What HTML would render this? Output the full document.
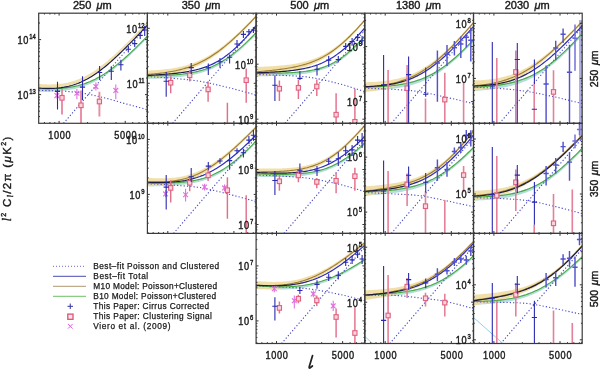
<!DOCTYPE html>
<html><head><meta charset="utf-8"><style>
html,body{margin:0;padding:0;background:#fff;}
svg{display:block;will-change:transform;}
text{font-family:"Liberation Sans", sans-serif;fill:#1a1a1a;}
.b{stroke:#1a1a1a;stroke-width:0.25px;}
.t{stroke:#1a1a1a;stroke-width:0.4px;}
</style></head><body>
<svg width="600" height="369" viewBox="0 0 600 369">
<rect width="600" height="369" fill="#fff"/>
<g id="content"><clipPath id="cp00"><rect x="38.70" y="13.20" width="108.70" height="110.10"/></clipPath><g clip-path="url(#cp00)"><path d="M38.70 87.66L40.20 87.74L41.70 87.80L43.20 87.86L44.70 87.90L46.20 87.94L47.70 87.97L49.20 87.99L50.70 87.99L52.20 87.99L53.70 87.97L55.20 87.94L56.70 87.89L58.20 87.83L59.70 87.75L61.20 87.65L62.70 87.54L64.20 87.41L65.70 87.26L67.20 87.08L68.70 86.89L70.20 86.67L71.70 86.43L73.20 86.16L74.70 85.87L76.20 85.55L77.70 85.20L79.20 84.83L80.70 84.42L82.20 83.99L83.70 83.52L85.20 83.02L86.70 82.49L88.20 81.92L89.70 81.32L91.20 80.69L92.70 80.02L94.20 79.32L95.70 78.59L97.20 77.81L98.70 77.01L100.20 76.17L101.70 75.29L103.20 74.38L104.70 73.44L106.20 72.46L107.70 71.46L109.20 70.42L110.70 69.35L112.20 68.25L113.70 67.12L115.20 65.96L116.70 64.78L118.20 63.57L119.70 62.33L121.20 61.07L122.70 59.79L124.20 58.48L125.70 57.15L127.20 55.80L128.70 54.44L130.20 53.05L131.70 51.65L133.20 50.23L134.70 48.79L136.20 47.34L137.70 45.88L139.20 44.40L140.70 42.91L142.20 41.40L143.70 39.89L145.20 38.37L146.70 36.83L147.40 36.11L147.40 38.11L146.70 38.83L145.20 40.37L143.70 41.90L142.20 43.42L140.70 44.93L139.20 46.43L137.70 47.92L136.20 49.39L134.70 50.86L133.20 52.30L131.70 53.74L130.20 55.15L128.70 56.56L127.20 57.94L125.70 59.30L124.20 60.65L122.70 61.97L121.20 63.27L119.70 64.55L118.20 65.81L116.70 67.04L115.20 68.25L113.70 69.43L112.20 70.58L110.70 71.70L109.20 72.79L107.70 73.86L106.20 74.89L104.70 75.89L103.20 76.86L101.70 77.79L100.20 78.69L98.70 79.56L97.20 80.39L95.70 81.19L94.20 81.96L92.70 82.69L91.20 83.39L89.70 84.05L88.20 84.68L86.70 85.28L85.20 85.84L83.70 86.37L82.20 86.87L80.70 87.34L79.20 87.78L77.70 88.19L76.20 88.57L74.70 88.92L73.20 89.25L71.70 89.55L70.20 89.83L68.70 90.08L67.20 90.31L65.70 90.52L64.20 90.71L62.70 90.88L61.20 91.03L59.70 91.17L58.20 91.28L56.70 91.39L55.20 91.47L53.70 91.55L52.20 91.61L50.70 91.65L49.20 91.69L47.70 91.71L46.20 91.73L44.70 91.73L43.20 91.73L41.70 91.71L40.20 91.69L38.70 91.66Z" fill="#b4dcd8"/><path d="M38.70 83.96L40.20 84.07L41.70 84.16L43.20 84.24L44.70 84.31L46.20 84.36L47.70 84.39L49.20 84.40L50.70 84.39L52.20 84.36L53.70 84.31L55.20 84.24L56.70 84.14L58.20 84.02L59.70 83.87L61.20 83.69L62.70 83.48L64.20 83.24L65.70 82.98L67.20 82.67L68.70 82.34L70.20 81.97L71.70 81.56L73.20 81.12L74.70 80.64L76.20 80.12L77.70 79.57L79.20 78.98L80.70 78.34L82.20 77.67L83.70 76.96L85.20 76.21L86.70 75.42L88.20 74.59L89.70 73.72L91.20 72.82L92.70 71.88L94.20 70.90L95.70 69.89L97.20 68.84L98.70 67.77L100.20 66.65L101.70 65.51L103.20 64.34L104.70 63.14L106.20 61.91L107.70 60.65L109.20 59.37L110.70 58.07L112.20 56.74L113.70 55.40L115.20 54.03L116.70 52.64L118.20 51.23L119.70 49.81L121.20 48.37L122.70 46.92L124.20 45.45L125.70 43.97L127.20 42.48L128.70 40.97L130.20 39.45L131.70 37.93L133.20 36.39L134.70 34.85L136.20 33.30L137.70 31.73L139.20 30.17L140.70 28.59L142.20 27.01L143.70 25.42L145.20 23.83L146.70 22.24L147.40 21.49L147.40 24.09L146.70 24.84L145.20 26.43L143.70 28.03L142.20 29.62L140.70 31.20L139.20 32.78L137.70 34.35L136.20 35.92L134.70 37.47L133.20 39.02L131.70 40.56L130.20 42.10L128.70 43.62L127.20 45.13L125.70 46.63L124.20 48.12L122.70 49.59L121.20 51.05L119.70 52.50L118.20 53.93L116.70 55.35L115.20 56.74L113.70 58.12L112.20 59.48L110.70 60.81L109.20 62.12L107.70 63.41L106.20 64.68L104.70 65.92L103.20 67.13L101.70 68.31L100.20 69.46L98.70 70.59L97.20 71.68L95.70 72.73L94.20 73.76L92.70 74.75L91.20 75.70L89.70 76.61L88.20 77.49L86.70 78.33L85.20 79.14L83.70 79.90L82.20 80.62L80.70 81.31L79.20 81.96L77.70 82.56L76.20 83.13L74.70 83.66L73.20 84.16L71.70 84.61L70.20 85.03L68.70 85.42L67.20 85.77L65.70 86.08L64.20 86.37L62.70 86.62L61.20 86.84L59.70 87.04L58.20 87.20L56.70 87.34L55.20 87.45L53.70 87.54L52.20 87.61L50.70 87.65L49.20 87.68L47.70 87.68L46.20 87.67L44.70 87.64L43.20 87.59L41.70 87.53L40.20 87.45L38.70 87.36Z" fill="#efdb9e" fill-opacity="0.88"/><path d="M38.70 90.40L39.99 90.44L41.63 90.48L43.57 90.53L45.75 90.58L48.11 90.64L50.60 90.71L53.16 90.78L55.73 90.86L58.25 90.96L60.68 91.06L62.95 91.17L65.00 91.30L66.89 91.44L68.70 91.58L70.44 91.73L72.13 91.89L73.78 92.05L75.39 92.23L76.99 92.42L78.57 92.63L80.15 92.84L81.74 93.08L83.35 93.33L85.00 93.60L86.67 93.89L88.33 94.20L90.00 94.52L91.67 94.87L93.33 95.22L95.00 95.59L96.67 95.98L98.33 96.37L100.00 96.77L101.67 97.17L103.33 97.58L105.00 98.00L106.66 98.42L108.31 98.86L109.94 99.30L111.58 99.76L113.21 100.22L114.85 100.69L116.50 101.17L118.16 101.65L119.83 102.14L121.53 102.62L123.25 103.11L125.00 103.60L126.85 104.11L128.85 104.66L130.96 105.23L133.12 105.82L135.30 106.42L137.45 107.00L139.53 107.57L141.50 108.10L143.32 108.59L144.94 109.03L146.31 109.40L147.40 109.70" stroke="#4848c8" stroke-width="1.1" stroke-dasharray="1.2 2.1" fill="none"/><path d="M63.50 123.30L147.40 25.72" stroke="#4848c8" stroke-width="1.1" stroke-dasharray="1.2 2.1" fill="none"/><path d="M38.70 88.66L40.20 88.71L41.70 88.76L43.20 88.79L44.70 88.82L46.20 88.83L47.70 88.84L49.20 88.84L50.70 88.82L52.20 88.80L53.70 88.76L55.20 88.70L56.70 88.64L58.20 88.56L59.70 88.46L61.20 88.34L62.70 88.21L64.20 88.06L65.70 87.89L67.20 87.70L68.70 87.49L70.20 87.25L71.70 86.99L73.20 86.71L74.70 86.40L76.20 86.06L77.70 85.70L79.20 85.30L80.70 84.88L82.20 84.43L83.70 83.95L85.20 83.43L86.70 82.88L88.20 82.30L89.70 81.69L91.20 81.04L92.70 80.36L94.20 79.64L95.70 78.89L97.20 78.10L98.70 77.28L100.20 76.43L101.70 75.54L103.20 74.62L104.70 73.66L106.20 72.68L107.70 71.66L109.20 70.61L110.70 69.52L112.20 68.41L113.70 67.27L115.20 66.10L116.70 64.91L118.20 63.69L119.70 62.44L121.20 61.17L122.70 59.88L124.20 58.56L125.70 57.23L127.20 55.87L128.70 54.50L130.20 53.10L131.70 51.69L133.20 50.27L134.70 48.82L136.20 47.37L137.70 45.90L139.20 44.41L140.70 42.92L142.20 41.41L143.70 39.89L145.20 38.37L146.70 36.83L147.40 36.11" stroke="#48a848" stroke-width="1.1" fill="none"/><path d="M38.70 88.06L40.20 88.16L41.70 88.25L43.20 88.32L44.70 88.37L46.20 88.41L47.70 88.43L49.20 88.44L50.70 88.42L52.20 88.39L53.70 88.33L55.20 88.25L56.70 88.14L58.20 88.01L59.70 87.85L61.20 87.67L62.70 87.45L64.20 87.21L65.70 86.93L67.20 86.62L68.70 86.28L70.20 85.90L71.70 85.49L73.20 85.04L74.70 84.55L76.20 84.03L77.70 83.47L79.20 82.87L80.70 82.23L82.20 81.55L83.70 80.83L85.20 80.07L86.70 79.28L88.20 78.44L89.70 77.57L91.20 76.66L92.70 75.71L94.20 74.73L95.70 73.71L97.20 72.66L98.70 71.58L100.20 70.46L101.70 69.31L103.20 68.13L104.70 66.93L106.20 65.69L107.70 64.43L109.20 63.15L110.70 61.84L112.20 60.51L113.70 59.16L115.20 57.78L116.70 56.39L118.20 54.98L119.70 53.56L121.20 52.11L122.70 50.66L124.20 49.18L125.70 47.70L127.20 46.20L128.70 44.69L130.20 43.18L131.70 41.65L133.20 40.11L134.70 38.56L136.20 37.01L137.70 35.44L139.20 33.87L140.70 32.30L142.20 30.71L143.70 29.13L145.20 27.53L146.70 25.94L147.40 25.19" stroke="#1c1c40" stroke-width="1.2" fill="none"/><path d="M56.90 91.80V98.50M54.50 93.20l4.8 4.8M59.30 93.20l-4.8 4.8" stroke="#e070e0" stroke-width="1.1" fill="none"/><path d="M76.90 88.90V99.30M74.50 90.90l4.8 4.8M79.30 90.90l-4.8 4.8" stroke="#e070e0" stroke-width="1.1" fill="none"/><path d="M95.90 82.50V90.50M93.50 84.20l4.8 4.8M98.30 84.20l-4.8 4.8" stroke="#e070e0" stroke-width="1.1" fill="none"/><path d="M115.80 84.40V99.30M113.40 88.00l4.8 4.8M118.20 88.00l-4.8 4.8" stroke="#e070e0" stroke-width="1.1" fill="none"/><path d="M62.00 88.90V114.50" stroke="#e88ca2" stroke-width="1.9" fill="none"/><rect x="59.90" y="95.50" width="4.2" height="4.6" stroke="#e0607e" stroke-width="1.1" fill="#fad4dc"/><path d="M81.00 90.40V124.00" stroke="#e88ca2" stroke-width="1.9" fill="none"/><rect x="78.90" y="103.00" width="4.2" height="4.6" stroke="#e0607e" stroke-width="1.1" fill="#fad4dc"/><path d="M99.40 91.80V116.40" stroke="#e88ca2" stroke-width="1.9" fill="none"/><rect x="97.30" y="99.20" width="4.2" height="4.6" stroke="#e0607e" stroke-width="1.1" fill="#fad4dc"/><path d="M57.50 81.70V109.40M54.90 91.40h5.2" stroke="#2a2ab0" stroke-width="1.1" fill="none"/><path d="M82.50 76.20V100.00M79.90 87.10h5.2" stroke="#2a2ab0" stroke-width="1.1" fill="none"/><path d="M99.60 66.00V80.00M97.00 72.50h5.2" stroke="#2a2ab0" stroke-width="1.1" fill="none"/><path d="M111.30 66.30V80.00M108.70 71.20h5.2" stroke="#2a2ab0" stroke-width="1.1" fill="none"/><path d="M120.90 59.80V70.40M118.30 64.70h5.2" stroke="#2a2ab0" stroke-width="1.1" fill="none"/><path d="M128.30 46.00V52.50M125.70 49.30h5.2" stroke="#2a2ab0" stroke-width="1.1" fill="none"/><path d="M134.70 40.00V47.00M132.10 43.60h5.2" stroke="#2a2ab0" stroke-width="1.1" fill="none"/><path d="M140.20 32.00V39.00M137.60 35.40h5.2" stroke="#2a2ab0" stroke-width="1.1" fill="none"/><path d="M144.70 26.00V36.00M142.10 30.00h5.2" stroke="#2a2ab0" stroke-width="1.1" fill="none"/></g><clipPath id="cp01"><rect x="147.40" y="13.20" width="108.70" height="110.10"/></clipPath><g clip-path="url(#cp01)"><path d="M147.40 74.91L148.90 74.92L150.40 74.92L151.90 74.92L153.40 74.91L154.90 74.90L156.40 74.89L157.90 74.87L159.40 74.85L160.90 74.82L162.40 74.79L163.90 74.75L165.40 74.70L166.90 74.65L168.40 74.59L169.90 74.52L171.40 74.45L172.90 74.37L174.40 74.27L175.90 74.17L177.40 74.05L178.90 73.93L180.40 73.79L181.90 73.64L183.40 73.48L184.90 73.30L186.40 73.10L187.90 72.89L189.40 72.66L190.90 72.41L192.40 72.15L193.90 71.86L195.40 71.55L196.90 71.22L198.40 70.86L199.90 70.48L201.40 70.07L202.90 69.64L204.40 69.18L205.90 68.68L207.40 68.16L208.90 67.61L210.40 67.02L211.90 66.40L213.40 65.75L214.90 65.06L216.40 64.34L217.90 63.58L219.40 62.78L220.90 61.95L222.40 61.08L223.90 60.18L225.40 59.23L226.90 58.25L228.40 57.24L229.90 56.18L231.40 55.09L232.90 53.97L234.40 52.81L235.90 51.62L237.40 50.39L238.90 49.13L240.40 47.84L241.90 46.52L243.40 45.17L244.90 43.79L246.40 42.38L247.90 40.95L249.40 39.49L250.90 38.01L252.40 36.50L253.90 34.97L255.40 33.42L256.10 32.69L256.10 34.69L255.40 35.42L253.90 36.98L252.40 38.51L250.90 40.02L249.40 41.51L247.90 42.98L246.40 44.42L244.90 45.84L243.40 47.23L241.90 48.60L240.40 49.93L238.90 51.24L237.40 52.51L235.90 53.75L234.40 54.96L232.90 56.14L231.40 57.28L229.90 58.39L228.40 59.46L226.90 60.50L225.40 61.50L223.90 62.46L222.40 63.39L220.90 64.28L219.40 65.13L217.90 65.95L216.40 66.74L214.90 67.48L213.40 68.20L211.90 68.88L210.40 69.52L208.90 70.13L207.40 70.71L205.90 71.26L204.40 71.78L202.90 72.28L201.40 72.74L199.90 73.18L198.40 73.59L196.90 73.97L195.40 74.34L193.90 74.68L192.40 75.00L190.90 75.30L189.40 75.58L187.90 75.84L186.40 76.08L184.90 76.31L183.40 76.53L181.90 76.73L180.40 76.91L178.90 77.09L177.40 77.25L175.90 77.40L174.40 77.54L172.90 77.67L171.40 77.79L169.90 77.90L168.40 78.01L166.90 78.11L165.40 78.20L163.90 78.28L162.40 78.36L160.90 78.44L159.40 78.51L157.90 78.57L156.40 78.63L154.90 78.69L153.40 78.74L151.90 78.79L150.40 78.83L148.90 78.87L147.40 78.91Z" fill="#b4dcd8"/><path d="M147.40 70.55L148.90 70.49L150.40 70.42L151.90 70.35L153.40 70.26L154.90 70.17L156.40 70.07L157.90 69.96L159.40 69.84L160.90 69.71L162.40 69.57L163.90 69.42L165.40 69.25L166.90 69.07L168.40 68.88L169.90 68.68L171.40 68.45L172.90 68.22L174.40 67.96L175.90 67.69L177.40 67.40L178.90 67.09L180.40 66.76L181.90 66.41L183.40 66.03L184.90 65.64L186.40 65.22L187.90 64.77L189.40 64.30L190.90 63.80L192.40 63.28L193.90 62.73L195.40 62.15L196.90 61.54L198.40 60.90L199.90 60.23L201.40 59.53L202.90 58.80L204.40 58.04L205.90 57.24L207.40 56.41L208.90 55.56L210.40 54.66L211.90 53.74L213.40 52.79L214.90 51.80L216.40 50.78L217.90 49.74L219.40 48.66L220.90 47.55L222.40 46.41L223.90 45.24L225.40 44.05L226.90 42.83L228.40 41.58L229.90 40.31L231.40 39.01L232.90 37.69L234.40 36.34L235.90 34.97L237.40 33.58L238.90 32.17L240.40 30.74L241.90 29.29L243.40 27.82L244.90 26.34L246.40 24.84L247.90 23.32L249.40 21.79L250.90 20.24L252.40 18.68L253.90 17.11L255.40 15.52L256.10 14.77L256.10 17.77L255.40 18.52L253.90 20.12L252.40 21.70L250.90 23.28L249.40 24.84L247.90 26.40L246.40 27.94L244.90 29.47L243.40 30.98L241.90 32.48L240.40 33.96L238.90 35.42L237.40 36.87L235.90 38.30L234.40 39.70L232.90 41.09L231.40 42.46L229.90 43.80L228.40 45.12L226.90 46.41L225.40 47.69L223.90 48.93L222.40 50.15L220.90 51.34L219.40 52.50L217.90 53.64L216.40 54.74L214.90 55.82L213.40 56.86L211.90 57.88L210.40 58.86L208.90 59.82L207.40 60.74L205.90 61.64L204.40 62.50L202.90 63.33L201.40 64.13L199.90 64.90L198.40 65.64L196.90 66.35L195.40 67.04L193.90 67.69L192.40 68.32L190.90 68.92L189.40 69.50L187.90 70.05L186.40 70.57L184.90 71.08L183.40 71.56L181.90 72.01L180.40 72.45L178.90 72.87L177.40 73.26L175.90 73.64L174.40 74.00L172.90 74.35L171.40 74.67L169.90 74.99L168.40 75.29L166.90 75.57L165.40 75.84L163.90 76.11L162.40 76.35L160.90 76.59L159.40 76.82L157.90 77.04L156.40 77.25L154.90 77.45L153.40 77.65L151.90 77.83L150.40 78.01L148.90 78.18L147.40 78.35Z" fill="#efdb9e" fill-opacity="0.88"/><path d="M147.40 76.60L148.74 76.69L150.42 76.79L152.40 76.92L154.61 77.05L157.02 77.20L159.58 77.36L162.22 77.53L164.90 77.71L167.57 77.90L170.17 78.10L172.67 78.30L175.00 78.50L177.21 78.70L179.39 78.90L181.54 79.09L183.67 79.29L185.79 79.49L187.91 79.71L190.04 79.95L192.17 80.20L194.33 80.48L196.51 80.78L198.73 81.12L201.00 81.50L203.32 81.92L205.69 82.38L208.11 82.87L210.55 83.39L213.02 83.93L215.49 84.50L217.97 85.08L220.44 85.67L222.88 86.26L225.30 86.85L227.68 87.43L230.00 88.00L232.36 88.59L234.82 89.22L237.34 89.88L239.88 90.56L242.40 91.24L244.86 91.91L247.22 92.55L249.44 93.17L251.48 93.73L253.29 94.23L254.85 94.66L256.10 95.00" stroke="#4848c8" stroke-width="1.1" stroke-dasharray="1.2 2.1" fill="none"/><path d="M172.60 123.30L256.10 26.19" stroke="#4848c8" stroke-width="1.1" stroke-dasharray="1.2 2.1" fill="none"/><path d="M147.40 75.91L148.90 75.90L150.40 75.88L151.90 75.85L153.40 75.82L154.90 75.79L156.40 75.76L157.90 75.72L159.40 75.68L160.90 75.63L162.40 75.58L163.90 75.52L165.40 75.45L166.90 75.38L168.40 75.30L169.90 75.21L171.40 75.12L172.90 75.02L174.40 74.91L175.90 74.78L177.40 74.65L178.90 74.51L180.40 74.35L181.90 74.18L183.40 74.00L184.90 73.80L186.40 73.59L187.90 73.36L189.40 73.12L190.90 72.85L192.40 72.57L193.90 72.27L195.40 71.94L196.90 71.59L198.40 71.22L199.90 70.83L201.40 70.41L202.90 69.96L204.40 69.48L205.90 68.97L207.40 68.44L208.90 67.87L210.40 67.27L211.90 66.64L213.40 65.97L214.90 65.27L216.40 64.54L217.90 63.77L219.40 62.96L220.90 62.12L222.40 61.24L223.90 60.32L225.40 59.36L226.90 58.37L228.40 57.35L229.90 56.29L231.40 55.19L232.90 54.05L234.40 52.89L235.90 51.68L237.40 50.45L238.90 49.18L240.40 47.89L241.90 46.56L243.40 45.20L244.90 43.82L246.40 42.40L247.90 40.96L249.40 39.50L250.90 38.01L252.40 36.50L253.90 34.97L255.40 33.42L256.10 32.69" stroke="#48a848" stroke-width="1.1" fill="none"/><path d="M147.40 74.45L148.90 74.34L150.40 74.22L151.90 74.09L153.40 73.95L154.90 73.81L156.40 73.66L157.90 73.50L159.40 73.33L160.90 73.15L162.40 72.96L163.90 72.76L165.40 72.55L166.90 72.32L168.40 72.08L169.90 71.83L171.40 71.56L172.90 71.28L174.40 70.98L175.90 70.67L177.40 70.33L178.90 69.98L180.40 69.60L181.90 69.21L183.40 68.79L184.90 68.36L186.40 67.90L187.90 67.41L189.40 66.90L190.90 66.36L192.40 65.80L193.90 65.21L195.40 64.59L196.90 63.95L198.40 63.27L199.90 62.57L201.40 61.83L202.90 61.06L204.40 60.27L205.90 59.44L207.40 58.58L208.90 57.69L210.40 56.76L211.90 55.81L213.40 54.83L214.90 53.81L216.40 52.76L217.90 51.69L219.40 50.58L220.90 49.44L222.40 48.28L223.90 47.09L225.40 45.87L226.90 44.62L228.40 43.35L229.90 42.05L231.40 40.73L232.90 39.39L234.40 38.02L235.90 36.63L237.40 35.23L238.90 33.80L240.40 32.35L241.90 30.88L243.40 29.40L244.90 27.90L246.40 26.39L247.90 24.86L249.40 23.32L250.90 21.76L252.40 20.19L253.90 18.61L255.40 17.02L256.10 16.27" stroke="#9c7c30" stroke-width="1.1" fill="none"/><linearGradient id="tg01" gradientUnits="userSpaceOnUse" x1="180.0" y1="0" x2="207.2" y2="0"><stop offset="0" stop-color="#1c1c40"/><stop offset="1" stop-color="#2c2cc0"/></linearGradient><path d="M147.40 75.45L148.90 75.36L150.40 75.28L151.90 75.19L153.40 75.10L154.90 75.01L156.40 74.92L157.90 74.82L159.40 74.72L160.90 74.61L162.40 74.50L163.90 74.39L165.40 74.27L166.90 74.15L168.40 74.02L169.90 73.89L171.40 73.75L172.90 73.60L174.40 73.44L175.90 73.28L177.40 73.11L178.90 72.92L180.40 72.73L181.90 72.53L183.40 72.31L184.90 72.08L186.40 71.84L187.90 71.58L189.40 71.30L190.90 71.01L192.40 70.70L193.90 70.37L195.40 70.02L196.90 69.64L198.40 69.24L199.90 68.82L201.40 68.37L202.90 67.89L204.40 67.38L205.90 66.84L207.40 66.27L208.90 65.66L210.40 65.01L211.90 64.33L213.40 63.61L214.90 62.85L216.40 62.05L217.90 61.21L219.40 60.33L220.90 59.40L222.40 58.42L223.90 57.41L225.40 56.34L226.90 55.23L228.40 54.08L229.90 52.88L231.40 51.64L232.90 50.35L234.40 49.02L235.90 47.65L237.40 46.23L238.90 44.78L240.40 43.28L241.90 41.75L243.40 40.18L244.90 38.57L246.40 36.93L247.90 35.26L249.40 33.56L250.90 31.83L252.40 30.07L253.90 28.28L255.40 26.47L256.10 25.62" stroke="url(#tg01)" stroke-width="1.2" fill="none"/><path d="M170.70 76.20V93.30" stroke="#e2708c" stroke-width="1.45" fill="none"/><rect x="168.60" y="80.40" width="4.2" height="4.6" stroke="#e0607e" stroke-width="1.1" fill="#fad4dc"/><path d="M189.70 70.40V81.40" stroke="#e2708c" stroke-width="1.45" fill="none"/><rect x="187.60" y="73.00" width="4.2" height="4.6" stroke="#e0607e" stroke-width="1.1" fill="#fad4dc"/><path d="M208.10 81.30V101.80" stroke="#e2708c" stroke-width="1.45" fill="none"/><rect x="206.00" y="87.10" width="4.2" height="4.6" stroke="#e0607e" stroke-width="1.1" fill="#fad4dc"/><path d="M227.40 102.70V124.00" stroke="#e2708c" stroke-width="1.45" fill="none"/><rect x="225.30" y="127.70" width="4.2" height="4.6" stroke="#e0607e" stroke-width="1.1" fill="#fad4dc"/><path d="M246.20 68.50V102.70" stroke="#e2708c" stroke-width="1.45" fill="none"/><rect x="244.10" y="77.90" width="4.2" height="4.6" stroke="#e0607e" stroke-width="1.1" fill="#fad4dc"/><path d="M166.20 72.00V96.70M163.60 81.30h5.2" stroke="#2a2ab0" stroke-width="1.1" fill="none"/><path d="M191.20 63.10V74.10M188.60 67.60h5.2" stroke="#2a2ab0" stroke-width="1.1" fill="none"/><path d="M208.30 63.40V74.90M205.70 67.80h5.2" stroke="#2a2ab0" stroke-width="1.1" fill="none"/><path d="M220.00 58.10V67.80M217.40 61.70h5.2" stroke="#2a2ab0" stroke-width="1.1" fill="none"/><path d="M229.60 54.60V63.40M227.00 57.30h5.2" stroke="#2a2ab0" stroke-width="1.1" fill="none"/><path d="M237.00 40.00V48.00M234.40 44.00h5.2" stroke="#2a2ab0" stroke-width="1.1" fill="none"/><path d="M243.40 31.00V38.00M240.80 34.40h5.2" stroke="#2a2ab0" stroke-width="1.1" fill="none"/><path d="M248.90 29.00V35.00M246.30 31.70h5.2" stroke="#2a2ab0" stroke-width="1.1" fill="none"/><path d="M253.40 27.00V33.00M250.80 30.00h5.2" stroke="#2a2ab0" stroke-width="1.1" fill="none"/></g><clipPath id="cp02"><rect x="256.10" y="13.20" width="108.70" height="110.10"/></clipPath><g clip-path="url(#cp02)"><path d="M256.10 72.39L257.60 72.41L259.10 72.43L260.60 72.45L262.10 72.46L263.60 72.47L265.10 72.49L266.60 72.50L268.10 72.50L269.60 72.51L271.10 72.51L272.60 72.51L274.10 72.50L275.60 72.50L277.10 72.49L278.60 72.47L280.10 72.45L281.60 72.43L283.10 72.40L284.60 72.36L286.10 72.32L287.60 72.27L289.10 72.22L290.60 72.16L292.10 72.09L293.60 72.01L295.10 71.92L296.60 71.82L298.10 71.70L299.60 71.58L301.10 71.44L302.60 71.29L304.10 71.12L305.60 70.94L307.10 70.74L308.60 70.51L310.10 70.27L311.60 70.01L313.10 69.72L314.60 69.41L316.10 69.07L317.60 68.70L319.10 68.30L320.60 67.87L322.10 67.40L323.60 66.90L325.10 66.37L326.60 65.79L328.10 65.18L329.60 64.52L331.10 63.83L332.60 63.08L334.10 62.29L335.60 61.46L337.10 60.58L338.60 59.65L340.10 58.67L341.60 57.64L343.10 56.56L344.60 55.44L346.10 54.26L347.60 53.04L349.10 51.77L350.60 50.45L352.10 49.09L353.60 47.68L355.10 46.23L356.60 44.73L358.10 43.20L359.60 41.63L361.10 40.01L362.60 38.37L364.10 36.68L364.80 35.89L364.80 37.89L364.10 38.69L362.60 40.37L361.10 42.02L359.60 43.64L358.10 45.22L356.60 46.77L355.10 48.27L353.60 49.73L352.10 51.15L350.60 52.53L349.10 53.86L347.60 55.14L346.10 56.38L344.60 57.57L343.10 58.71L341.60 59.81L340.10 60.85L338.60 61.85L337.10 62.80L335.60 63.70L334.10 64.56L332.60 65.37L331.10 66.13L329.60 66.85L328.10 67.53L326.60 68.17L325.10 68.77L323.60 69.33L322.10 69.85L320.60 70.34L319.10 70.80L317.60 71.22L316.10 71.62L314.60 71.99L313.10 72.33L311.60 72.64L310.10 72.94L308.60 73.21L307.10 73.46L305.60 73.69L304.10 73.91L302.60 74.11L301.10 74.29L299.60 74.46L298.10 74.62L296.60 74.76L295.10 74.90L293.60 75.02L292.10 75.14L290.60 75.24L289.10 75.34L287.60 75.43L286.10 75.51L284.60 75.59L283.10 75.66L281.60 75.73L280.10 75.79L278.60 75.85L277.10 75.90L275.60 75.95L274.10 76.00L272.60 76.04L271.10 76.09L269.60 76.12L268.10 76.16L266.60 76.20L265.10 76.23L263.60 76.26L262.10 76.29L260.60 76.32L259.10 76.34L257.60 76.37L256.10 76.39Z" fill="#b4dcd8"/><path d="M256.10 66.93L257.60 66.88L259.10 66.83L260.60 66.78L262.10 66.72L263.60 66.66L265.10 66.59L266.60 66.52L268.10 66.44L269.60 66.36L271.10 66.28L272.60 66.18L274.10 66.08L275.60 65.98L277.10 65.87L278.60 65.74L280.10 65.62L281.60 65.48L283.10 65.33L284.60 65.17L286.10 65.00L287.60 64.83L289.10 64.63L290.60 64.43L292.10 64.21L293.60 63.97L295.10 63.72L296.60 63.46L298.10 63.17L299.60 62.87L301.10 62.55L302.60 62.20L304.10 61.83L305.60 61.44L307.10 61.03L308.60 60.59L310.10 60.12L311.60 59.62L313.10 59.09L314.60 58.53L316.10 57.94L317.60 57.32L319.10 56.66L320.60 55.97L322.10 55.24L323.60 54.47L325.10 53.67L326.60 52.83L328.10 51.94L329.60 51.02L331.10 50.06L332.60 49.06L334.10 48.01L335.60 46.93L337.10 45.81L338.60 44.64L340.10 43.44L341.60 42.20L343.10 40.92L344.60 39.60L346.10 38.24L347.60 36.85L349.10 35.42L350.60 33.96L352.10 32.47L353.60 30.95L355.10 29.39L356.60 27.81L358.10 26.19L359.60 24.55L361.10 22.89L362.60 21.19L364.10 19.48L364.80 18.66L364.80 21.46L364.10 22.28L362.60 24.01L361.10 25.72L359.60 27.41L358.10 29.07L356.60 30.72L355.10 32.34L353.60 33.93L352.10 35.50L350.60 37.03L349.10 38.54L347.60 40.02L346.10 41.46L344.60 42.87L343.10 44.25L341.60 45.59L340.10 46.89L338.60 48.16L337.10 49.39L335.60 50.58L334.10 51.74L332.60 52.86L331.10 53.93L329.60 54.97L328.10 55.98L326.60 56.94L325.10 57.87L323.60 58.76L322.10 59.61L320.60 60.43L319.10 61.21L317.60 61.96L316.10 62.68L314.60 63.37L313.10 64.02L311.60 64.65L310.10 65.25L308.60 65.82L307.10 66.37L305.60 66.89L304.10 67.39L302.60 67.87L301.10 68.32L299.60 68.76L298.10 69.18L296.60 69.58L295.10 69.96L293.60 70.33L292.10 70.69L290.60 71.03L289.10 71.36L287.60 71.67L286.10 71.98L284.60 72.28L283.10 72.56L281.60 72.84L280.10 73.11L278.60 73.37L277.10 73.63L275.60 73.88L274.10 74.12L272.60 74.36L271.10 74.59L269.60 74.82L268.10 75.05L266.60 75.27L265.10 75.49L263.60 75.70L262.10 75.91L260.60 76.12L259.10 76.33L257.60 76.53L256.10 76.73Z" fill="#efdb9e" fill-opacity="0.88"/><path d="M256.10 74.50L257.51 74.55L259.28 74.60L261.36 74.66L263.70 74.72L266.24 74.80L268.93 74.88L271.70 74.96L274.51 75.06L277.30 75.16L280.02 75.26L282.60 75.38L285.00 75.50L287.26 75.62L289.47 75.72L291.63 75.82L293.77 75.93L295.89 76.03L297.99 76.16L300.10 76.30L302.22 76.46L304.36 76.66L306.53 76.89L308.74 77.17L311.00 77.50L313.32 77.88L315.71 78.31L318.14 78.78L320.60 79.29L323.08 79.83L325.57 80.40L328.06 80.99L330.53 81.59L332.97 82.19L335.38 82.80L337.72 83.41L340.00 84.00L342.29 84.62L344.66 85.29L347.08 86.00L349.50 86.73L351.89 87.47L354.21 88.21L356.44 88.92L358.53 89.59L360.44 90.21L362.15 90.76L363.61 91.23L364.80 91.60" stroke="#4848c8" stroke-width="1.1" stroke-dasharray="1.2 2.1" fill="none"/><path d="M285.00 123.30L364.80 30.49" stroke="#4848c8" stroke-width="1.1" stroke-dasharray="1.2 2.1" fill="none"/><path d="M256.10 73.39L257.60 73.39L259.10 73.39L260.60 73.38L262.10 73.37L263.60 73.37L265.10 73.36L266.60 73.35L268.10 73.33L269.60 73.32L271.10 73.30L272.60 73.28L274.10 73.25L275.60 73.23L277.10 73.19L278.60 73.16L280.10 73.12L281.60 73.08L283.10 73.03L284.60 72.98L286.10 72.92L287.60 72.85L289.10 72.78L290.60 72.70L292.10 72.61L293.60 72.51L295.10 72.41L296.60 72.29L298.10 72.16L299.60 72.02L301.10 71.87L302.60 71.70L304.10 71.52L305.60 71.32L307.10 71.10L308.60 70.86L310.10 70.61L311.60 70.33L313.10 70.02L314.60 69.70L316.10 69.34L317.60 68.96L319.10 68.55L320.60 68.10L322.10 67.63L323.60 67.12L325.10 66.57L326.60 65.98L328.10 65.36L329.60 64.69L331.10 63.98L332.60 63.22L334.10 62.43L335.60 61.58L337.10 60.69L338.60 59.75L340.10 58.76L341.60 57.72L343.10 56.64L344.60 55.50L346.10 54.32L347.60 53.09L349.10 51.81L350.60 50.49L352.10 49.12L353.60 47.71L355.10 46.25L356.60 44.75L358.10 43.21L359.60 41.63L361.10 40.02L362.60 38.37L364.10 36.69L364.80 35.89" stroke="#48a848" stroke-width="1.1" fill="none"/><path d="M256.10 71.83L257.60 71.71L259.10 71.58L260.60 71.45L262.10 71.32L263.60 71.18L265.10 71.04L266.60 70.89L268.10 70.75L269.60 70.59L271.10 70.44L272.60 70.27L274.10 70.10L275.60 69.93L277.10 69.75L278.60 69.56L280.10 69.36L281.60 69.16L283.10 68.95L284.60 68.72L286.10 68.49L287.60 68.25L289.10 67.99L290.60 67.73L292.10 67.45L293.60 67.15L295.10 66.84L296.60 66.52L298.10 66.18L299.60 65.81L301.10 65.43L302.60 65.03L304.10 64.61L305.60 64.17L307.10 63.70L308.60 63.20L310.10 62.68L311.60 62.14L313.10 61.56L314.60 60.95L316.10 60.31L317.60 59.64L319.10 58.94L320.60 58.20L322.10 57.43L323.60 56.62L325.10 55.77L326.60 54.88L328.10 53.96L329.60 53.00L331.10 52.00L332.60 50.96L334.10 49.88L335.60 48.76L337.10 47.60L338.60 46.40L340.10 45.17L341.60 43.89L343.10 42.58L344.60 41.23L346.10 39.85L347.60 38.43L349.10 36.98L350.60 35.50L352.10 33.98L353.60 32.44L355.10 30.86L356.60 29.26L358.10 27.63L359.60 25.98L361.10 24.30L362.60 22.60L364.10 20.88L364.80 20.06" stroke="#9c7c30" stroke-width="1.1" fill="none"/><linearGradient id="tg02" gradientUnits="userSpaceOnUse" x1="288.7" y1="0" x2="315.9" y2="0"><stop offset="0" stop-color="#1c1c40"/><stop offset="1" stop-color="#2c2cc0"/></linearGradient><path d="M256.10 72.81L257.60 72.76L259.10 72.70L260.60 72.65L262.10 72.59L263.60 72.53L265.10 72.47L266.60 72.40L268.10 72.34L269.60 72.26L271.10 72.19L272.60 72.11L274.10 72.03L275.60 71.94L277.10 71.84L278.60 71.74L280.10 71.64L281.60 71.52L283.10 71.41L284.60 71.28L286.10 71.14L287.60 71.00L289.10 70.84L290.60 70.68L292.10 70.50L293.60 70.32L295.10 70.12L296.60 69.90L298.10 69.67L299.60 69.43L301.10 69.16L302.60 68.88L304.10 68.58L305.60 68.26L307.10 67.92L308.60 67.55L310.10 67.16L311.60 66.75L313.10 66.30L314.60 65.83L316.10 65.32L317.60 64.79L319.10 64.22L320.60 63.62L322.10 62.98L323.60 62.30L325.10 61.58L326.60 60.83L328.10 60.04L329.60 59.20L331.10 58.32L332.60 57.40L334.10 56.44L335.60 55.43L337.10 54.38L338.60 53.29L340.10 52.16L341.60 50.98L343.10 49.75L344.60 48.49L346.10 47.19L347.60 45.84L349.10 44.46L350.60 43.03L352.10 41.58L353.60 40.08L355.10 38.55L356.60 36.99L358.10 35.39L359.60 33.77L361.10 32.12L362.60 30.44L364.10 28.73L364.80 27.92" stroke="url(#tg02)" stroke-width="1.2" fill="none"/><path d="M279.40 80.50V101.00" stroke="#e2708c" stroke-width="1.45" fill="none"/><rect x="277.30" y="86.40" width="4.2" height="4.6" stroke="#e0607e" stroke-width="1.1" fill="#fad4dc"/><path d="M298.40 79.60V98.90" stroke="#e2708c" stroke-width="1.45" fill="none"/><rect x="296.30" y="85.50" width="4.2" height="4.6" stroke="#e0607e" stroke-width="1.1" fill="#fad4dc"/><path d="M316.80 79.60V95.90" stroke="#e2708c" stroke-width="1.45" fill="none"/><rect x="314.70" y="84.20" width="4.2" height="4.6" stroke="#e0607e" stroke-width="1.1" fill="#fad4dc"/><path d="M336.10 93.30V124.00" stroke="#e2708c" stroke-width="1.45" fill="none"/><rect x="334.00" y="112.40" width="4.2" height="4.6" stroke="#e0607e" stroke-width="1.1" fill="#fad4dc"/><path d="M354.90 88.70V124.00" stroke="#e2708c" stroke-width="1.45" fill="none"/><rect x="352.80" y="119.50" width="4.2" height="4.6" stroke="#e0607e" stroke-width="1.1" fill="#fad4dc"/><path d="M274.90 75.40V101.00M272.30 85.30h5.2" stroke="#2a2ab0" stroke-width="1.1" fill="none"/><path d="M299.90 71.10V80.00M297.30 78.40h5.2" stroke="#2a2ab0" stroke-width="1.1" fill="none"/><path d="M317.00 65.00V75.40M314.40 69.30h5.2" stroke="#2a2ab0" stroke-width="1.1" fill="none"/><path d="M328.70 55.90V66.80M326.10 60.10h5.2" stroke="#2a2ab0" stroke-width="1.1" fill="none"/><path d="M338.30 55.90V62.60M335.70 59.50h5.2" stroke="#2a2ab0" stroke-width="1.1" fill="none"/><path d="M345.70 43.00V50.00M343.10 46.40h5.2" stroke="#2a2ab0" stroke-width="1.1" fill="none"/><path d="M352.10 38.00V45.00M349.50 41.50h5.2" stroke="#2a2ab0" stroke-width="1.1" fill="none"/><path d="M357.60 34.00V41.00M355.00 37.40h5.2" stroke="#2a2ab0" stroke-width="1.1" fill="none"/><path d="M362.10 36.00V45.00M359.50 40.70h5.2" stroke="#2a2ab0" stroke-width="1.1" fill="none"/></g><clipPath id="cp03"><rect x="364.80" y="13.20" width="108.70" height="110.10"/></clipPath><g clip-path="url(#cp03)"><path d="M364.80 85.42L366.30 85.42L367.80 85.42L369.30 85.41L370.80 85.40L372.30 85.38L373.80 85.36L375.30 85.33L376.80 85.29L378.30 85.25L379.80 85.20L381.30 85.15L382.80 85.08L384.30 85.01L385.80 84.93L387.30 84.84L388.80 84.73L390.30 84.62L391.80 84.50L393.30 84.36L394.80 84.21L396.30 84.05L397.80 83.87L399.30 83.68L400.80 83.47L402.30 83.24L403.80 82.99L405.30 82.73L406.80 82.44L408.30 82.14L409.80 81.81L411.30 81.45L412.80 81.08L414.30 80.67L415.80 80.24L417.30 79.79L418.80 79.30L420.30 78.78L421.80 78.24L423.30 77.66L424.80 77.05L426.30 76.41L427.80 75.74L429.30 75.03L430.80 74.28L432.30 73.50L433.80 72.69L435.30 71.84L436.80 70.96L438.30 70.04L439.80 69.08L441.30 68.09L442.80 67.06L444.30 66.00L445.80 64.91L447.30 63.78L448.80 62.62L450.30 61.42L451.80 60.20L453.30 58.95L454.80 57.66L456.30 56.35L457.80 55.01L459.30 53.64L460.80 52.24L462.30 50.83L463.80 49.38L465.30 47.92L466.80 46.43L468.30 44.92L469.80 43.40L471.30 41.85L472.80 40.28L473.50 39.55L473.50 41.95L472.80 42.69L471.30 44.26L469.80 45.81L468.30 47.35L466.80 48.87L465.30 50.37L463.80 51.85L462.30 53.31L460.80 54.75L459.30 56.16L457.80 57.55L456.30 58.91L454.80 60.25L453.30 61.56L451.80 62.84L450.30 64.10L448.80 65.32L447.30 66.51L445.80 67.67L444.30 68.79L442.80 69.89L441.30 70.95L439.80 71.97L438.30 72.96L436.80 73.92L435.30 74.84L433.80 75.73L432.30 76.58L430.80 77.40L429.30 78.19L427.80 78.94L426.30 79.65L424.80 80.34L423.30 80.99L421.80 81.61L420.30 82.20L418.80 82.77L417.30 83.30L415.80 83.80L414.30 84.28L412.80 84.74L411.30 85.16L409.80 85.57L408.30 85.95L406.80 86.31L405.30 86.65L403.80 86.97L402.30 87.27L400.80 87.55L399.30 87.82L397.80 88.07L396.30 88.30L394.80 88.52L393.30 88.73L391.80 88.93L390.30 89.11L388.80 89.28L387.30 89.44L385.80 89.60L384.30 89.74L382.80 89.88L381.30 90.00L379.80 90.12L378.30 90.24L376.80 90.35L375.30 90.45L373.80 90.54L372.30 90.63L370.80 90.72L369.30 90.80L367.80 90.88L366.30 90.95L364.80 91.02Z" fill="#b4dcd8"/><path d="M364.80 82.25L366.30 82.21L367.80 82.16L369.30 82.11L370.80 82.04L372.30 81.97L373.80 81.89L375.30 81.80L376.80 81.69L378.30 81.58L379.80 81.45L381.30 81.31L382.80 81.15L384.30 80.98L385.80 80.80L387.30 80.60L388.80 80.38L390.30 80.14L391.80 79.88L393.30 79.60L394.80 79.30L396.30 78.98L397.80 78.63L399.30 78.26L400.80 77.87L402.30 77.44L403.80 76.99L405.30 76.51L406.80 76.01L408.30 75.47L409.80 74.89L411.30 74.29L412.80 73.65L414.30 72.98L415.80 72.28L417.30 71.54L418.80 70.76L420.30 69.95L421.80 69.10L423.30 68.21L424.80 67.29L426.30 66.33L427.80 65.34L429.30 64.31L430.80 63.24L432.30 62.14L433.80 61.01L435.30 59.84L436.80 58.64L438.30 57.40L439.80 56.14L441.30 54.84L442.80 53.51L444.30 52.16L445.80 50.77L447.30 49.36L448.80 47.92L450.30 46.46L451.80 44.98L453.30 43.47L454.80 41.94L456.30 40.39L457.80 38.82L459.30 37.23L460.80 35.62L462.30 33.99L463.80 32.35L465.30 30.70L466.80 29.02L468.30 27.34L469.80 25.64L471.30 23.92L472.80 22.20L473.50 21.38L473.50 23.98L472.80 24.80L471.30 26.54L469.80 28.27L468.30 29.99L466.80 31.71L465.30 33.41L463.80 35.11L462.30 36.79L460.80 38.46L459.30 40.11L457.80 41.75L456.30 43.38L454.80 44.98L453.30 46.57L451.80 48.14L450.30 49.69L448.80 51.22L447.30 52.72L445.80 54.20L444.30 55.66L442.80 57.09L441.30 58.50L439.80 59.87L438.30 61.22L436.80 62.54L435.30 63.83L433.80 65.09L432.30 66.31L430.80 67.50L429.30 68.66L427.80 69.79L426.30 70.88L424.80 71.94L423.30 72.96L421.80 73.95L420.30 74.91L418.80 75.82L417.30 76.71L415.80 77.56L414.30 78.38L412.80 79.17L411.30 79.92L409.80 80.64L408.30 81.33L406.80 81.99L405.30 82.62L403.80 83.23L402.30 83.81L400.80 84.36L399.30 84.88L397.80 85.38L396.30 85.86L394.80 86.32L393.30 86.75L391.80 87.17L390.30 87.56L388.80 87.94L387.30 88.30L385.80 88.65L384.30 88.98L382.80 89.29L381.30 89.59L379.80 89.88L378.30 90.16L376.80 90.43L375.30 90.69L373.80 90.93L372.30 91.17L370.80 91.40L369.30 91.62L367.80 91.84L366.30 92.05L364.80 92.25Z" fill="#efdb9e" fill-opacity="0.88"/><path d="M364.80 88.20L366.11 88.25L367.76 88.31L369.69 88.37L371.86 88.44L374.22 88.52L376.71 88.61L379.30 88.70L381.94 88.80L384.58 88.91L387.16 89.03L389.65 89.16L392.00 89.30L394.26 89.44L396.52 89.58L398.79 89.72L401.05 89.86L403.31 90.02L405.57 90.18L407.83 90.36L410.08 90.56L412.32 90.78L414.56 91.02L416.79 91.30L419.00 91.60L421.19 91.94L423.36 92.31L425.51 92.70L427.65 93.13L429.78 93.57L431.91 94.03L434.04 94.51L436.19 95.00L438.35 95.49L440.53 95.99L442.75 96.50L445.00 97.00L447.38 97.53L449.94 98.11L452.62 98.72L455.37 99.36L458.14 100.00L460.88 100.64L463.52 101.26L466.02 101.84L468.32 102.39L470.37 102.87L472.11 103.28L473.50 103.60" stroke="#4848c8" stroke-width="1.1" stroke-dasharray="1.2 2.1" fill="none"/><path d="M391.40 123.30L473.50 27.82" stroke="#4848c8" stroke-width="1.1" stroke-dasharray="1.2 2.1" fill="none"/><path d="M364.80 87.22L366.30 87.19L367.80 87.15L369.30 87.11L370.80 87.06L372.30 87.01L373.80 86.95L375.30 86.89L376.80 86.82L378.30 86.74L379.80 86.66L381.30 86.57L382.80 86.48L384.30 86.37L385.80 86.26L387.30 86.14L388.80 86.01L390.30 85.87L391.80 85.71L393.30 85.55L394.80 85.37L396.30 85.18L397.80 84.97L399.30 84.75L400.80 84.51L402.30 84.25L403.80 83.98L405.30 83.69L406.80 83.38L408.30 83.04L409.80 82.69L411.30 82.31L412.80 81.91L414.30 81.48L415.80 81.02L417.30 80.54L418.80 80.03L420.30 79.49L421.80 78.93L423.30 78.33L424.80 77.70L426.30 77.03L427.80 76.34L429.30 75.61L430.80 74.84L432.30 74.04L433.80 73.21L435.30 72.34L436.80 71.44L438.30 70.50L439.80 69.53L441.30 68.52L442.80 67.47L444.30 66.40L445.80 65.29L447.30 64.14L448.80 62.97L450.30 61.76L451.80 60.52L453.30 59.25L454.80 57.96L456.30 56.63L457.80 55.28L459.30 53.90L460.80 52.50L462.30 51.07L463.80 49.62L465.30 48.14L466.80 46.65L468.30 45.14L469.80 43.60L471.30 42.05L472.80 40.49L473.50 39.75" stroke="#48a848" stroke-width="1.1" fill="none"/><path d="M364.80 87.25L366.30 87.13L367.80 87.00L369.30 86.87L370.80 86.72L372.30 86.57L373.80 86.41L375.30 86.24L376.80 86.06L378.30 85.87L379.80 85.67L381.30 85.45L382.80 85.22L384.30 84.98L385.80 84.72L387.30 84.45L388.80 84.16L390.30 83.85L391.80 83.52L393.30 83.18L394.80 82.81L396.30 82.42L397.80 82.01L399.30 81.57L400.80 81.11L402.30 80.62L403.80 80.11L405.30 79.57L406.80 79.00L408.30 78.40L409.80 77.77L411.30 77.10L412.80 76.41L414.30 75.68L415.80 74.92L417.30 74.12L418.80 73.29L420.30 72.43L421.80 71.52L423.30 70.59L424.80 69.62L426.30 68.61L427.80 67.56L429.30 66.49L430.80 65.37L432.30 64.23L433.80 63.05L435.30 61.83L436.80 60.59L438.30 59.31L439.80 58.00L441.30 56.67L442.80 55.30L444.30 53.91L445.80 52.49L447.30 51.04L448.80 49.57L450.30 48.08L451.80 46.56L453.30 45.02L454.80 43.46L456.30 41.88L457.80 40.29L459.30 38.67L460.80 37.04L462.30 35.39L463.80 33.73L465.30 32.06L466.80 30.37L468.30 28.67L469.80 26.95L471.30 25.23L472.80 23.50L473.50 22.68" stroke="#9c7c30" stroke-width="1.1" fill="none"/><linearGradient id="tg03" gradientUnits="userSpaceOnUse" x1="397.4" y1="0" x2="424.6" y2="0"><stop offset="0" stop-color="#1c1c40"/><stop offset="1" stop-color="#2c2cc0"/></linearGradient><path d="M364.80 86.70L366.30 86.64L367.80 86.58L369.30 86.50L370.80 86.42L372.30 86.34L373.80 86.24L375.30 86.13L376.80 86.02L378.30 85.89L379.80 85.75L381.30 85.60L382.80 85.44L384.30 85.26L385.80 85.07L387.30 84.86L388.80 84.63L390.30 84.39L391.80 84.13L393.30 83.85L394.80 83.54L396.30 83.22L397.80 82.87L399.30 82.50L400.80 82.11L402.30 81.69L403.80 81.24L405.30 80.77L406.80 80.26L408.30 79.73L409.80 79.16L411.30 78.56L412.80 77.93L414.30 77.27L415.80 76.57L417.30 75.84L418.80 75.07L420.30 74.27L421.80 73.43L423.30 72.56L424.80 71.65L426.30 70.70L427.80 69.72L429.30 68.70L430.80 67.65L432.30 66.57L433.80 65.44L435.30 64.29L436.80 63.10L438.30 61.88L439.80 60.63L441.30 59.35L442.80 58.04L444.30 56.71L445.80 55.34L447.30 53.95L448.80 52.53L450.30 51.09L451.80 49.63L453.30 48.14L454.80 46.64L456.30 45.11L457.80 43.57L459.30 42.00L460.80 40.43L462.30 38.83L463.80 37.22L465.30 35.60L466.80 33.96L468.30 32.31L469.80 30.65L471.30 28.97L472.80 27.29L473.50 26.50" stroke="url(#tg03)" stroke-width="1.2" fill="none"/><path d="M388.10 70.00V124.00" stroke="#e4809a" stroke-width="1.6" fill="none"/><rect x="386.00" y="127.70" width="4.2" height="4.6" stroke="#e0607e" stroke-width="1.1" fill="#fad4dc"/><path d="M407.10 65.10V124.00" stroke="#e4809a" stroke-width="1.6" fill="none"/><rect x="405.00" y="85.90" width="4.2" height="4.6" stroke="#e0607e" stroke-width="1.1" fill="#fad4dc"/><path d="M425.50 98.40V124.00" stroke="#e4809a" stroke-width="1.6" fill="none"/><rect x="423.40" y="127.70" width="4.2" height="4.6" stroke="#e0607e" stroke-width="1.1" fill="#fad4dc"/><path d="M444.80 72.80V124.00" stroke="#e4809a" stroke-width="1.6" fill="none"/><rect x="442.70" y="97.30" width="4.2" height="4.6" stroke="#e0607e" stroke-width="1.1" fill="#fad4dc"/><path d="M463.60 82.20V124.00" stroke="#e4809a" stroke-width="1.6" fill="none"/><rect x="461.50" y="127.70" width="4.2" height="4.6" stroke="#e0607e" stroke-width="1.1" fill="#fad4dc"/><path d="M383.60 55.00V124.00M381.00 84.80h5.2" stroke="#2a2ab0" stroke-width="1.1" fill="none"/><path d="M408.60 56.50V124.00M406.00 74.60h5.2" stroke="#2a2ab0" stroke-width="1.1" fill="none"/><path d="M425.70 67.50V96.70M423.10 94.20h5.2" stroke="#2a2ab0" stroke-width="1.1" fill="none"/><path d="M437.40 50.40V101.80M434.80 63.00h5.2" stroke="#5252cc" stroke-width="1.45" fill="none"/><path d="M447.00 45.10V65.90M444.40 54.30h5.2" stroke="#5252cc" stroke-width="1.45" fill="none"/><path d="M454.40 40.90V55.50M451.80 47.60h5.2" stroke="#5252cc" stroke-width="1.45" fill="none"/><path d="M460.80 36.60V57.90M458.20 43.90h5.2" stroke="#5252cc" stroke-width="1.45" fill="none"/><path d="M466.30 34.10V47.60M463.70 37.20h5.2" stroke="#5252cc" stroke-width="1.45" fill="none"/><path d="M470.80 27.40V61.60M468.20 40.20h5.2" stroke="#5252cc" stroke-width="1.45" fill="none"/></g><clipPath id="cp04"><rect x="473.50" y="13.20" width="108.70" height="110.10"/></clipPath><g clip-path="url(#cp04)"><path d="M473.50 85.44L475.00 85.40L476.50 85.36L478.00 85.32L479.50 85.27L481.00 85.21L482.50 85.14L484.00 85.07L485.50 84.99L487.00 84.90L488.50 84.81L490.00 84.70L491.50 84.58L493.00 84.46L494.50 84.32L496.00 84.17L497.50 84.01L499.00 83.84L500.50 83.65L502.00 83.44L503.50 83.22L505.00 82.99L506.50 82.73L508.00 82.46L509.50 82.17L511.00 81.85L512.50 81.52L514.00 81.16L515.50 80.78L517.00 80.38L518.50 79.95L520.00 79.49L521.50 79.00L523.00 78.49L524.50 77.95L526.00 77.38L527.50 76.77L529.00 76.14L530.50 75.47L532.00 74.77L533.50 74.03L535.00 73.26L536.50 72.46L538.00 71.62L539.50 70.75L541.00 69.84L542.50 68.90L544.00 67.92L545.50 66.91L547.00 65.87L548.50 64.79L550.00 63.67L551.50 62.53L553.00 61.35L554.50 60.14L556.00 58.90L557.50 57.63L559.00 56.33L560.50 55.01L562.00 53.65L563.50 52.27L565.00 50.87L566.50 49.44L568.00 47.99L569.50 46.52L571.00 45.02L572.50 43.51L574.00 41.97L575.50 40.42L577.00 38.85L578.50 37.26L580.00 35.66L581.50 34.04L582.20 33.28L582.20 35.68L581.50 36.44L580.00 38.07L578.50 39.68L577.00 41.28L575.50 42.86L574.00 44.42L572.50 45.97L571.00 47.51L569.50 49.02L568.00 50.51L566.50 51.99L565.00 53.44L563.50 54.87L562.00 56.27L560.50 57.65L559.00 59.00L557.50 60.33L556.00 61.63L554.50 62.90L553.00 64.14L551.50 65.35L550.00 66.53L548.50 67.68L547.00 68.79L545.50 69.87L544.00 70.92L542.50 71.94L541.00 72.92L539.50 73.87L538.00 74.78L536.50 75.66L535.00 76.51L533.50 77.32L532.00 78.10L530.50 78.84L529.00 79.56L527.50 80.24L526.00 80.89L524.50 81.51L523.00 82.10L521.50 82.66L520.00 83.20L518.50 83.71L517.00 84.19L515.50 84.65L514.00 85.08L512.50 85.49L511.00 85.88L509.50 86.25L508.00 86.60L506.50 86.92L505.00 87.24L503.50 87.53L502.00 87.81L500.50 88.07L499.00 88.32L497.50 88.56L496.00 88.78L494.50 88.99L493.00 89.19L491.50 89.38L490.00 89.56L488.50 89.73L487.00 89.89L485.50 90.04L484.00 90.19L482.50 90.33L481.00 90.46L479.50 90.59L478.00 90.71L476.50 90.82L475.00 90.93L473.50 91.04Z" fill="#b4dcd8"/><path d="M473.50 80.43L475.00 80.40L476.50 80.35L478.00 80.29L479.50 80.22L481.00 80.14L482.50 80.04L484.00 79.93L485.50 79.80L487.00 79.66L488.50 79.51L490.00 79.33L491.50 79.14L493.00 78.93L494.50 78.70L496.00 78.45L497.50 78.17L499.00 77.88L500.50 77.56L502.00 77.22L503.50 76.86L505.00 76.47L506.50 76.05L508.00 75.61L509.50 75.13L511.00 74.64L512.50 74.11L514.00 73.55L515.50 72.97L517.00 72.35L518.50 71.70L520.00 71.02L521.50 70.32L523.00 69.58L524.50 68.81L526.00 68.00L527.50 67.17L529.00 66.31L530.50 65.41L532.00 64.49L533.50 63.53L535.00 62.55L536.50 61.53L538.00 60.49L539.50 59.42L541.00 58.32L542.50 57.20L544.00 56.05L545.50 54.87L547.00 53.67L548.50 52.45L550.00 51.20L551.50 49.93L553.00 48.64L554.50 47.33L556.00 46.00L557.50 44.65L559.00 43.29L560.50 41.90L562.00 40.50L563.50 39.09L565.00 37.65L566.50 36.21L568.00 34.75L569.50 33.28L571.00 31.79L572.50 30.29L574.00 28.78L575.50 27.26L577.00 25.73L578.50 24.19L580.00 22.63L581.50 21.07L582.20 20.33L582.20 22.93L581.50 23.67L580.00 25.25L578.50 26.82L577.00 28.39L575.50 29.96L574.00 31.51L572.50 33.06L571.00 34.61L569.50 36.14L568.00 37.66L566.50 39.18L565.00 40.68L563.50 42.18L562.00 43.66L560.50 45.13L559.00 46.58L557.50 48.02L556.00 49.44L554.50 50.85L553.00 52.24L551.50 53.62L550.00 54.97L548.50 56.31L547.00 57.62L545.50 58.91L544.00 60.18L542.50 61.43L541.00 62.66L539.50 63.86L538.00 65.03L536.50 66.18L535.00 67.30L533.50 68.40L532.00 69.47L530.50 70.51L529.00 71.52L527.50 72.50L526.00 73.46L524.50 74.38L523.00 75.28L521.50 76.14L520.00 76.98L518.50 77.79L517.00 78.57L515.50 79.32L514.00 80.04L512.50 80.74L511.00 81.40L509.50 82.04L508.00 82.66L506.50 83.24L505.00 83.81L503.50 84.35L502.00 84.86L500.50 85.35L499.00 85.82L497.50 86.27L496.00 86.70L494.50 87.11L493.00 87.50L491.50 87.88L490.00 88.23L488.50 88.57L487.00 88.90L485.50 89.20L484.00 89.50L482.50 89.78L481.00 90.05L479.50 90.31L478.00 90.56L476.50 90.79L475.00 91.02L473.50 91.23Z" fill="#efdb9e" fill-opacity="0.88"/><rect x="579" y="20" width="3.20" height="103.30" fill="#b0b0e4"/><path d="M473.50 87.30L474.78 87.35L476.37 87.41L478.23 87.47L480.31 87.54L482.59 87.62L485.00 87.71L487.51 87.80L490.07 87.91L492.65 88.04L495.19 88.18L497.65 88.33L500.00 88.50L502.28 88.68L504.59 88.88L506.92 89.09L509.26 89.31L511.61 89.54L513.97 89.79L516.33 90.05L518.69 90.33L521.04 90.62L523.37 90.93L525.70 91.26L528.00 91.60L530.28 91.97L532.56 92.35L534.82 92.76L537.07 93.19L539.31 93.63L541.55 94.08L543.79 94.55L546.02 95.03L548.26 95.51L550.50 96.00L552.75 96.50L555.00 97.00L557.35 97.53L559.84 98.11L562.42 98.72L565.06 99.36L567.70 100.00L570.29 100.64L572.78 101.26L575.14 101.84L577.31 102.39L579.24 102.87L580.89 103.28L582.20 103.60" stroke="#4848c8" stroke-width="1.1" stroke-dasharray="1.2 2.1" fill="none"/><path d="M499.50 123.30L582.20 27.12" stroke="#4848c8" stroke-width="1.1" stroke-dasharray="1.2 2.1" fill="none"/><path d="M473.50 87.24L475.00 87.17L476.50 87.09L478.00 87.01L479.50 86.93L481.00 86.83L482.50 86.74L484.00 86.63L485.50 86.52L487.00 86.40L488.50 86.27L490.00 86.13L491.50 85.98L493.00 85.82L494.50 85.66L496.00 85.48L497.50 85.28L499.00 85.08L500.50 84.86L502.00 84.63L503.50 84.38L505.00 84.11L506.50 83.83L508.00 83.53L509.50 83.21L511.00 82.87L512.50 82.50L514.00 82.12L515.50 81.71L517.00 81.28L518.50 80.83L520.00 80.34L521.50 79.83L523.00 79.30L524.50 78.73L526.00 78.13L527.50 77.50L529.00 76.85L530.50 76.16L532.00 75.43L533.50 74.68L535.00 73.88L536.50 73.06L538.00 72.20L539.50 71.31L541.00 70.38L542.50 69.42L544.00 68.42L545.50 67.39L547.00 66.33L548.50 65.23L550.00 64.10L551.50 62.94L553.00 61.74L554.50 60.52L556.00 59.27L557.50 57.98L559.00 56.67L560.50 55.33L562.00 53.96L563.50 52.57L565.00 51.15L566.50 49.71L568.00 48.25L569.50 46.77L571.00 45.26L572.50 43.74L574.00 42.20L575.50 40.64L577.00 39.06L578.50 37.47L580.00 35.86L581.50 34.24L582.20 33.48" stroke="#48a848" stroke-width="1.1" fill="none"/><path d="M473.50 85.83L475.00 85.71L476.50 85.57L478.00 85.42L479.50 85.26L481.00 85.09L482.50 84.91L484.00 84.71L485.50 84.50L487.00 84.28L488.50 84.04L490.00 83.78L491.50 83.51L493.00 83.22L494.50 82.90L496.00 82.57L497.50 82.22L499.00 81.85L500.50 81.46L502.00 81.04L503.50 80.60L505.00 80.14L506.50 79.65L508.00 79.13L509.50 78.59L511.00 78.02L512.50 77.42L514.00 76.80L515.50 76.14L517.00 75.46L518.50 74.75L520.00 74.00L521.50 73.23L523.00 72.43L524.50 71.59L526.00 70.73L527.50 69.84L529.00 68.91L530.50 67.96L532.00 66.98L533.50 65.96L535.00 64.92L536.50 63.86L538.00 62.76L539.50 61.64L541.00 60.49L542.50 59.31L544.00 58.11L545.50 56.89L547.00 55.64L548.50 54.38L550.00 53.09L551.50 51.77L553.00 50.44L554.50 49.09L556.00 47.72L557.50 46.34L559.00 44.93L560.50 43.51L562.00 42.08L563.50 40.63L565.00 39.17L566.50 37.69L568.00 36.21L569.50 34.71L571.00 33.20L572.50 31.68L574.00 30.15L575.50 28.61L577.00 27.06L578.50 25.50L580.00 23.94L581.50 22.37L582.20 21.63" stroke="#9c7c30" stroke-width="1.1" fill="none"/><linearGradient id="tg04" gradientUnits="userSpaceOnUse" x1="505.0" y1="0" x2="545.0" y2="0"><stop offset="0" stop-color="#1c1c40"/><stop offset="1" stop-color="#2c2cc0"/></linearGradient><path d="M473.50 86.03L475.00 85.98L476.50 85.91L478.00 85.84L479.50 85.76L481.00 85.67L482.50 85.57L484.00 85.46L485.50 85.33L487.00 85.19L488.50 85.04L490.00 84.88L491.50 84.70L493.00 84.51L494.50 84.30L496.00 84.07L497.50 83.82L499.00 83.55L500.50 83.27L502.00 82.96L503.50 82.63L505.00 82.27L506.50 81.90L508.00 81.49L509.50 81.06L511.00 80.61L512.50 80.12L514.00 79.61L515.50 79.07L517.00 78.50L518.50 77.89L520.00 77.26L521.50 76.59L523.00 75.89L524.50 75.15L526.00 74.39L527.50 73.58L529.00 72.75L530.50 71.88L532.00 70.98L533.50 70.04L535.00 69.08L536.50 68.07L538.00 67.04L539.50 65.97L541.00 64.88L542.50 63.75L544.00 62.59L545.50 61.40L547.00 60.19L548.50 58.94L550.00 57.67L551.50 56.38L553.00 55.06L554.50 53.71L556.00 52.35L557.50 50.96L559.00 49.55L560.50 48.12L562.00 46.67L563.50 45.20L565.00 43.72L566.50 42.22L568.00 40.71L569.50 39.18L571.00 37.63L572.50 36.08L574.00 34.51L575.50 32.93L577.00 31.34L578.50 29.74L580.00 28.13L581.50 26.51L582.20 25.75" stroke="url(#tg04)" stroke-width="1.2" fill="none"/><path d="M496.80 58.00V124.00" stroke="#e4809a" stroke-width="1.6" fill="none"/><rect x="494.70" y="127.70" width="4.2" height="4.6" stroke="#e0607e" stroke-width="1.1" fill="#fad4dc"/><path d="M515.80 50.50V124.00" stroke="#e4809a" stroke-width="1.6" fill="none"/><rect x="513.70" y="69.70" width="4.2" height="4.6" stroke="#e0607e" stroke-width="1.1" fill="#fad4dc"/><path d="M534.20 84.00V124.00" stroke="#e4809a" stroke-width="1.6" fill="none"/><rect x="532.10" y="127.70" width="4.2" height="4.6" stroke="#e0607e" stroke-width="1.1" fill="#fad4dc"/><path d="M553.50 70.20V124.00" stroke="#e4809a" stroke-width="1.6" fill="none"/><rect x="551.40" y="89.60" width="4.2" height="4.6" stroke="#e0607e" stroke-width="1.1" fill="#fad4dc"/><path d="M575.00 24.40V70.80M572.40 38.20h5.2" stroke="#7070d8" stroke-width="1.5" fill="none"/><path d="M492.30 42.00V124.00M489.70 86.00h5.2" stroke="#2a2ab0" stroke-width="1.1" fill="none"/><path d="M517.30 43.00V124.00M514.70 59.50h5.2" stroke="#2a2ab0" stroke-width="1.1" fill="none"/><path d="M534.40 59.40V83.90M531.80 109.20h5.2" stroke="#2a2ab0" stroke-width="1.1" fill="none"/><path d="M546.10 65.50V124.00M543.50 83.90h5.2" stroke="#5252cc" stroke-width="1.45" fill="none"/><path d="M555.70 40.70V60.20M553.10 48.00h5.2" stroke="#5252cc" stroke-width="1.45" fill="none"/><path d="M563.10 28.50V43.10M560.50 34.20h5.2" stroke="#5252cc" stroke-width="1.45" fill="none"/><path d="M569.50 44.70V124.00M566.90 72.30h5.2" stroke="#5252cc" stroke-width="1.45" fill="none"/></g><clipPath id="cp11"><rect x="147.40" y="123.30" width="108.70" height="110.10"/></clipPath><g clip-path="url(#cp11)"><path d="M147.40 182.29L148.90 182.33L150.40 182.36L151.90 182.40L153.40 182.42L154.90 182.45L156.40 182.47L157.90 182.49L159.40 182.50L160.90 182.50L162.40 182.50L163.90 182.50L165.40 182.49L166.90 182.47L168.40 182.44L169.90 182.41L171.40 182.37L172.90 182.31L174.40 182.25L175.90 182.18L177.40 182.10L178.90 182.00L180.40 181.90L181.90 181.78L183.40 181.64L184.90 181.49L186.40 181.32L187.90 181.14L189.40 180.94L190.90 180.71L192.40 180.47L193.90 180.21L195.40 179.92L196.90 179.61L198.40 179.28L199.90 178.91L201.40 178.53L202.90 178.11L204.40 177.66L205.90 177.18L207.40 176.67L208.90 176.13L210.40 175.55L211.90 174.94L213.40 174.29L214.90 173.61L216.40 172.89L217.90 172.13L219.40 171.33L220.90 170.50L222.40 169.63L223.90 168.71L225.40 167.76L226.90 166.78L228.40 165.75L229.90 164.69L231.40 163.59L232.90 162.45L234.40 161.28L235.90 160.07L237.40 158.83L238.90 157.56L240.40 156.25L241.90 154.91L243.40 153.55L244.90 152.15L246.40 150.73L247.90 149.28L249.40 147.80L250.90 146.30L252.40 144.78L253.90 143.24L255.40 141.67L256.10 140.93L256.10 142.93L255.40 143.67L253.90 145.24L252.40 146.79L250.90 148.32L249.40 149.83L247.90 151.31L246.40 152.77L244.90 154.20L243.40 155.61L241.90 156.99L240.40 158.34L238.90 159.66L237.40 160.95L235.90 162.21L234.40 163.43L232.90 164.62L231.40 165.77L229.90 166.89L228.40 167.98L226.90 169.02L225.40 170.03L223.90 171.00L222.40 171.93L220.90 172.83L219.40 173.68L217.90 174.50L216.40 175.29L214.90 176.03L213.40 176.74L211.90 177.41L210.40 178.05L208.90 178.65L207.40 179.22L205.90 179.76L204.40 180.27L202.90 180.74L201.40 181.19L199.90 181.61L198.40 182.00L196.90 182.37L195.40 182.71L193.90 183.03L192.40 183.32L190.90 183.60L189.40 183.85L187.90 184.09L186.40 184.31L184.90 184.51L183.40 184.69L181.90 184.86L180.40 185.02L178.90 185.16L177.40 185.29L175.90 185.41L174.40 185.52L172.90 185.62L171.40 185.71L169.90 185.79L168.40 185.86L166.90 185.93L165.40 185.98L163.90 186.04L162.40 186.08L160.90 186.12L159.40 186.16L157.90 186.19L156.40 186.21L154.90 186.23L153.40 186.25L151.90 186.27L150.40 186.28L148.90 186.28L147.40 186.29Z" fill="#b4dcd8"/><path d="M147.40 177.80L148.90 177.91L150.40 178.01L151.90 178.10L153.40 178.18L154.90 178.24L156.40 178.30L157.90 178.34L159.40 178.36L160.90 178.37L162.40 178.37L163.90 178.35L165.40 178.31L166.90 178.25L168.40 178.17L169.90 178.07L171.40 177.96L172.90 177.81L174.40 177.65L175.90 177.46L177.40 177.25L178.90 177.01L180.40 176.74L181.90 176.45L183.40 176.13L184.90 175.77L186.40 175.39L187.90 174.97L189.40 174.53L190.90 174.05L192.40 173.54L193.90 172.99L195.40 172.41L196.90 171.80L198.40 171.15L199.90 170.47L201.40 169.75L202.90 169.00L204.40 168.21L205.90 167.40L207.40 166.54L208.90 165.66L210.40 164.74L211.90 163.79L213.40 162.81L214.90 161.80L216.40 160.76L217.90 159.69L219.40 158.60L220.90 157.47L222.40 156.32L223.90 155.15L225.40 153.95L226.90 152.73L228.40 151.48L229.90 150.22L231.40 148.93L232.90 147.63L234.40 146.31L235.90 144.96L237.40 143.61L238.90 142.23L240.40 140.84L241.90 139.44L243.40 138.03L244.90 136.60L246.40 135.15L247.90 133.70L249.40 132.24L250.90 130.76L252.40 129.28L253.90 127.78L255.40 126.27L256.10 125.57L256.10 128.77L255.40 129.48L253.90 130.99L252.40 132.50L250.90 134.00L249.40 135.50L247.90 136.98L246.40 138.46L244.90 139.93L243.40 141.39L241.90 142.84L240.40 144.28L238.90 145.71L237.40 147.12L235.90 148.52L234.40 149.90L232.90 151.27L231.40 152.62L229.90 153.95L228.40 155.27L226.90 156.56L225.40 157.84L223.90 159.09L222.40 160.32L220.90 161.53L219.40 162.71L217.90 163.87L216.40 165.00L214.90 166.10L213.40 167.18L211.90 168.22L210.40 169.24L208.90 170.23L207.40 171.18L205.90 172.11L204.40 173.00L202.90 173.86L201.40 174.68L199.90 175.48L198.40 176.24L196.90 176.96L195.40 177.66L193.90 178.32L192.40 178.95L190.90 179.54L189.40 180.11L187.90 180.64L186.40 181.14L184.90 181.61L183.40 182.06L181.90 182.47L180.40 182.86L178.90 183.22L177.40 183.55L175.90 183.86L174.40 184.14L172.90 184.41L171.40 184.64L169.90 184.86L168.40 185.06L166.90 185.24L165.40 185.40L163.90 185.54L162.40 185.67L160.90 185.78L159.40 185.87L157.90 185.96L156.40 186.02L154.90 186.08L153.40 186.13L151.90 186.16L150.40 186.18L148.90 186.20L147.40 186.20Z" fill="#efdb9e" fill-opacity="0.88"/><path d="M147.40 183.70L148.74 183.77L150.41 183.85L152.37 183.94L154.58 184.04L156.97 184.16L159.51 184.28L162.14 184.41L164.82 184.56L167.50 184.71L170.12 184.86L172.63 185.03L175.00 185.20L177.27 185.37L179.52 185.54L181.77 185.70L184.01 185.87L186.24 186.04L188.47 186.23L190.71 186.44L192.95 186.67L195.19 186.92L197.45 187.21L199.72 187.53L202.00 187.90L204.30 188.31L206.63 188.77L208.97 189.26L211.33 189.79L213.69 190.35L216.06 190.93L218.42 191.52L220.77 192.12L223.11 192.72L225.43 193.33L227.73 193.92L230.00 194.50L232.32 195.10L234.76 195.74L237.27 196.41L239.81 197.09L242.33 197.78L244.80 198.46L247.17 199.12L249.40 199.74L251.45 200.31L253.28 200.82L254.84 201.26L256.10 201.60" stroke="#4848c8" stroke-width="1.1" stroke-dasharray="1.2 2.1" fill="none"/><path d="M173.50 233.40L256.10 137.34" stroke="#4848c8" stroke-width="1.1" stroke-dasharray="1.2 2.1" fill="none"/><path d="M147.40 183.29L148.90 183.31L150.40 183.32L151.90 183.33L153.40 183.34L154.90 183.34L156.40 183.34L157.90 183.34L159.40 183.33L160.90 183.31L162.40 183.29L163.90 183.27L165.40 183.24L166.90 183.20L168.40 183.15L169.90 183.10L171.40 183.04L172.90 182.97L174.40 182.89L175.90 182.80L177.40 182.69L178.90 182.58L180.40 182.46L181.90 182.32L183.40 182.17L184.90 182.00L186.40 181.81L187.90 181.61L189.40 181.39L190.90 181.16L192.40 180.90L193.90 180.62L195.40 180.32L196.90 179.99L198.40 179.64L199.90 179.26L201.40 178.86L202.90 178.43L204.40 177.96L205.90 177.47L207.40 176.95L208.90 176.39L210.40 175.80L211.90 175.18L213.40 174.52L214.90 173.82L216.40 173.09L217.90 172.32L219.40 171.51L220.90 170.66L222.40 169.78L223.90 168.86L225.40 167.90L226.90 166.90L228.40 165.86L229.90 164.79L231.40 163.68L232.90 162.54L234.40 161.35L235.90 160.14L237.40 158.89L238.90 157.61L240.40 156.30L241.90 154.95L243.40 153.58L244.90 152.18L246.40 150.75L247.90 149.29L249.40 147.81L250.90 146.31L252.40 144.79L253.90 143.24L255.40 141.67L256.10 140.93" stroke="#48a848" stroke-width="1.1" fill="none"/><path d="M147.40 182.00L148.90 182.06L150.40 182.10L151.90 182.13L153.40 182.15L154.90 182.16L156.40 182.16L157.90 182.15L159.40 182.12L160.90 182.07L162.40 182.02L163.90 181.94L165.40 181.85L166.90 181.74L168.40 181.62L169.90 181.47L171.40 181.30L172.90 181.11L174.40 180.90L175.90 180.66L177.40 180.40L178.90 180.11L180.40 179.80L181.90 179.46L183.40 179.09L184.90 178.69L186.40 178.27L187.90 177.81L189.40 177.32L190.90 176.80L192.40 176.24L193.90 175.65L195.40 175.03L196.90 174.38L198.40 173.69L199.90 172.97L201.40 172.22L202.90 171.43L204.40 170.61L205.90 169.75L207.40 168.86L208.90 167.94L210.40 166.99L211.90 166.01L213.40 164.99L214.90 163.95L216.40 162.88L217.90 161.78L219.40 160.65L220.90 159.50L222.40 158.32L223.90 157.12L225.40 155.89L226.90 154.65L228.40 153.38L229.90 152.09L231.40 150.78L232.90 149.45L234.40 148.10L235.90 146.74L237.40 145.36L238.90 143.97L240.40 142.56L241.90 141.14L243.40 139.71L244.90 138.26L246.40 136.81L247.90 135.34L249.40 133.87L250.90 132.38L252.40 130.89L253.90 129.38L255.40 127.88L256.10 127.17" stroke="#9c7c30" stroke-width="1.1" fill="none"/><linearGradient id="tg11" gradientUnits="userSpaceOnUse" x1="180.0" y1="0" x2="207.2" y2="0"><stop offset="0" stop-color="#1c1c40"/><stop offset="1" stop-color="#2c2cc0"/></linearGradient><path d="M147.40 182.18L148.90 182.24L150.40 182.29L151.90 182.34L153.40 182.38L154.90 182.41L156.40 182.44L157.90 182.45L159.40 182.46L160.90 182.46L162.40 182.45L163.90 182.42L165.40 182.39L166.90 182.34L168.40 182.28L169.90 182.21L171.40 182.12L172.90 182.02L174.40 181.90L175.90 181.76L177.40 181.61L178.90 181.44L180.40 181.24L181.90 181.03L183.40 180.79L184.90 180.54L186.40 180.25L187.90 179.95L189.40 179.61L190.90 179.25L192.40 178.87L193.90 178.45L195.40 178.01L196.90 177.54L198.40 177.03L199.90 176.50L201.40 175.93L202.90 175.33L204.40 174.69L205.90 174.03L207.40 173.33L208.90 172.59L210.40 171.83L211.90 171.03L213.40 170.19L214.90 169.32L216.40 168.42L217.90 167.49L219.40 166.53L220.90 165.53L222.40 164.50L223.90 163.44L225.40 162.35L226.90 161.24L228.40 160.09L229.90 158.92L231.40 157.72L232.90 156.50L234.40 155.25L235.90 153.98L237.40 152.69L238.90 151.38L240.40 150.04L241.90 148.69L243.40 147.32L244.90 145.93L246.40 144.52L247.90 143.10L249.40 141.67L250.90 140.22L252.40 138.75L253.90 137.28L255.40 135.79L256.10 135.09" stroke="url(#tg11)" stroke-width="1.2" fill="none"/><path d="M165.60 190.20V197.30M163.20 191.50l4.8 4.8M168.00 191.50l-4.8 4.8" stroke="#e070e0" stroke-width="1.1" fill="none"/><path d="M185.60 188.80V201.60M183.20 192.40l4.8 4.8M188.00 192.40l-4.8 4.8" stroke="#e070e0" stroke-width="1.1" fill="none"/><path d="M204.60 183.70V190.50M202.20 184.70l4.8 4.8M207.00 184.70l-4.8 4.8" stroke="#e070e0" stroke-width="1.1" fill="none"/><path d="M224.50 184.50V191.30M222.10 185.50l4.8 4.8M226.90 185.50l-4.8 4.8" stroke="#e070e0" stroke-width="1.1" fill="none"/><path d="M170.70 180.20V202.50" stroke="#e2708c" stroke-width="1.45" fill="none"/><rect x="168.60" y="185.60" width="4.2" height="4.6" stroke="#e0607e" stroke-width="1.1" fill="#fad4dc"/><path d="M189.70 176.50V191.30" stroke="#e2708c" stroke-width="1.45" fill="none"/><rect x="187.60" y="180.50" width="4.2" height="4.6" stroke="#e0607e" stroke-width="1.1" fill="#fad4dc"/><path d="M208.10 170.00V181.00" stroke="#e2708c" stroke-width="1.45" fill="none"/><rect x="206.00" y="173.00" width="4.2" height="4.6" stroke="#e0607e" stroke-width="1.1" fill="#fad4dc"/><path d="M227.40 177.20V218.70" stroke="#e2708c" stroke-width="1.45" fill="none"/><rect x="225.30" y="187.90" width="4.2" height="4.6" stroke="#e0607e" stroke-width="1.1" fill="#fad4dc"/><path d="M246.20 195.30V234.00" stroke="#e2708c" stroke-width="1.45" fill="none"/><rect x="244.10" y="237.70" width="4.2" height="4.6" stroke="#e0607e" stroke-width="1.1" fill="#fad4dc"/><path d="M166.20 175.10V209.60M163.60 187.10h5.2" stroke="#2a2ab0" stroke-width="1.1" fill="none"/><path d="M191.20 168.00V182.00M188.60 176.80h5.2" stroke="#2a2ab0" stroke-width="1.1" fill="none"/><path d="M208.30 162.00V170.20M205.70 166.10h5.2" stroke="#2a2ab0" stroke-width="1.1" fill="none"/><path d="M220.00 158.20V163.80M217.40 161.00h5.2" stroke="#2a2ab0" stroke-width="1.1" fill="none"/><path d="M229.60 153.50V169.70M227.00 160.60h5.2" stroke="#2a2ab0" stroke-width="1.1" fill="none"/><path d="M237.00 148.30V153.20M234.40 150.70h5.2" stroke="#2a2ab0" stroke-width="1.1" fill="none"/><path d="M243.40 148.70V157.50M240.80 152.80h5.2" stroke="#2a2ab0" stroke-width="1.1" fill="none"/><path d="M248.90 136.00V144.00M246.30 140.10h5.2" stroke="#2a2ab0" stroke-width="1.1" fill="none"/><path d="M253.40 130.00V140.00M250.80 135.20h5.2" stroke="#2a2ab0" stroke-width="1.1" fill="none"/></g><clipPath id="cp12"><rect x="256.10" y="123.30" width="108.70" height="110.10"/></clipPath><g clip-path="url(#cp12)"><path d="M256.10 172.75L257.60 172.83L259.10 172.91L260.60 172.99L262.10 173.07L263.60 173.15L265.10 173.22L266.60 173.29L268.10 173.35L269.60 173.42L271.10 173.48L272.60 173.53L274.10 173.58L275.60 173.62L277.10 173.66L278.60 173.70L280.10 173.72L281.60 173.75L283.10 173.76L284.60 173.77L286.10 173.77L287.60 173.76L289.10 173.74L290.60 173.71L292.10 173.68L293.60 173.63L295.10 173.57L296.60 173.49L298.10 173.41L299.60 173.31L301.10 173.19L302.60 173.06L304.10 172.92L305.60 172.75L307.10 172.57L308.60 172.37L310.10 172.14L311.60 171.90L313.10 171.63L314.60 171.34L316.10 171.02L317.60 170.68L319.10 170.31L320.60 169.91L322.10 169.48L323.60 169.02L325.10 168.53L326.60 168.01L328.10 167.45L329.60 166.86L331.10 166.24L332.60 165.58L334.10 164.89L335.60 164.16L337.10 163.39L338.60 162.59L340.10 161.75L341.60 160.87L343.10 159.96L344.60 159.01L346.10 158.03L347.60 157.01L349.10 155.95L350.60 154.87L352.10 153.74L353.60 152.59L355.10 151.40L356.60 150.18L358.10 148.93L359.60 147.65L361.10 146.35L362.60 145.01L364.10 143.65L364.80 143.01L364.80 145.01L364.10 145.65L362.60 147.02L361.10 148.36L359.60 149.67L358.10 150.95L356.60 152.21L355.10 153.44L353.60 154.64L352.10 155.81L350.60 156.94L349.10 158.05L347.60 159.11L346.10 160.15L344.60 161.15L343.10 162.11L341.60 163.04L340.10 163.94L338.60 164.79L337.10 165.62L335.60 166.40L334.10 167.15L332.60 167.87L331.10 168.55L329.60 169.19L328.10 169.80L326.60 170.38L325.10 170.93L323.60 171.44L322.10 171.93L320.60 172.38L319.10 172.81L317.60 173.20L316.10 173.57L314.60 173.92L313.10 174.24L311.60 174.53L310.10 174.81L308.60 175.06L307.10 175.30L305.60 175.51L304.10 175.70L302.60 175.88L301.10 176.05L299.60 176.19L298.10 176.32L296.60 176.44L295.10 176.55L293.60 176.64L292.10 176.73L290.60 176.80L289.10 176.86L287.60 176.92L286.10 176.96L284.60 177.00L283.10 177.03L281.60 177.05L280.10 177.07L278.60 177.08L277.10 177.08L275.60 177.08L274.10 177.08L272.60 177.07L271.10 177.05L269.60 177.03L268.10 177.01L266.60 176.99L265.10 176.96L263.60 176.93L262.10 176.90L260.60 176.86L259.10 176.83L257.60 176.79L256.10 176.75Z" fill="#b4dcd8"/><path d="M256.10 168.36L257.60 168.40L259.10 168.43L260.60 168.46L262.10 168.49L263.60 168.52L265.10 168.54L266.60 168.55L268.10 168.57L269.60 168.57L271.10 168.57L272.60 168.57L274.10 168.56L275.60 168.54L277.10 168.52L278.60 168.49L280.10 168.45L281.60 168.40L283.10 168.34L284.60 168.27L286.10 168.19L287.60 168.10L289.10 167.99L290.60 167.87L292.10 167.74L293.60 167.59L295.10 167.42L296.60 167.24L298.10 167.04L299.60 166.81L301.10 166.57L302.60 166.30L304.10 166.01L305.60 165.69L307.10 165.35L308.60 164.98L310.10 164.58L311.60 164.14L313.10 163.68L314.60 163.18L316.10 162.64L317.60 162.07L319.10 161.46L320.60 160.81L322.10 160.12L323.60 159.40L325.10 158.63L326.60 157.81L328.10 156.96L329.60 156.06L331.10 155.12L332.60 154.13L334.10 153.10L335.60 152.03L337.10 150.91L338.60 149.75L340.10 148.55L341.60 147.31L343.10 146.03L344.60 144.70L346.10 143.34L347.60 141.95L349.10 140.52L350.60 139.05L352.10 137.55L353.60 136.02L355.10 134.45L356.60 132.86L358.10 131.24L359.60 129.60L361.10 127.92L362.60 126.23L364.10 124.51L364.80 123.70L364.80 126.90L364.10 127.71L362.60 129.44L361.10 131.14L359.60 132.83L358.10 134.49L356.60 136.13L355.10 137.74L353.60 139.32L352.10 140.88L350.60 142.40L349.10 143.90L347.60 145.36L346.10 146.78L344.60 148.18L343.10 149.53L341.60 150.85L340.10 152.12L338.60 153.36L337.10 154.56L335.60 155.71L334.10 156.83L332.60 157.90L331.10 158.93L329.60 159.92L328.10 160.86L326.60 161.76L325.10 162.62L323.60 163.44L322.10 164.22L320.60 164.96L319.10 165.66L317.60 166.32L316.10 166.95L314.60 167.54L313.10 168.09L311.60 168.62L310.10 169.11L308.60 169.57L307.10 170.00L305.60 170.41L304.10 170.79L302.60 171.14L301.10 171.47L299.60 171.78L298.10 172.07L296.60 172.34L295.10 172.59L293.60 172.82L292.10 173.04L290.60 173.24L289.10 173.43L287.60 173.61L286.10 173.77L284.60 173.93L283.10 174.07L281.60 174.20L280.10 174.33L278.60 174.45L277.10 174.55L275.60 174.66L274.10 174.75L272.60 174.84L271.10 174.93L269.60 175.01L268.10 175.08L266.60 175.15L265.10 175.22L263.60 175.28L262.10 175.35L260.60 175.40L259.10 175.46L257.60 175.51L256.10 175.56Z" fill="#efdb9e" fill-opacity="0.88"/><path d="M256.10 175.00L257.51 175.06L259.28 175.13L261.36 175.21L263.70 175.30L266.24 175.40L268.93 175.51L271.70 175.62L274.51 175.74L277.30 175.87L280.02 176.01L282.60 176.15L285.00 176.30L287.26 176.45L289.47 176.58L291.63 176.72L293.77 176.86L295.89 177.01L297.99 177.16L300.10 177.34L302.22 177.53L304.36 177.75L306.53 178.00L308.74 178.28L311.00 178.60L313.32 178.96L315.71 179.36L318.14 179.79L320.60 180.26L323.08 180.74L325.57 181.25L328.06 181.77L330.53 182.31L332.97 182.86L335.38 183.41L337.72 183.95L340.00 184.50L342.29 185.07L344.66 185.70L347.08 186.36L349.50 187.04L351.89 187.73L354.21 188.42L356.44 189.08L358.53 189.71L360.44 190.30L362.15 190.81L363.61 191.25L364.80 191.60" stroke="#4848c8" stroke-width="1.1" stroke-dasharray="1.2 2.1" fill="none"/><path d="M284.00 233.40L364.80 139.43" stroke="#4848c8" stroke-width="1.1" stroke-dasharray="1.2 2.1" fill="none"/><path d="M256.10 173.75L257.60 173.81L259.10 173.87L260.60 173.93L262.10 173.99L263.60 174.04L265.10 174.09L266.60 174.14L268.10 174.18L269.60 174.23L271.10 174.26L272.60 174.30L274.10 174.33L275.60 174.35L277.10 174.37L278.60 174.39L280.10 174.39L281.60 174.40L283.10 174.39L284.60 174.38L286.10 174.36L287.60 174.34L289.10 174.30L290.60 174.26L292.10 174.20L293.60 174.14L295.10 174.06L296.60 173.97L298.10 173.87L299.60 173.75L301.10 173.62L302.60 173.47L304.10 173.31L305.60 173.13L307.10 172.93L308.60 172.71L310.10 172.48L311.60 172.22L313.10 171.93L314.60 171.63L316.10 171.30L317.60 170.94L319.10 170.56L320.60 170.14L322.10 169.70L323.60 169.23L325.10 168.73L326.60 168.19L328.10 167.63L329.60 167.03L331.10 166.39L332.60 165.72L334.10 165.02L335.60 164.28L337.10 163.50L338.60 162.69L340.10 161.84L341.60 160.96L343.10 160.04L344.60 159.08L346.10 158.09L347.60 157.06L349.10 156.00L350.60 154.90L352.10 153.77L353.60 152.61L355.10 151.42L356.60 150.20L358.10 148.94L359.60 147.66L361.10 146.35L362.60 145.01L364.10 143.65L364.80 143.01" stroke="#48a848" stroke-width="1.1" fill="none"/><path d="M256.10 171.96L257.60 171.95L259.10 171.95L260.60 171.93L262.10 171.92L263.60 171.90L265.10 171.88L266.60 171.85L268.10 171.82L269.60 171.79L271.10 171.75L272.60 171.71L274.10 171.66L275.60 171.60L277.10 171.54L278.60 171.47L280.10 171.39L281.60 171.30L283.10 171.20L284.60 171.10L286.10 170.98L287.60 170.85L289.10 170.71L290.60 170.56L292.10 170.39L293.60 170.21L295.10 170.01L296.60 169.79L298.10 169.55L299.60 169.30L301.10 169.02L302.60 168.72L304.10 168.40L305.60 168.05L307.10 167.68L308.60 167.27L310.10 166.84L311.60 166.38L313.10 165.89L314.60 165.36L316.10 164.79L317.60 164.20L319.10 163.56L320.60 162.89L322.10 162.17L323.60 161.42L325.10 160.62L326.60 159.79L328.10 158.91L329.60 157.99L331.10 157.02L332.60 156.01L334.10 154.96L335.60 153.87L337.10 152.73L338.60 151.56L340.10 150.34L341.60 149.08L343.10 147.78L344.60 146.44L346.10 145.06L347.60 143.65L349.10 142.21L350.60 140.73L352.10 139.21L353.60 137.67L355.10 136.10L356.60 134.49L358.10 132.86L359.60 131.21L361.10 129.53L362.60 127.83L364.10 126.11L364.80 125.30" stroke="#9c7c30" stroke-width="1.1" fill="none"/><linearGradient id="tg12" gradientUnits="userSpaceOnUse" x1="288.7" y1="0" x2="315.9" y2="0"><stop offset="0" stop-color="#1c1c40"/><stop offset="1" stop-color="#2c2cc0"/></linearGradient><path d="M256.10 172.56L257.60 172.63L259.10 172.69L260.60 172.75L262.10 172.80L263.60 172.85L265.10 172.90L266.60 172.95L268.10 172.99L269.60 173.02L271.10 173.06L272.60 173.08L274.10 173.10L275.60 173.12L277.10 173.13L278.60 173.13L280.10 173.13L281.60 173.12L283.10 173.10L284.60 173.07L286.10 173.03L287.60 172.98L289.10 172.92L290.60 172.85L292.10 172.77L293.60 172.67L295.10 172.56L296.60 172.43L298.10 172.29L299.60 172.13L301.10 171.95L302.60 171.76L304.10 171.54L305.60 171.30L307.10 171.04L308.60 170.76L310.10 170.45L311.60 170.11L313.10 169.75L314.60 169.36L316.10 168.94L317.60 168.49L319.10 168.01L320.60 167.50L322.10 166.95L323.60 166.37L325.10 165.75L326.60 165.10L328.10 164.41L329.60 163.69L331.10 162.92L332.60 162.12L334.10 161.28L335.60 160.41L337.10 159.49L338.60 158.54L340.10 157.55L341.60 156.52L343.10 155.46L344.60 154.36L346.10 153.22L347.60 152.05L349.10 150.85L350.60 149.61L352.10 148.34L353.60 147.05L355.10 145.72L356.60 144.36L358.10 142.98L359.60 141.57L361.10 140.14L362.60 138.68L364.10 137.20L364.80 136.51" stroke="url(#tg12)" stroke-width="1.2" fill="none"/><path d="M279.40 174.50V190.70" stroke="#e2708c" stroke-width="1.45" fill="none"/><rect x="277.30" y="179.00" width="4.2" height="4.6" stroke="#e0607e" stroke-width="1.1" fill="#fad4dc"/><path d="M298.40 170.20V182.20" stroke="#e2708c" stroke-width="1.45" fill="none"/><rect x="296.30" y="173.10" width="4.2" height="4.6" stroke="#e0607e" stroke-width="1.1" fill="#fad4dc"/><path d="M316.80 177.90V188.20" stroke="#e2708c" stroke-width="1.45" fill="none"/><rect x="314.70" y="179.60" width="4.2" height="4.6" stroke="#e0607e" stroke-width="1.1" fill="#fad4dc"/><path d="M336.10 172.80V193.30" stroke="#e2708c" stroke-width="1.45" fill="none"/><rect x="334.00" y="178.50" width="4.2" height="4.6" stroke="#e0607e" stroke-width="1.1" fill="#fad4dc"/><path d="M354.90 167.70V190.70" stroke="#e2708c" stroke-width="1.45" fill="none"/><rect x="352.80" y="173.90" width="4.2" height="4.6" stroke="#e0607e" stroke-width="1.1" fill="#fad4dc"/><path d="M274.90 171.10V195.00M272.30 180.50h5.2" stroke="#2a2ab0" stroke-width="1.1" fill="none"/><path d="M299.90 163.40V173.70M297.30 170.20h5.2" stroke="#2a2ab0" stroke-width="1.1" fill="none"/><path d="M317.00 166.10V175.90M314.40 170.20h5.2" stroke="#2a2ab0" stroke-width="1.1" fill="none"/><path d="M328.70 158.00V164.50M326.10 161.20h5.2" stroke="#2a2ab0" stroke-width="1.1" fill="none"/><path d="M338.30 152.30V166.10M335.70 158.80h5.2" stroke="#2a2ab0" stroke-width="1.1" fill="none"/><path d="M345.70 146.00V156.00M343.10 150.70h5.2" stroke="#2a2ab0" stroke-width="1.1" fill="none"/><path d="M352.10 145.00V156.00M349.50 149.90h5.2" stroke="#2a2ab0" stroke-width="1.1" fill="none"/><path d="M357.60 136.00V145.00M355.00 140.10h5.2" stroke="#2a2ab0" stroke-width="1.1" fill="none"/><path d="M362.10 133.00V148.00M359.50 140.90h5.2" stroke="#2a2ab0" stroke-width="1.1" fill="none"/></g><clipPath id="cp13"><rect x="364.80" y="123.30" width="108.70" height="110.10"/></clipPath><g clip-path="url(#cp13)"><path d="M364.80 190.37L366.30 190.34L367.80 190.31L369.30 190.28L370.80 190.24L372.30 190.20L373.80 190.15L375.30 190.10L376.80 190.04L378.30 189.98L379.80 189.91L381.30 189.83L382.80 189.75L384.30 189.66L385.80 189.57L387.30 189.46L388.80 189.35L390.30 189.22L391.80 189.09L393.30 188.95L394.80 188.79L396.30 188.63L397.80 188.45L399.30 188.26L400.80 188.05L402.30 187.83L403.80 187.59L405.30 187.34L406.80 187.07L408.30 186.78L409.80 186.47L411.30 186.14L412.80 185.79L414.30 185.41L415.80 185.02L417.30 184.60L418.80 184.15L420.30 183.68L421.80 183.19L423.30 182.66L424.80 182.11L426.30 181.52L427.80 180.91L429.30 180.27L430.80 179.59L432.30 178.88L433.80 178.14L435.30 177.37L436.80 176.56L438.30 175.72L439.80 174.85L441.30 173.94L442.80 173.00L444.30 172.03L445.80 171.02L447.30 169.98L448.80 168.91L450.30 167.80L451.80 166.67L453.30 165.50L454.80 164.30L456.30 163.08L457.80 161.82L459.30 160.54L460.80 159.23L462.30 157.89L463.80 156.53L465.30 155.14L466.80 153.73L468.30 152.30L469.80 150.84L471.30 149.37L472.80 147.87L473.50 147.17L473.50 149.57L472.80 150.27L471.30 151.77L469.80 153.26L468.30 154.72L466.80 156.16L465.30 157.59L463.80 158.99L462.30 160.36L460.80 161.72L459.30 163.05L457.80 164.35L456.30 165.62L454.80 166.87L453.30 168.09L451.80 169.28L450.30 170.44L448.80 171.57L447.30 172.67L445.80 173.74L444.30 174.77L442.80 175.77L441.30 176.74L439.80 177.68L438.30 178.58L436.80 179.46L435.30 180.29L433.80 181.10L432.30 181.88L430.80 182.62L429.30 183.33L427.80 184.01L426.30 184.66L424.80 185.28L423.30 185.87L421.80 186.44L420.30 186.98L418.80 187.49L417.30 187.97L415.80 188.43L414.30 188.87L412.80 189.29L411.30 189.68L409.80 190.06L408.30 190.41L406.80 190.75L405.30 191.06L403.80 191.37L402.30 191.65L400.80 191.92L399.30 192.18L397.80 192.42L396.30 192.65L394.80 192.86L393.30 193.07L391.80 193.27L390.30 193.45L388.80 193.63L387.30 193.79L385.80 193.95L384.30 194.10L382.80 194.25L381.30 194.39L379.80 194.52L378.30 194.64L376.80 194.76L375.30 194.88L373.80 194.99L372.30 195.09L370.80 195.19L369.30 195.29L367.80 195.39L366.30 195.48L364.80 195.57Z" fill="#b4dcd8"/><path d="M364.80 186.37L366.30 186.25L367.80 186.14L369.30 186.01L370.80 185.89L372.30 185.76L373.80 185.63L375.30 185.49L376.80 185.35L378.30 185.20L379.80 185.04L381.30 184.88L382.80 184.71L384.30 184.53L385.80 184.35L387.30 184.15L388.80 183.95L390.30 183.74L391.80 183.52L393.30 183.28L394.80 183.03L396.30 182.77L397.80 182.50L399.30 182.21L400.80 181.91L402.30 181.59L403.80 181.25L405.30 180.89L406.80 180.51L408.30 180.11L409.80 179.69L411.30 179.24L412.80 178.77L414.30 178.27L415.80 177.74L417.30 177.19L418.80 176.60L420.30 175.99L421.80 175.34L423.30 174.65L424.80 173.93L426.30 173.17L427.80 172.38L429.30 171.55L430.80 170.67L432.30 169.76L433.80 168.81L435.30 167.81L436.80 166.78L438.30 165.70L439.80 164.58L441.30 163.41L442.80 162.21L444.30 160.96L445.80 159.67L447.30 158.35L448.80 156.98L450.30 155.57L451.80 154.13L453.30 152.64L454.80 151.12L456.30 149.57L457.80 147.98L459.30 146.36L460.80 144.71L462.30 143.03L463.80 141.32L465.30 139.58L466.80 137.81L468.30 136.02L469.80 134.20L471.30 132.37L472.80 130.50L473.50 129.63L473.50 132.63L472.80 133.51L471.30 135.38L469.80 137.23L468.30 139.07L466.80 140.89L465.30 142.68L463.80 144.45L462.30 146.20L460.80 147.92L459.30 149.62L457.80 151.28L456.30 152.92L454.80 154.52L453.30 156.09L451.80 157.63L450.30 159.13L448.80 160.59L447.30 162.02L445.80 163.42L444.30 164.77L442.80 166.08L441.30 167.36L439.80 168.59L438.30 169.78L436.80 170.94L435.30 172.05L433.80 173.13L432.30 174.16L430.80 175.15L429.30 176.11L427.80 177.03L426.30 177.91L424.80 178.76L423.30 179.57L421.80 180.35L420.30 181.09L418.80 181.80L417.30 182.49L415.80 183.14L414.30 183.77L412.80 184.37L411.30 184.94L409.80 185.49L408.30 186.02L406.80 186.53L405.30 187.02L403.80 187.49L402.30 187.94L400.80 188.37L399.30 188.79L397.80 189.20L396.30 189.59L394.80 189.97L393.30 190.34L391.80 190.70L390.30 191.04L388.80 191.38L387.30 191.71L385.80 192.03L384.30 192.34L382.80 192.65L381.30 192.95L379.80 193.24L378.30 193.53L376.80 193.82L375.30 194.10L373.80 194.38L372.30 194.65L370.80 194.92L369.30 195.18L367.80 195.45L366.30 195.71L364.80 195.97Z" fill="#efdb9e" fill-opacity="0.88"/><path d="M364.80 192.50L366.06 192.56L367.63 192.64L369.47 192.72L371.53 192.82L373.77 192.92L376.15 193.04L378.63 193.16L381.16 193.28L383.71 193.41L386.23 193.54L388.67 193.67L391.00 193.80L393.28 193.92L395.59 194.04L397.92 194.14L400.27 194.25L402.64 194.36L405.01 194.48L407.38 194.60L409.75 194.75L412.10 194.92L414.43 195.11L416.73 195.34L419.00 195.60L421.23 195.90L423.42 196.22L425.58 196.58L427.72 196.96L429.85 197.36L431.97 197.77L434.09 198.21L436.22 198.66L438.37 199.11L440.55 199.57L442.75 200.04L445.00 200.50L447.38 200.99L449.94 201.53L452.62 202.10L455.37 202.70L458.14 203.31L460.88 203.91L463.52 204.49L466.02 205.04L468.32 205.56L470.37 206.01L472.11 206.40L473.50 206.70" stroke="#4848c8" stroke-width="1.1" stroke-dasharray="1.2 2.1" fill="none"/><path d="M391.30 233.40L473.50 137.80" stroke="#4848c8" stroke-width="1.1" stroke-dasharray="1.2 2.1" fill="none"/><path d="M364.80 191.97L366.30 191.91L367.80 191.85L369.30 191.78L370.80 191.72L372.30 191.64L373.80 191.57L375.30 191.49L376.80 191.40L378.30 191.31L379.80 191.21L381.30 191.11L382.80 191.00L384.30 190.88L385.80 190.76L387.30 190.63L388.80 190.49L390.30 190.34L391.80 190.18L393.30 190.01L394.80 189.83L396.30 189.64L397.80 189.43L399.30 189.22L400.80 188.98L402.30 188.74L403.80 188.48L405.30 188.20L406.80 187.91L408.30 187.59L409.80 187.26L411.30 186.91L412.80 186.54L414.30 186.14L415.80 185.73L417.30 185.29L418.80 184.82L420.30 184.33L421.80 183.81L423.30 183.27L424.80 182.69L426.30 182.09L427.80 181.46L429.30 180.80L430.80 180.10L432.30 179.38L433.80 178.62L435.30 177.83L436.80 177.01L438.30 176.15L439.80 175.27L441.30 174.34L442.80 173.39L444.30 172.40L445.80 171.38L447.30 170.33L448.80 169.24L450.30 168.12L451.80 166.97L453.30 165.80L454.80 164.59L456.30 163.35L457.80 162.08L459.30 160.79L460.80 159.47L462.30 158.13L463.80 156.76L465.30 155.36L466.80 153.95L468.30 152.51L469.80 151.05L471.30 149.57L472.80 148.07L473.50 147.37" stroke="#48a848" stroke-width="1.1" fill="none"/><path d="M364.80 191.17L366.30 190.98L367.80 190.79L369.30 190.60L370.80 190.40L372.30 190.20L373.80 190.00L375.30 189.79L376.80 189.58L378.30 189.37L379.80 189.14L381.30 188.91L382.80 188.68L384.30 188.44L385.80 188.19L387.30 187.93L388.80 187.67L390.30 187.39L391.80 187.11L393.30 186.81L394.80 186.50L396.30 186.18L397.80 185.85L399.30 185.50L400.80 185.14L402.30 184.76L403.80 184.37L405.30 183.95L406.80 183.52L408.30 183.07L409.80 182.59L411.30 182.09L412.80 181.57L414.30 181.02L415.80 180.44L417.30 179.84L418.80 179.20L420.30 178.54L421.80 177.84L423.30 177.11L424.80 176.34L426.30 175.54L427.80 174.70L429.30 173.83L430.80 172.91L432.30 171.96L433.80 170.97L435.30 169.93L436.80 168.86L438.30 167.74L439.80 166.58L441.30 165.38L442.80 164.15L444.30 162.87L445.80 161.54L447.30 160.19L448.80 158.79L450.30 157.35L451.80 155.88L453.30 154.37L454.80 152.82L456.30 151.24L457.80 149.63L459.30 147.99L460.80 146.32L462.30 144.61L463.80 142.88L465.30 141.13L466.80 139.35L468.30 137.55L469.80 135.72L471.30 133.87L472.80 132.01L473.50 131.13" stroke="#9c7c30" stroke-width="1.1" fill="none"/><linearGradient id="tg13" gradientUnits="userSpaceOnUse" x1="397.4" y1="0" x2="424.6" y2="0"><stop offset="0" stop-color="#1c1c40"/><stop offset="1" stop-color="#2c2cc0"/></linearGradient><path d="M364.80 191.44L366.30 191.33L367.80 191.21L369.30 191.09L370.80 190.96L372.30 190.83L373.80 190.70L375.30 190.56L376.80 190.41L378.30 190.26L379.80 190.11L381.30 189.94L382.80 189.77L384.30 189.60L385.80 189.41L387.30 189.21L388.80 189.01L390.30 188.79L391.80 188.57L393.30 188.33L394.80 188.08L396.30 187.81L397.80 187.53L399.30 187.24L400.80 186.93L402.30 186.60L403.80 186.25L405.30 185.88L406.80 185.49L408.30 185.08L409.80 184.65L411.30 184.19L412.80 183.70L414.30 183.19L415.80 182.65L417.30 182.08L418.80 181.48L420.30 180.85L421.80 180.18L423.30 179.48L424.80 178.75L426.30 177.97L427.80 177.16L429.30 176.32L430.80 175.43L432.30 174.51L433.80 173.55L435.30 172.54L436.80 171.50L438.30 170.42L439.80 169.30L441.30 168.13L442.80 166.93L444.30 165.69L445.80 164.41L447.30 163.10L448.80 161.75L450.30 160.36L451.80 158.94L453.30 157.48L454.80 156.00L456.30 154.48L457.80 152.93L459.30 151.35L460.80 149.75L462.30 148.11L463.80 146.46L465.30 144.78L466.80 143.07L468.30 141.35L469.80 139.60L471.30 137.84L472.80 136.06L473.50 135.22" stroke="url(#tg13)" stroke-width="1.2" fill="none"/><path d="M388.10 171.00V234.00" stroke="#e4809a" stroke-width="1.6" fill="none"/><rect x="386.00" y="237.70" width="4.2" height="4.6" stroke="#e0607e" stroke-width="1.1" fill="#fad4dc"/><path d="M407.10 173.40V205.90" stroke="#e4809a" stroke-width="1.6" fill="none"/><rect x="405.00" y="182.20" width="4.2" height="4.6" stroke="#e0607e" stroke-width="1.1" fill="#fad4dc"/><path d="M425.50 191.30V234.00" stroke="#e4809a" stroke-width="1.6" fill="none"/><rect x="423.40" y="203.90" width="4.2" height="4.6" stroke="#e0607e" stroke-width="1.1" fill="#fad4dc"/><path d="M444.80 199.90V234.00" stroke="#e4809a" stroke-width="1.6" fill="none"/><rect x="442.70" y="237.70" width="4.2" height="4.6" stroke="#e0607e" stroke-width="1.1" fill="#fad4dc"/><path d="M463.60 166.10V192.20" stroke="#e4809a" stroke-width="1.6" fill="none"/><rect x="461.50" y="172.80" width="4.2" height="4.6" stroke="#e0607e" stroke-width="1.1" fill="#fad4dc"/><path d="M383.60 160.50V234.00M381.00 191.00h5.2" stroke="#2a2ab0" stroke-width="1.1" fill="none"/><path d="M408.60 166.50V187.00M406.00 175.20h5.2" stroke="#2a2ab0" stroke-width="1.1" fill="none"/><path d="M425.70 173.00V192.50M423.10 182.20h5.2" stroke="#2a2ab0" stroke-width="1.1" fill="none"/><path d="M437.40 159.60V180.80M434.80 167.80h5.2" stroke="#5252cc" stroke-width="1.45" fill="none"/><path d="M447.00 162.00V176.70M444.40 169.40h5.2" stroke="#5252cc" stroke-width="1.45" fill="none"/><path d="M454.40 147.40V153.90M451.80 151.50h5.2" stroke="#5252cc" stroke-width="1.45" fill="none"/><path d="M460.80 142.00V153.00M458.20 147.40h5.2" stroke="#5252cc" stroke-width="1.45" fill="none"/><path d="M466.30 130.00V140.00M463.70 135.20h5.2" stroke="#5252cc" stroke-width="1.45" fill="none"/><path d="M470.80 130.30V146.60M468.20 136.00h5.2" stroke="#5252cc" stroke-width="1.45" fill="none"/></g><clipPath id="cp14"><rect x="473.50" y="123.30" width="108.70" height="110.10"/></clipPath><g clip-path="url(#cp14)"><path d="M473.50 195.39L475.00 195.41L476.50 195.41L478.00 195.41L479.50 195.41L481.00 195.40L482.50 195.38L484.00 195.35L485.50 195.32L487.00 195.28L488.50 195.23L490.00 195.18L491.50 195.11L493.00 195.03L494.50 194.94L496.00 194.85L497.50 194.73L499.00 194.61L500.50 194.47L502.00 194.32L503.50 194.15L505.00 193.97L506.50 193.77L508.00 193.55L509.50 193.31L511.00 193.05L512.50 192.77L514.00 192.47L515.50 192.15L517.00 191.80L518.50 191.43L520.00 191.04L521.50 190.61L523.00 190.16L524.50 189.68L526.00 189.18L527.50 188.64L529.00 188.07L530.50 187.47L532.00 186.84L533.50 186.17L535.00 185.48L536.50 184.75L538.00 183.98L539.50 183.18L541.00 182.35L542.50 181.48L544.00 180.58L545.50 179.65L547.00 178.68L548.50 177.68L550.00 176.65L551.50 175.58L553.00 174.49L554.50 173.36L556.00 172.20L557.50 171.02L559.00 169.80L560.50 168.56L562.00 167.29L563.50 165.99L565.00 164.67L566.50 163.32L568.00 161.96L569.50 160.57L571.00 159.15L572.50 157.72L574.00 156.27L575.50 154.80L577.00 153.32L578.50 151.81L580.00 150.29L581.50 148.76L582.20 148.03L582.20 150.43L581.50 151.16L580.00 152.70L578.50 154.22L577.00 155.74L575.50 157.23L574.00 158.72L572.50 160.18L571.00 161.63L569.50 163.06L568.00 164.46L566.50 165.85L565.00 167.22L563.50 168.56L562.00 169.88L560.50 171.17L559.00 172.44L557.50 173.68L556.00 174.89L554.50 176.07L553.00 177.23L551.50 178.35L550.00 179.45L548.50 180.51L547.00 181.54L545.50 182.54L544.00 183.51L542.50 184.44L541.00 185.34L539.50 186.21L538.00 187.04L536.50 187.85L535.00 188.61L533.50 189.35L532.00 190.05L530.50 190.72L529.00 191.36L527.50 191.97L526.00 192.55L524.50 193.10L523.00 193.62L521.50 194.12L520.00 194.58L518.50 195.02L517.00 195.44L515.50 195.83L514.00 196.20L512.50 196.55L511.00 196.87L509.50 197.18L508.00 197.47L506.50 197.74L505.00 197.99L503.50 198.22L502.00 198.44L500.50 198.64L499.00 198.84L497.50 199.01L496.00 199.18L494.50 199.33L493.00 199.47L491.50 199.61L490.00 199.73L488.50 199.84L487.00 199.95L485.50 200.04L484.00 200.13L482.50 200.22L481.00 200.29L479.50 200.36L478.00 200.43L476.50 200.49L475.00 200.54L473.50 200.59Z" fill="#b4dcd8"/><path d="M473.50 190.69L475.00 190.67L476.50 190.64L478.00 190.60L479.50 190.55L481.00 190.48L482.50 190.41L484.00 190.32L485.50 190.22L487.00 190.11L488.50 189.98L490.00 189.84L491.50 189.68L493.00 189.51L494.50 189.32L496.00 189.10L497.50 188.87L499.00 188.62L500.50 188.35L502.00 188.06L503.50 187.75L505.00 187.41L506.50 187.05L508.00 186.66L509.50 186.25L511.00 185.81L512.50 185.35L514.00 184.86L515.50 184.34L517.00 183.79L518.50 183.21L520.00 182.60L521.50 181.96L523.00 181.29L524.50 180.59L526.00 179.86L527.50 179.10L529.00 178.31L530.50 177.49L532.00 176.64L533.50 175.75L535.00 174.84L536.50 173.89L538.00 172.92L539.50 171.92L541.00 170.89L542.50 169.83L544.00 168.74L545.50 167.63L547.00 166.49L548.50 165.33L550.00 164.14L551.50 162.92L553.00 161.69L554.50 160.43L556.00 159.15L557.50 157.85L559.00 156.53L560.50 155.19L562.00 153.83L563.50 152.46L565.00 151.06L566.50 149.65L568.00 148.23L569.50 146.79L571.00 145.34L572.50 143.87L574.00 142.39L575.50 140.90L577.00 139.39L578.50 137.88L580.00 136.35L581.50 134.81L582.20 134.08L582.20 136.08L581.50 136.81L580.00 138.36L578.50 139.91L577.00 141.46L575.50 142.99L574.00 144.52L572.50 146.04L571.00 147.55L569.50 149.05L568.00 150.54L566.50 152.02L565.00 153.48L563.50 154.93L562.00 156.37L560.50 157.80L559.00 159.20L557.50 160.60L556.00 161.97L554.50 163.33L553.00 164.66L551.50 165.98L550.00 167.28L548.50 168.55L547.00 169.81L545.50 171.04L544.00 172.24L542.50 173.43L541.00 174.58L539.50 175.71L538.00 176.82L536.50 177.89L535.00 178.94L533.50 179.97L532.00 180.96L530.50 181.93L529.00 182.86L527.50 183.77L526.00 184.65L524.50 185.50L523.00 186.32L521.50 187.11L520.00 187.88L518.50 188.61L517.00 189.32L515.50 190.00L514.00 190.65L512.50 191.28L511.00 191.88L509.50 192.45L508.00 193.01L506.50 193.53L505.00 194.04L503.50 194.52L502.00 194.98L500.50 195.42L499.00 195.84L497.50 196.24L496.00 196.62L494.50 196.99L493.00 197.34L491.50 197.67L490.00 197.99L488.50 198.29L487.00 198.58L485.50 198.86L484.00 199.12L482.50 199.38L481.00 199.62L479.50 199.85L478.00 200.07L476.50 200.29L475.00 200.49L473.50 200.69Z" fill="#efdb9e" fill-opacity="0.88"/><rect x="579" y="123.3" width="3.20" height="13.70" fill="#b0b0e4"/><path d="M473.50 197.70L474.78 197.73L476.37 197.77L478.23 197.81L480.31 197.86L482.59 197.91L485.00 197.96L487.51 198.03L490.07 198.10L492.65 198.18L495.19 198.28L497.65 198.38L500.00 198.50L502.28 198.62L504.59 198.74L506.92 198.87L509.26 199.00L511.61 199.14L513.97 199.29L516.33 199.46L518.69 199.65L521.04 199.86L523.37 200.11L525.70 200.39L528.00 200.70L530.28 201.05L532.56 201.44L534.82 201.87L537.07 202.32L539.31 202.80L541.55 203.29L543.79 203.81L546.02 204.34L548.26 204.87L550.50 205.42L552.75 205.96L555.00 206.50L557.35 207.07L559.84 207.69L562.42 208.35L565.06 209.03L567.70 209.73L570.29 210.41L572.78 211.08L575.14 211.71L577.31 212.29L579.24 212.81L580.89 213.25L582.20 213.60" stroke="#4848c8" stroke-width="1.1" stroke-dasharray="1.2 2.1" fill="none"/><path d="M500.30 233.40L582.20 138.15" stroke="#4848c8" stroke-width="1.1" stroke-dasharray="1.2 2.1" fill="none"/><path d="M473.50 196.99L475.00 196.97L476.50 196.95L478.00 196.92L479.50 196.89L481.00 196.84L482.50 196.80L484.00 196.74L485.50 196.68L487.00 196.61L488.50 196.54L490.00 196.45L491.50 196.36L493.00 196.25L494.50 196.14L496.00 196.01L497.50 195.87L499.00 195.72L500.50 195.56L502.00 195.38L503.50 195.19L505.00 194.98L506.50 194.75L508.00 194.51L509.50 194.25L511.00 193.96L512.50 193.66L514.00 193.34L515.50 192.99L517.00 192.62L518.50 192.23L520.00 191.81L521.50 191.36L523.00 190.89L524.50 190.39L526.00 189.86L527.50 189.30L529.00 188.72L530.50 188.10L532.00 187.44L533.50 186.76L535.00 186.04L536.50 185.30L538.00 184.51L539.50 183.70L541.00 182.85L542.50 181.96L544.00 181.05L545.50 180.10L547.00 179.11L548.50 178.10L550.00 177.05L551.50 175.97L553.00 174.86L554.50 173.72L556.00 172.55L557.50 171.35L559.00 170.12L560.50 168.86L562.00 167.58L563.50 166.27L565.00 164.94L566.50 163.59L568.00 162.21L569.50 160.81L571.00 159.39L572.50 157.95L574.00 156.49L575.50 155.02L577.00 153.53L578.50 152.02L580.00 150.49L581.50 148.96L582.20 148.23" stroke="#48a848" stroke-width="1.1" fill="none"/><path d="M473.50 195.69L475.00 195.58L476.50 195.46L478.00 195.33L479.50 195.20L481.00 195.05L482.50 194.89L484.00 194.72L485.50 194.54L487.00 194.35L488.50 194.14L490.00 193.92L491.50 193.68L493.00 193.42L494.50 193.15L496.00 192.86L497.50 192.56L499.00 192.23L500.50 191.89L502.00 191.52L503.50 191.13L505.00 190.72L506.50 190.29L508.00 189.83L509.50 189.35L511.00 188.85L512.50 188.31L514.00 187.75L515.50 187.17L517.00 186.55L518.50 185.91L520.00 185.24L521.50 184.54L523.00 183.81L524.50 183.05L526.00 182.26L527.50 181.44L529.00 180.59L530.50 179.71L532.00 178.80L533.50 177.86L535.00 176.89L536.50 175.89L538.00 174.87L539.50 173.82L541.00 172.73L542.50 171.63L544.00 170.49L545.50 169.33L547.00 168.15L548.50 166.94L550.00 165.71L551.50 164.45L553.00 163.18L554.50 161.88L556.00 160.56L557.50 159.22L559.00 157.87L560.50 156.49L562.00 155.10L563.50 153.69L565.00 152.27L566.50 150.84L568.00 149.38L569.50 147.92L571.00 146.44L572.50 144.96L574.00 143.46L575.50 141.95L577.00 140.43L578.50 138.90L580.00 137.36L581.50 135.81L582.20 135.08" stroke="#9c7c30" stroke-width="1.1" fill="none"/><linearGradient id="tg14" gradientUnits="userSpaceOnUse" x1="560.0" y1="0" x2="600.0" y2="0"><stop offset="0" stop-color="#1c1c40"/><stop offset="1" stop-color="#2c2cc0"/></linearGradient><path d="M473.50 196.20L475.00 196.11L476.50 196.01L478.00 195.90L479.50 195.78L481.00 195.64L482.50 195.50L484.00 195.35L485.50 195.18L487.00 195.00L488.50 194.80L490.00 194.59L491.50 194.36L493.00 194.12L494.50 193.86L496.00 193.59L497.50 193.29L499.00 192.97L500.50 192.64L502.00 192.28L503.50 191.90L505.00 191.50L506.50 191.07L508.00 190.62L509.50 190.15L511.00 189.65L512.50 189.12L514.00 188.56L515.50 187.98L517.00 187.37L518.50 186.73L520.00 186.06L521.50 185.36L523.00 184.63L524.50 183.87L526.00 183.08L527.50 182.26L529.00 181.41L530.50 180.53L532.00 179.61L533.50 178.67L535.00 177.70L536.50 176.70L538.00 175.68L539.50 174.62L541.00 173.54L542.50 172.43L544.00 171.29L545.50 170.13L547.00 168.94L548.50 167.73L550.00 166.50L551.50 165.24L553.00 163.96L554.50 162.66L556.00 161.34L557.50 160.01L559.00 158.65L560.50 157.27L562.00 155.88L563.50 154.48L565.00 153.06L566.50 151.62L568.00 150.17L569.50 148.71L571.00 147.23L572.50 145.74L574.00 144.25L575.50 142.74L577.00 141.22L578.50 139.70L580.00 138.16L581.50 136.62L582.20 135.89" stroke="url(#tg14)" stroke-width="1.2" fill="none"/><path d="M496.80 156.00V234.00" stroke="#e4809a" stroke-width="1.6" fill="none"/><rect x="494.70" y="193.30" width="4.2" height="4.6" stroke="#e0607e" stroke-width="1.1" fill="#fad4dc"/><path d="M515.80 169.50V211.00" stroke="#e4809a" stroke-width="1.6" fill="none"/><rect x="513.70" y="180.00" width="4.2" height="4.6" stroke="#e0607e" stroke-width="1.1" fill="#fad4dc"/><path d="M534.20 224.70V234.00" stroke="#e4809a" stroke-width="1.6" fill="none"/><rect x="532.10" y="237.70" width="4.2" height="4.6" stroke="#e0607e" stroke-width="1.1" fill="#fad4dc"/><path d="M553.50 193.90V234.00" stroke="#e4809a" stroke-width="1.6" fill="none"/><rect x="551.40" y="221.00" width="4.2" height="4.6" stroke="#e0607e" stroke-width="1.1" fill="#fad4dc"/><path d="M572.30 189.60V234.00" stroke="#e4809a" stroke-width="1.6" fill="none"/><rect x="570.20" y="237.70" width="4.2" height="4.6" stroke="#e0607e" stroke-width="1.1" fill="#fad4dc"/><path d="M575.00 134.40V148.20M572.40 140.90h5.2" stroke="#7070d8" stroke-width="1.5" fill="none"/><path d="M579.50 123.30V135.20M576.90 129.50h5.2" stroke="#7070d8" stroke-width="1.5" fill="none"/><path d="M492.30 147.00V234.00M489.70 194.80h5.2" stroke="#2a2ab0" stroke-width="1.1" fill="none"/><path d="M517.30 165.00V193.00M514.70 175.10h5.2" stroke="#2a2ab0" stroke-width="1.1" fill="none"/><path d="M534.40 182.00V224.70M531.80 202.10h5.2" stroke="#2a2ab0" stroke-width="1.1" fill="none"/><path d="M546.10 166.10V185.40M543.50 173.40h5.2" stroke="#5252cc" stroke-width="1.45" fill="none"/><path d="M555.70 158.00V173.40M553.10 165.00h5.2" stroke="#5252cc" stroke-width="1.45" fill="none"/><path d="M563.10 141.70V152.00M560.50 146.60h5.2" stroke="#5252cc" stroke-width="1.45" fill="none"/><path d="M569.50 152.30V180.80M566.90 162.10h5.2" stroke="#5252cc" stroke-width="1.45" fill="none"/></g><clipPath id="cp22"><rect x="256.10" y="233.40" width="108.70" height="110.10"/></clipPath><g clip-path="url(#cp22)"><path d="M256.10 284.48L257.60 284.64L259.10 284.80L260.60 284.95L262.10 285.09L263.60 285.23L265.10 285.36L266.60 285.48L268.10 285.60L269.60 285.70L271.10 285.80L272.60 285.89L274.10 285.97L275.60 286.04L277.10 286.10L278.60 286.15L280.10 286.18L281.60 286.21L283.10 286.22L284.60 286.23L286.10 286.21L287.60 286.19L289.10 286.15L290.60 286.10L292.10 286.03L293.60 285.94L295.10 285.84L296.60 285.73L298.10 285.59L299.60 285.44L301.10 285.27L302.60 285.09L304.10 284.88L305.60 284.65L307.10 284.41L308.60 284.14L310.10 283.86L311.60 283.55L313.10 283.22L314.60 282.88L316.10 282.51L317.60 282.12L319.10 281.70L320.60 281.27L322.10 280.81L323.60 280.33L325.10 279.83L326.60 279.31L328.10 278.77L329.60 278.20L331.10 277.61L332.60 277.01L334.10 276.38L335.60 275.73L337.10 275.06L338.60 274.37L340.10 273.66L341.60 272.93L343.10 272.18L344.60 271.41L346.10 270.63L347.60 269.82L349.10 269.00L350.60 268.17L352.10 267.31L353.60 266.44L355.10 265.56L356.60 264.66L358.10 263.75L359.60 262.82L361.10 261.88L362.60 260.92L364.10 259.96L364.80 259.50L364.80 261.50L364.10 261.96L362.60 262.93L361.10 263.89L359.60 264.83L358.10 265.77L356.60 266.69L355.10 267.60L353.60 268.50L352.10 269.38L350.60 270.24L349.10 271.09L347.60 271.93L346.10 272.75L344.60 273.55L343.10 274.33L341.60 275.10L340.10 275.84L338.60 276.57L337.10 277.28L335.60 277.97L334.10 278.64L332.60 279.29L331.10 279.92L329.60 280.53L328.10 281.12L326.60 281.69L325.10 282.23L323.60 282.76L322.10 283.26L320.60 283.74L319.10 284.20L317.60 284.64L316.10 285.06L314.60 285.46L313.10 285.83L311.60 286.19L310.10 286.52L308.60 286.84L307.10 287.13L305.60 287.41L304.10 287.67L302.60 287.90L301.10 288.12L299.60 288.33L298.10 288.51L296.60 288.68L295.10 288.83L293.60 288.96L292.10 289.08L290.60 289.18L289.10 289.27L287.60 289.35L286.10 289.41L284.60 289.46L283.10 289.49L281.60 289.51L280.10 289.53L278.60 289.53L277.10 289.52L275.60 289.50L274.10 289.47L272.60 289.43L271.10 289.38L269.60 289.32L268.10 289.25L266.60 289.18L265.10 289.10L263.60 289.01L262.10 288.92L260.60 288.82L259.10 288.71L257.60 288.60L256.10 288.48Z" fill="#b4dcd8"/><path d="M256.10 280.91L257.60 281.05L259.10 281.19L260.60 281.31L262.10 281.43L263.60 281.53L265.10 281.62L266.60 281.70L268.10 281.77L269.60 281.82L271.10 281.86L272.60 281.89L274.10 281.89L275.60 281.89L277.10 281.86L278.60 281.82L280.10 281.76L281.60 281.68L283.10 281.58L284.60 281.46L286.10 281.32L287.60 281.16L289.10 280.98L290.60 280.77L292.10 280.54L293.60 280.29L295.10 280.01L296.60 279.71L298.10 279.38L299.60 279.03L301.10 278.65L302.60 278.24L304.10 277.81L305.60 277.35L307.10 276.87L308.60 276.35L310.10 275.81L311.60 275.25L313.10 274.65L314.60 274.03L316.10 273.39L317.60 272.71L319.10 272.02L320.60 271.29L322.10 270.54L323.60 269.77L325.10 268.97L326.60 268.15L328.10 267.30L329.60 266.43L331.10 265.54L332.60 264.63L334.10 263.70L335.60 262.75L337.10 261.78L338.60 260.79L340.10 259.78L341.60 258.75L343.10 257.71L344.60 256.65L346.10 255.58L347.60 254.49L349.10 253.39L350.60 252.27L352.10 251.14L353.60 250.00L355.10 248.84L356.60 247.68L358.10 246.50L359.60 245.31L361.10 244.11L362.60 242.90L364.10 241.68L364.80 241.11L364.80 244.31L364.10 244.88L362.60 246.11L361.10 247.33L359.60 248.55L358.10 249.76L356.60 250.96L355.10 252.15L353.60 253.33L352.10 254.51L350.60 255.67L349.10 256.82L347.60 257.96L346.10 259.09L344.60 260.21L343.10 261.31L341.60 262.39L340.10 263.47L338.60 264.52L337.10 265.56L335.60 266.58L334.10 267.59L332.60 268.58L331.10 269.54L329.60 270.49L328.10 271.42L326.60 272.32L325.10 273.21L323.60 274.07L322.10 274.91L320.60 275.72L319.10 276.52L317.60 277.28L316.10 278.03L314.60 278.74L313.10 279.44L311.60 280.11L310.10 280.75L308.60 281.36L307.10 281.95L305.60 282.52L304.10 283.06L302.60 283.57L301.10 284.06L299.60 284.52L298.10 284.96L296.60 285.38L295.10 285.77L293.60 286.13L292.10 286.48L290.60 286.80L289.10 287.09L287.60 287.37L286.10 287.62L284.60 287.86L283.10 288.07L281.60 288.27L280.10 288.45L278.60 288.61L277.10 288.75L275.60 288.88L274.10 288.99L272.60 289.08L271.10 289.16L269.60 289.23L268.10 289.28L266.60 289.32L265.10 289.35L263.60 289.37L262.10 289.38L260.60 289.37L259.10 289.36L257.60 289.34L256.10 289.31Z" fill="#efdb9e" fill-opacity="0.88"/><path d="M256.10 286.20L257.51 286.25L259.28 286.30L261.36 286.36L263.70 286.42L266.24 286.50L268.93 286.57L271.70 286.66L274.51 286.76L277.30 286.86L280.02 286.96L282.60 287.08L285.00 287.20L287.26 287.32L289.47 287.44L291.63 287.55L293.77 287.67L295.89 287.80L297.99 287.93L300.10 288.08L302.22 288.25L304.36 288.44L306.53 288.66L308.74 288.91L311.00 289.20L313.32 289.52L315.71 289.88L318.14 290.27L320.60 290.69L323.08 291.13L325.57 291.59L328.06 292.06L330.53 292.54L332.97 293.03L335.38 293.53L337.72 294.02L340.00 294.50L342.29 295.00L344.66 295.55L347.08 296.13L349.50 296.73L351.89 297.33L354.21 297.93L356.44 298.51L358.53 299.06L360.44 299.56L362.15 300.02L363.61 300.40L364.80 300.70" stroke="#4848c8" stroke-width="1.1" stroke-dasharray="1.2 2.1" fill="none"/><path d="M281.50 343.60L364.80 246.72" stroke="#4848c8" stroke-width="1.1" stroke-dasharray="1.2 2.1" fill="none"/><path d="M256.10 285.48L257.60 285.62L259.10 285.75L260.60 285.88L262.10 286.01L263.60 286.12L265.10 286.23L266.60 286.33L268.10 286.42L269.60 286.51L271.10 286.59L272.60 286.66L274.10 286.72L275.60 286.77L277.10 286.81L278.60 286.84L280.10 286.86L281.60 286.86L283.10 286.86L284.60 286.84L286.10 286.81L287.60 286.77L289.10 286.71L290.60 286.64L292.10 286.55L293.60 286.45L295.10 286.34L296.60 286.20L298.10 286.05L299.60 285.88L301.10 285.70L302.60 285.50L304.10 285.27L305.60 285.03L307.10 284.77L308.60 284.49L310.10 284.19L311.60 283.87L313.10 283.53L314.60 283.17L316.10 282.78L317.60 282.38L319.10 281.95L320.60 281.50L322.10 281.04L323.60 280.54L325.10 280.03L326.60 279.50L328.10 278.94L329.60 278.37L331.10 277.77L332.60 277.15L334.10 276.51L335.60 275.85L337.10 275.17L338.60 274.47L340.10 273.75L341.60 273.01L343.10 272.25L344.60 271.48L346.10 270.69L347.60 269.88L349.10 269.05L350.60 268.20L352.10 267.34L353.60 266.47L355.10 265.58L356.60 264.68L358.10 263.76L359.60 262.83L361.10 261.88L362.60 260.93L364.10 259.96L364.80 259.50" stroke="#48a848" stroke-width="1.1" fill="none"/><path d="M256.10 285.11L257.60 285.20L259.10 285.27L260.60 285.34L262.10 285.40L263.60 285.45L265.10 285.49L266.60 285.51L268.10 285.53L269.60 285.53L271.10 285.51L272.60 285.48L274.10 285.44L275.60 285.38L277.10 285.31L278.60 285.21L280.10 285.10L281.60 284.98L283.10 284.83L284.60 284.66L286.10 284.47L287.60 284.27L289.10 284.04L290.60 283.78L292.10 283.51L293.60 283.21L295.10 282.89L296.60 282.54L298.10 282.17L299.60 281.78L301.10 281.36L302.60 280.91L304.10 280.44L305.60 279.94L307.10 279.41L308.60 278.86L310.10 278.28L311.60 277.68L313.10 277.05L314.60 276.39L316.10 275.71L317.60 275.00L319.10 274.27L320.60 273.51L322.10 272.72L323.60 271.92L325.10 271.09L326.60 270.23L328.10 269.36L329.60 268.46L331.10 267.54L332.60 266.60L334.10 265.64L335.60 264.67L337.10 263.67L338.60 262.65L340.10 261.62L341.60 260.57L343.10 259.51L344.60 258.43L346.10 257.34L347.60 256.23L349.10 255.11L350.60 253.97L352.10 252.82L353.60 251.67L355.10 250.50L356.60 249.32L358.10 248.13L359.60 246.93L361.10 245.72L362.60 244.51L364.10 243.28L364.80 242.71" stroke="#9c7c30" stroke-width="1.1" fill="none"/><linearGradient id="tg22" gradientUnits="userSpaceOnUse" x1="288.7" y1="0" x2="315.9" y2="0"><stop offset="0" stop-color="#1c1c40"/><stop offset="1" stop-color="#2c2cc0"/></linearGradient><path d="M256.10 285.29L257.60 285.37L259.10 285.45L260.60 285.51L262.10 285.57L263.60 285.63L265.10 285.68L266.60 285.72L268.10 285.75L269.60 285.77L271.10 285.79L272.60 285.79L274.10 285.79L275.60 285.77L277.10 285.74L278.60 285.70L280.10 285.65L281.60 285.59L283.10 285.51L284.60 285.41L286.10 285.30L287.60 285.18L289.10 285.03L290.60 284.87L292.10 284.69L293.60 284.49L295.10 284.27L296.60 284.03L298.10 283.77L299.60 283.48L301.10 283.17L302.60 282.83L304.10 282.47L305.60 282.09L307.10 281.68L308.60 281.24L310.10 280.77L311.60 280.27L313.10 279.75L314.60 279.19L316.10 278.61L317.60 278.00L319.10 277.35L320.60 276.68L322.10 275.98L323.60 275.24L325.10 274.48L326.60 273.69L328.10 272.86L329.60 272.01L331.10 271.13L332.60 270.22L334.10 269.28L335.60 268.31L337.10 267.32L338.60 266.30L340.10 265.26L341.60 264.19L343.10 263.10L344.60 261.98L346.10 260.84L347.60 259.68L349.10 258.50L350.60 257.30L352.10 256.08L353.60 254.85L355.10 253.59L356.60 252.32L358.10 251.03L359.60 249.73L361.10 248.41L362.60 247.08L364.10 245.74L364.80 245.11" stroke="url(#tg22)" stroke-width="1.2" fill="none"/><path d="M274.30 286.20V292.20M271.90 286.40l4.8 4.8M276.70 286.40l-4.8 4.8" stroke="#e070e0" stroke-width="1.1" fill="none"/><path d="M294.30 295.60V308.40M291.90 298.30l4.8 4.8M296.70 298.30l-4.8 4.8" stroke="#e070e0" stroke-width="1.1" fill="none"/><path d="M313.30 290.50V297.30M310.90 291.50l4.8 4.8M315.70 291.50l-4.8 4.8" stroke="#e070e0" stroke-width="1.1" fill="none"/><path d="M333.20 300.70V311.00M330.80 303.50l4.8 4.8M335.60 303.50l-4.8 4.8" stroke="#e070e0" stroke-width="1.1" fill="none"/><path d="M279.40 301.60V313.60" stroke="#e2708c" stroke-width="1.45" fill="none"/><rect x="277.30" y="305.60" width="4.2" height="4.6" stroke="#e0607e" stroke-width="1.1" fill="#fad4dc"/><path d="M298.40 294.80V303.30" stroke="#e2708c" stroke-width="1.45" fill="none"/><rect x="296.30" y="296.40" width="4.2" height="4.6" stroke="#e0607e" stroke-width="1.1" fill="#fad4dc"/><path d="M316.80 295.60V305.90" stroke="#e2708c" stroke-width="1.45" fill="none"/><rect x="314.70" y="298.10" width="4.2" height="4.6" stroke="#e0607e" stroke-width="1.1" fill="#fad4dc"/><path d="M336.10 308.40V337.50" stroke="#e2708c" stroke-width="1.45" fill="none"/><rect x="334.00" y="314.70" width="4.2" height="4.6" stroke="#e0607e" stroke-width="1.1" fill="#fad4dc"/><path d="M354.90 306.70V344.00" stroke="#e2708c" stroke-width="1.45" fill="none"/><rect x="352.80" y="330.70" width="4.2" height="4.6" stroke="#e0607e" stroke-width="1.1" fill="#fad4dc"/><path d="M274.90 297.30V320.40M272.30 306.20h5.2" stroke="#2a2ab0" stroke-width="1.1" fill="none"/><path d="M299.90 287.10V293.90M297.30 290.50h5.2" stroke="#2a2ab0" stroke-width="1.1" fill="none"/><path d="M317.00 280.20V288.80M314.40 284.40h5.2" stroke="#2a2ab0" stroke-width="1.1" fill="none"/><path d="M328.70 273.70V281.10M326.10 277.30h5.2" stroke="#2a2ab0" stroke-width="1.1" fill="none"/><path d="M338.30 271.20V279.40M335.70 275.30h5.2" stroke="#2a2ab0" stroke-width="1.1" fill="none"/><path d="M345.70 258.00V266.00M343.10 262.30h5.2" stroke="#2a2ab0" stroke-width="1.1" fill="none"/><path d="M352.10 256.00V264.00M349.50 259.90h5.2" stroke="#2a2ab0" stroke-width="1.1" fill="none"/><path d="M357.60 250.00V258.00M355.00 254.20h5.2" stroke="#2a2ab0" stroke-width="1.1" fill="none"/><path d="M362.10 255.00V263.90M359.50 259.00h5.2" stroke="#2a2ab0" stroke-width="1.1" fill="none"/></g><clipPath id="cp23"><rect x="364.80" y="233.40" width="108.70" height="110.10"/></clipPath><g clip-path="url(#cp23)"><path d="M364.80 293.97L366.30 293.93L367.80 293.88L369.30 293.83L370.80 293.78L372.30 293.72L373.80 293.67L375.30 293.60L376.80 293.54L378.30 293.47L379.80 293.40L381.30 293.32L382.80 293.24L384.30 293.15L385.80 293.06L387.30 292.96L388.80 292.86L390.30 292.75L391.80 292.63L393.30 292.51L394.80 292.37L396.30 292.23L397.80 292.08L399.30 291.92L400.80 291.75L402.30 291.57L403.80 291.38L405.30 291.18L406.80 290.96L408.30 290.73L409.80 290.48L411.30 290.22L412.80 289.94L414.30 289.65L415.80 289.34L417.30 289.00L418.80 288.65L420.30 288.28L421.80 287.88L423.30 287.46L424.80 287.02L426.30 286.55L427.80 286.06L429.30 285.54L430.80 284.99L432.30 284.41L433.80 283.80L435.30 283.16L436.80 282.49L438.30 281.79L439.80 281.06L441.30 280.29L442.80 279.49L444.30 278.65L445.80 277.79L447.30 276.88L448.80 275.94L450.30 274.97L451.80 273.96L453.30 272.92L454.80 271.84L456.30 270.73L457.80 269.59L459.30 268.41L460.80 267.20L462.30 265.96L463.80 264.69L465.30 263.39L466.80 262.06L468.30 260.70L469.80 259.31L471.30 257.90L472.80 256.46L473.50 255.78L473.50 257.78L472.80 258.46L471.30 259.91L469.80 261.33L468.30 262.72L466.80 264.09L465.30 265.43L463.80 266.74L462.30 268.02L460.80 269.28L459.30 270.50L457.80 271.69L456.30 272.86L454.80 273.98L453.30 275.08L451.80 276.14L450.30 277.17L448.80 278.17L447.30 279.13L445.80 280.05L444.30 280.95L442.80 281.81L441.30 282.63L439.80 283.43L438.30 284.19L436.80 284.92L435.30 285.61L433.80 286.28L432.30 286.92L430.80 287.53L429.30 288.11L427.80 288.66L426.30 289.18L424.80 289.68L423.30 290.16L421.80 290.61L420.30 291.04L418.80 291.45L417.30 291.84L415.80 292.21L414.30 292.56L412.80 292.89L411.30 293.20L409.80 293.50L408.30 293.79L406.80 294.06L405.30 294.32L403.80 294.56L402.30 294.79L400.80 295.02L399.30 295.23L397.80 295.43L396.30 295.62L394.80 295.81L393.30 295.98L391.80 296.15L390.30 296.31L388.80 296.47L387.30 296.62L385.80 296.76L384.30 296.90L382.80 297.04L381.30 297.17L379.80 297.29L378.30 297.41L376.80 297.53L375.30 297.64L373.80 297.76L372.30 297.86L370.80 297.97L369.30 298.07L367.80 298.18L366.30 298.27L364.80 298.37Z" fill="#b4dcd8"/><path d="M364.80 290.30L366.30 290.24L367.80 290.17L369.30 290.10L370.80 290.02L372.30 289.94L373.80 289.85L375.30 289.75L376.80 289.65L378.30 289.54L379.80 289.42L381.30 289.29L382.80 289.15L384.30 289.01L385.80 288.85L387.30 288.69L388.80 288.51L390.30 288.32L391.80 288.12L393.30 287.90L394.80 287.67L396.30 287.43L397.80 287.17L399.30 286.90L400.80 286.60L402.30 286.29L403.80 285.96L405.30 285.61L406.80 285.24L408.30 284.85L409.80 284.44L411.30 284.00L412.80 283.54L414.30 283.05L415.80 282.54L417.30 282.00L418.80 281.44L420.30 280.84L421.80 280.22L423.30 279.56L424.80 278.88L426.30 278.16L427.80 277.41L429.30 276.64L430.80 275.82L432.30 274.98L433.80 274.10L435.30 273.19L436.80 272.25L438.30 271.28L439.80 270.27L441.30 269.23L442.80 268.16L444.30 267.05L445.80 265.92L447.30 264.75L448.80 263.56L450.30 262.33L451.80 261.07L453.30 259.79L454.80 258.48L456.30 257.14L457.80 255.78L459.30 254.39L460.80 252.98L462.30 251.55L463.80 250.09L465.30 248.61L466.80 247.11L468.30 245.59L469.80 244.05L471.30 242.49L472.80 240.91L473.50 240.17L473.50 242.97L472.80 243.71L471.30 245.30L469.80 246.88L468.30 248.44L466.80 249.99L465.30 251.52L463.80 253.04L462.30 254.53L460.80 256.01L459.30 257.46L457.80 258.90L456.30 260.31L454.80 261.70L453.30 263.07L451.80 264.41L450.30 265.72L448.80 267.01L447.30 268.27L445.80 269.50L444.30 270.71L442.80 271.88L441.30 273.03L439.80 274.14L438.30 275.23L436.80 276.28L435.30 277.31L433.80 278.30L432.30 279.26L430.80 280.19L429.30 281.09L427.80 281.96L426.30 282.80L424.80 283.61L423.30 284.40L421.80 285.15L420.30 285.87L418.80 286.57L417.30 287.24L415.80 287.88L414.30 288.50L412.80 289.10L411.30 289.67L409.80 290.22L408.30 290.74L406.80 291.25L405.30 291.73L403.80 292.20L402.30 292.65L400.80 293.08L399.30 293.50L397.80 293.89L396.30 294.28L394.80 294.65L393.30 295.01L391.80 295.35L390.30 295.68L388.80 296.00L387.30 296.32L385.80 296.62L384.30 296.91L382.80 297.19L381.30 297.47L379.80 297.74L378.30 298.00L376.80 298.25L375.30 298.50L373.80 298.74L372.30 298.98L370.80 299.21L369.30 299.44L367.80 299.67L366.30 299.89L364.80 300.10Z" fill="#efdb9e" fill-opacity="0.88"/><path d="M364.80 295.30L366.26 295.29L368.09 295.28L370.23 295.25L372.64 295.21L375.25 295.18L378.03 295.15L380.90 295.13L383.83 295.13L386.76 295.15L389.63 295.20L392.39 295.28L395.00 295.40L397.54 295.56L400.13 295.76L402.75 295.99L405.39 296.26L408.02 296.54L410.64 296.84L413.22 297.15L415.75 297.46L418.21 297.76L420.58 298.06L422.85 298.34L425.00 298.60L426.99 298.83L428.81 299.03L430.50 299.20L432.09 299.37L433.61 299.53L435.09 299.69L436.57 299.87L438.07 300.08L439.64 300.31L441.29 300.59L443.07 300.92L445.00 301.30L447.17 301.77L449.59 302.33L452.20 302.97L454.93 303.66L457.72 304.39L460.50 305.12L463.21 305.84L465.80 306.54L468.18 307.18L470.30 307.75L472.10 308.23L473.50 308.60" stroke="#4848c8" stroke-width="1.1" stroke-dasharray="1.2 2.1" fill="none"/><path d="M389.70 343.60L473.50 246.14" stroke="#4848c8" stroke-width="1.1" stroke-dasharray="1.2 2.1" fill="none"/><path d="M364.80 336.30L372.50 343.60" stroke="#90d0e8" stroke-width="1" fill="none"/><path d="M364.80 295.17L366.30 295.10L367.80 295.03L369.30 294.95L370.80 294.87L372.30 294.79L373.80 294.71L375.30 294.62L376.80 294.53L378.30 294.44L379.80 294.34L381.30 294.24L382.80 294.14L384.30 294.03L385.80 293.91L387.30 293.79L388.80 293.66L390.30 293.53L391.80 293.39L393.30 293.24L394.80 293.09L396.30 292.93L397.80 292.76L399.30 292.58L400.80 292.38L402.30 292.18L403.80 291.97L405.30 291.75L406.80 291.51L408.30 291.26L409.80 290.99L411.30 290.71L412.80 290.42L414.30 290.10L415.80 289.77L417.30 289.42L418.80 289.05L420.30 288.66L421.80 288.25L423.30 287.81L424.80 287.35L426.30 286.87L427.80 286.36L429.30 285.82L430.80 285.26L432.30 284.66L433.80 284.04L435.30 283.39L436.80 282.71L438.30 281.99L439.80 281.24L441.30 280.46L442.80 279.65L444.30 278.80L445.80 277.92L447.30 277.00L448.80 276.05L450.30 275.07L451.80 274.05L453.30 273.00L454.80 271.91L456.30 270.79L457.80 269.64L459.30 268.46L460.80 267.24L462.30 265.99L463.80 264.71L465.30 263.41L466.80 262.07L468.30 260.71L469.80 259.32L471.30 257.90L472.80 256.46L473.50 255.78" stroke="#48a848" stroke-width="1.1" fill="none"/><path d="M364.80 295.20L366.30 295.06L367.80 294.92L369.30 294.77L370.80 294.62L372.30 294.46L373.80 294.30L375.30 294.13L376.80 293.95L378.30 293.77L379.80 293.58L381.30 293.38L382.80 293.17L384.30 292.96L385.80 292.73L387.30 292.50L388.80 292.26L390.30 292.00L391.80 291.73L393.30 291.45L394.80 291.16L396.30 290.85L397.80 290.53L399.30 290.20L400.80 289.84L402.30 289.47L403.80 289.08L405.30 288.67L406.80 288.25L408.30 287.80L409.80 287.33L411.30 286.83L412.80 286.32L414.30 285.78L415.80 285.21L417.30 284.62L418.80 284.00L420.30 283.36L421.80 282.68L423.30 281.98L424.80 281.25L426.30 280.48L427.80 279.69L429.30 278.86L430.80 278.01L432.30 277.12L433.80 276.20L435.30 275.25L436.80 274.27L438.30 273.25L439.80 272.21L441.30 271.13L442.80 270.02L444.30 268.88L445.80 267.71L447.30 266.51L448.80 265.28L450.30 264.03L451.80 262.74L453.30 261.43L454.80 260.09L456.30 258.73L457.80 257.34L459.30 255.93L460.80 254.49L462.30 253.04L463.80 251.56L465.30 250.07L466.80 248.55L468.30 247.02L469.80 245.46L471.30 243.90L472.80 242.31L473.50 241.57" stroke="#9c7c30" stroke-width="1.1" fill="none"/><linearGradient id="tg23" gradientUnits="userSpaceOnUse" x1="397.4" y1="0" x2="424.6" y2="0"><stop offset="0" stop-color="#1c1c40"/><stop offset="1" stop-color="#2c2cc0"/></linearGradient><path d="M364.80 295.13L366.30 295.02L367.80 294.91L369.30 294.80L370.80 294.68L372.30 294.55L373.80 294.42L375.30 294.29L376.80 294.14L378.30 294.00L379.80 293.84L381.30 293.68L382.80 293.51L384.30 293.33L385.80 293.15L387.30 292.95L388.80 292.74L390.30 292.53L391.80 292.30L393.30 292.06L394.80 291.81L396.30 291.54L397.80 291.26L399.30 290.97L400.80 290.65L402.30 290.32L403.80 289.98L405.30 289.61L406.80 289.23L408.30 288.82L409.80 288.40L411.30 287.95L412.80 287.47L414.30 286.98L415.80 286.45L417.30 285.90L418.80 285.33L420.30 284.72L421.80 284.09L423.30 283.42L424.80 282.73L426.30 282.00L427.80 281.25L429.30 280.46L430.80 279.63L432.30 278.78L433.80 277.89L435.30 276.97L436.80 276.01L438.30 275.02L439.80 274.00L441.30 272.94L442.80 271.85L444.30 270.73L445.80 269.57L447.30 268.38L448.80 267.16L450.30 265.92L451.80 264.64L453.30 263.33L454.80 262.00L456.30 260.63L457.80 259.24L459.30 257.83L460.80 256.39L462.30 254.93L463.80 253.45L465.30 251.94L466.80 250.41L468.30 248.87L469.80 247.30L471.30 245.72L472.80 244.12L473.50 243.37" stroke="url(#tg23)" stroke-width="1.2" fill="none"/><path d="M388.10 275.00V344.00" stroke="#e4809a" stroke-width="1.6" fill="none"/><rect x="386.00" y="313.20" width="4.2" height="4.6" stroke="#e0607e" stroke-width="1.1" fill="#fad4dc"/><path d="M407.10 278.00V298.10" stroke="#e4809a" stroke-width="1.6" fill="none"/><rect x="405.00" y="284.40" width="4.2" height="4.6" stroke="#e0607e" stroke-width="1.1" fill="#fad4dc"/><path d="M425.50 292.70V306.60" stroke="#e4809a" stroke-width="1.6" fill="none"/><rect x="423.40" y="296.00" width="4.2" height="4.6" stroke="#e0607e" stroke-width="1.1" fill="#fad4dc"/><path d="M444.80 293.70V316.50" stroke="#e4809a" stroke-width="1.6" fill="none"/><rect x="442.70" y="300.30" width="4.2" height="4.6" stroke="#e0607e" stroke-width="1.1" fill="#fad4dc"/><path d="M383.60 266.00V344.00M381.00 320.40h5.2" stroke="#2a2ab0" stroke-width="1.1" fill="none"/><path d="M408.60 273.10V289.80M406.00 279.60h5.2" stroke="#2a2ab0" stroke-width="1.1" fill="none"/><path d="M425.70 278.60V288.30M423.10 282.90h5.2" stroke="#2a2ab0" stroke-width="1.1" fill="none"/><path d="M437.40 268.30V281.30M434.80 274.20h5.2" stroke="#5252cc" stroke-width="1.45" fill="none"/><path d="M447.00 267.20V274.50M444.40 270.80h5.2" stroke="#5252cc" stroke-width="1.45" fill="none"/><path d="M454.40 258.00V266.00M451.80 262.00h5.2" stroke="#5252cc" stroke-width="1.45" fill="none"/><path d="M460.80 255.00V263.00M458.20 259.00h5.2" stroke="#5252cc" stroke-width="1.45" fill="none"/><path d="M466.30 255.80V264.70M463.70 259.90h5.2" stroke="#5252cc" stroke-width="1.45" fill="none"/><path d="M470.80 246.00V256.00M468.20 250.90h5.2" stroke="#5252cc" stroke-width="1.45" fill="none"/></g><clipPath id="cp24"><rect x="473.50" y="233.40" width="108.70" height="110.10"/></clipPath><g clip-path="url(#cp24)"><path d="M473.50 300.23L475.00 300.24L476.50 300.25L478.00 300.26L479.50 300.25L481.00 300.24L482.50 300.23L484.00 300.20L485.50 300.17L487.00 300.13L488.50 300.08L490.00 300.03L491.50 299.96L493.00 299.88L494.50 299.80L496.00 299.70L497.50 299.59L499.00 299.46L500.50 299.33L502.00 299.17L503.50 299.01L505.00 298.83L506.50 298.63L508.00 298.42L509.50 298.18L511.00 297.93L512.50 297.66L514.00 297.37L515.50 297.06L517.00 296.73L518.50 296.37L520.00 295.99L521.50 295.59L523.00 295.16L524.50 294.71L526.00 294.23L527.50 293.72L529.00 293.19L530.50 292.63L532.00 292.04L533.50 291.42L535.00 290.77L536.50 290.10L538.00 289.39L539.50 288.65L541.00 287.89L542.50 287.09L544.00 286.27L545.50 285.41L547.00 284.53L548.50 283.62L550.00 282.68L551.50 281.71L553.00 280.71L554.50 279.68L556.00 278.63L557.50 277.55L559.00 276.45L560.50 275.32L562.00 274.17L563.50 273.00L565.00 271.80L566.50 270.58L568.00 269.34L569.50 268.08L571.00 266.80L572.50 265.50L574.00 264.18L575.50 262.85L577.00 261.50L578.50 260.13L580.00 258.75L581.50 257.35L582.20 256.70L582.20 258.70L581.50 259.35L580.00 260.75L578.50 262.14L577.00 263.52L575.50 264.88L574.00 266.22L572.50 267.55L571.00 268.86L569.50 270.16L568.00 271.43L566.50 272.69L565.00 273.92L563.50 275.14L562.00 276.33L560.50 277.51L559.00 278.65L557.50 279.78L556.00 280.88L554.50 281.95L553.00 283.00L551.50 284.02L550.00 285.02L548.50 285.99L547.00 286.92L545.50 287.84L544.00 288.72L542.50 289.57L541.00 290.40L539.50 291.19L538.00 291.96L536.50 292.70L535.00 293.40L533.50 294.08L532.00 294.73L530.50 295.36L529.00 295.95L527.50 296.52L526.00 297.06L524.50 297.58L523.00 298.07L521.50 298.53L520.00 298.97L518.50 299.39L517.00 299.79L515.50 300.16L514.00 300.51L512.50 300.84L511.00 301.15L509.50 301.44L508.00 301.72L506.50 301.98L505.00 302.22L503.50 302.44L502.00 302.65L500.50 302.85L499.00 303.03L497.50 303.20L496.00 303.35L494.50 303.50L493.00 303.63L491.50 303.76L490.00 303.87L488.50 303.98L487.00 304.07L485.50 304.16L484.00 304.24L482.50 304.32L481.00 304.38L479.50 304.44L478.00 304.50L476.50 304.55L475.00 304.59L473.50 304.63Z" fill="#b4dcd8"/><path d="M473.50 294.69L475.00 294.59L476.50 294.49L478.00 294.38L479.50 294.27L481.00 294.16L482.50 294.04L484.00 293.91L485.50 293.78L487.00 293.64L488.50 293.50L490.00 293.35L491.50 293.19L493.00 293.03L494.50 292.85L496.00 292.67L497.50 292.48L499.00 292.28L500.50 292.07L502.00 291.85L503.50 291.61L505.00 291.37L506.50 291.11L508.00 290.84L509.50 290.55L511.00 290.25L512.50 289.93L514.00 289.60L515.50 289.24L517.00 288.87L518.50 288.48L520.00 288.07L521.50 287.63L523.00 287.17L524.50 286.69L526.00 286.19L527.50 285.65L529.00 285.10L530.50 284.51L532.00 283.89L533.50 283.25L535.00 282.57L536.50 281.86L538.00 281.12L539.50 280.35L541.00 279.55L542.50 278.70L544.00 277.83L545.50 276.92L547.00 275.98L548.50 274.99L550.00 273.98L551.50 272.93L553.00 271.84L554.50 270.72L556.00 269.56L557.50 268.37L559.00 267.14L560.50 265.88L562.00 264.59L563.50 263.26L565.00 261.90L566.50 260.52L568.00 259.10L569.50 257.65L571.00 256.17L572.50 254.67L574.00 253.14L575.50 251.58L577.00 250.00L578.50 248.40L580.00 246.77L581.50 245.11L582.20 244.33L582.20 246.73L581.50 247.52L580.00 249.18L578.50 250.83L577.00 252.47L575.50 254.08L574.00 255.68L572.50 257.25L571.00 258.80L569.50 260.33L568.00 261.83L566.50 263.31L565.00 264.76L563.50 266.18L562.00 267.57L560.50 268.93L559.00 270.27L557.50 271.57L556.00 272.84L554.50 274.08L553.00 275.29L551.50 276.46L550.00 277.61L548.50 278.72L547.00 279.79L545.50 280.83L544.00 281.84L542.50 282.82L541.00 283.77L539.50 284.68L538.00 285.56L536.50 286.41L535.00 287.23L533.50 288.03L532.00 288.79L530.50 289.53L529.00 290.24L527.50 290.92L526.00 291.58L524.50 292.21L523.00 292.83L521.50 293.42L520.00 293.99L518.50 294.54L517.00 295.07L515.50 295.58L514.00 296.08L512.50 296.56L511.00 297.02L509.50 297.47L508.00 297.91L506.50 298.33L505.00 298.74L503.50 299.14L502.00 299.53L500.50 299.92L499.00 300.29L497.50 300.65L496.00 301.01L494.50 301.35L493.00 301.69L491.50 302.03L490.00 302.36L488.50 302.68L487.00 303.00L485.50 303.31L484.00 303.62L482.50 303.93L481.00 304.23L479.50 304.53L478.00 304.82L476.50 305.11L475.00 305.40L473.50 305.69Z" fill="#efdb9e" fill-opacity="0.88"/><path d="M473.50 301.70L474.78 301.73L476.37 301.76L478.23 301.79L480.31 301.83L482.59 301.87L485.00 301.92L487.51 301.97L490.07 302.03L492.65 302.09L495.19 302.15L497.65 302.22L500.00 302.30L502.28 302.37L504.59 302.43L506.92 302.49L509.26 302.55L511.61 302.61L513.97 302.68L516.33 302.77L518.69 302.87L521.04 303.01L523.37 303.17L525.70 303.36L528.00 303.60L530.28 303.88L532.56 304.20L534.82 304.55L537.07 304.93L539.31 305.33L541.55 305.76L543.79 306.20L546.02 306.65L548.26 307.11L550.50 307.58L552.75 308.04L555.00 308.50L557.35 308.98L559.84 309.51L562.42 310.06L565.06 310.64L567.70 311.23L570.29 311.81L572.78 312.37L575.14 312.90L577.31 313.40L579.24 313.83L580.89 314.21L582.20 314.50" stroke="#4848c8" stroke-width="1.1" stroke-dasharray="1.2 2.1" fill="none"/><path d="M500.70 343.60L582.20 248.82" stroke="#4848c8" stroke-width="1.1" stroke-dasharray="1.2 2.1" fill="none"/><path d="M473.50 317.50L503.00 343.60" stroke="#90d0e8" stroke-width="1" fill="none"/><path d="M473.50 301.43L475.00 301.42L476.50 301.40L478.00 301.38L479.50 301.35L481.00 301.31L482.50 301.27L484.00 301.22L485.50 301.17L487.00 301.10L488.50 301.03L490.00 300.95L491.50 300.86L493.00 300.76L494.50 300.65L496.00 300.53L497.50 300.39L499.00 300.24L500.50 300.09L502.00 299.91L503.50 299.72L505.00 299.52L506.50 299.30L508.00 299.07L509.50 298.81L511.00 298.54L512.50 298.25L514.00 297.94L515.50 297.61L517.00 297.26L518.50 296.88L520.00 296.48L521.50 296.06L523.00 295.61L524.50 295.14L526.00 294.65L527.50 294.12L529.00 293.57L530.50 292.99L532.00 292.39L533.50 291.75L535.00 291.09L536.50 290.40L538.00 289.67L539.50 288.92L541.00 288.14L542.50 287.33L544.00 286.49L545.50 285.62L547.00 284.73L548.50 283.80L550.00 282.85L551.50 281.86L553.00 280.85L554.50 279.82L556.00 278.76L557.50 277.67L559.00 276.55L560.50 275.41L562.00 274.25L563.50 273.07L565.00 271.86L566.50 270.63L568.00 269.39L569.50 268.12L571.00 266.83L572.50 265.52L574.00 264.20L575.50 262.86L577.00 261.51L578.50 260.14L580.00 258.75L581.50 257.35L582.20 256.70" stroke="#48a848" stroke-width="1.1" fill="none"/><path d="M473.50 300.19L475.00 300.00L476.50 299.80L478.00 299.60L479.50 299.40L481.00 299.19L482.50 298.98L484.00 298.77L485.50 298.55L487.00 298.32L488.50 298.09L490.00 297.85L491.50 297.61L493.00 297.36L494.50 297.10L496.00 296.84L497.50 296.57L499.00 296.28L500.50 295.99L502.00 295.69L503.50 295.38L505.00 295.06L506.50 294.72L508.00 294.37L509.50 294.01L511.00 293.64L512.50 293.24L514.00 292.84L515.50 292.41L517.00 291.97L518.50 291.51L520.00 291.03L521.50 290.52L523.00 290.00L524.50 289.45L526.00 288.88L527.50 288.29L529.00 287.67L530.50 287.02L532.00 286.34L533.50 285.64L535.00 284.90L536.50 284.14L538.00 283.34L539.50 282.52L541.00 281.66L542.50 280.76L544.00 279.84L545.50 278.88L547.00 277.88L548.50 276.85L550.00 275.79L551.50 274.70L553.00 273.56L554.50 272.40L556.00 271.20L557.50 269.97L559.00 268.70L560.50 267.41L562.00 266.08L563.50 264.72L565.00 263.33L566.50 261.91L568.00 260.46L569.50 258.99L571.00 257.49L572.50 255.96L574.00 254.41L575.50 252.83L577.00 251.23L578.50 249.62L580.00 247.98L581.50 246.32L582.20 245.53" stroke="#9c7c30" stroke-width="1.1" fill="none"/><linearGradient id="tg24" gradientUnits="userSpaceOnUse" x1="600.0" y1="0" x2="650.0" y2="0"><stop offset="0" stop-color="#1c1c40"/><stop offset="1" stop-color="#2c2cc0"/></linearGradient><path d="M473.50 300.69L475.00 300.50L476.50 300.30L478.00 300.10L479.50 299.90L481.00 299.69L482.50 299.48L484.00 299.27L485.50 299.05L487.00 298.82L488.50 298.59L490.00 298.35L491.50 298.11L493.00 297.86L494.50 297.60L496.00 297.34L497.50 297.07L499.00 296.78L500.50 296.49L502.00 296.19L503.50 295.88L505.00 295.56L506.50 295.22L508.00 294.87L509.50 294.51L511.00 294.14L512.50 293.74L514.00 293.34L515.50 292.91L517.00 292.47L518.50 292.01L520.00 291.53L521.50 291.02L523.00 290.50L524.50 289.95L526.00 289.38L527.50 288.79L529.00 288.17L530.50 287.52L532.00 286.84L533.50 286.14L535.00 285.40L536.50 284.64L538.00 283.84L539.50 283.02L541.00 282.16L542.50 281.26L544.00 280.34L545.50 279.38L547.00 278.38L548.50 277.35L550.00 276.29L551.50 275.20L553.00 274.06L554.50 272.90L556.00 271.70L557.50 270.47L559.00 269.20L560.50 267.91L562.00 266.58L563.50 265.22L565.00 263.83L566.50 262.41L568.00 260.96L569.50 259.49L571.00 257.99L572.50 256.46L574.00 254.91L575.50 253.33L577.00 251.73L578.50 250.12L580.00 248.48L581.50 246.82L582.20 246.03" stroke="url(#tg24)" stroke-width="1.2" fill="none"/><path d="M496.80 300.70V344.00" stroke="#e4809a" stroke-width="1.6" fill="none"/><rect x="494.70" y="347.70" width="4.2" height="4.6" stroke="#e0607e" stroke-width="1.1" fill="#fad4dc"/><path d="M515.80 282.90V316.50" stroke="#e4809a" stroke-width="1.6" fill="none"/><rect x="513.70" y="292.40" width="4.2" height="4.6" stroke="#e0607e" stroke-width="1.1" fill="#fad4dc"/><path d="M553.50 310.60V344.00" stroke="#e4809a" stroke-width="1.6" fill="none"/><rect x="551.40" y="347.70" width="4.2" height="4.6" stroke="#e0607e" stroke-width="1.1" fill="#fad4dc"/><path d="M572.30 323.00V344.00" stroke="#e4809a" stroke-width="1.6" fill="none"/><rect x="570.20" y="347.70" width="4.2" height="4.6" stroke="#e0607e" stroke-width="1.1" fill="#fad4dc"/><path d="M492.30 282.90V344.00M489.70 298.70h5.2" stroke="#2a2ab0" stroke-width="1.1" fill="none"/><path d="M517.30 275.90V293.70M514.70 284.20h5.2" stroke="#2a2ab0" stroke-width="1.1" fill="none"/><path d="M534.40 300.70V344.00M531.80 317.50h5.2" stroke="#2a2ab0" stroke-width="1.1" fill="none"/><path d="M546.10 272.90V287.50M543.50 279.40h5.2" stroke="#5252cc" stroke-width="1.45" fill="none"/><path d="M555.70 272.00V285.90M553.10 277.80h5.2" stroke="#5252cc" stroke-width="1.45" fill="none"/><path d="M563.10 254.20V264.70M560.50 259.00h5.2" stroke="#5252cc" stroke-width="1.45" fill="none"/><path d="M569.50 250.90V267.20M566.90 258.20h5.2" stroke="#5252cc" stroke-width="1.45" fill="none"/><path d="M575.00 256.60V286.70M572.40 267.20h5.2" stroke="#5252cc" stroke-width="1.45" fill="none"/><path d="M579.50 233.40V245.20M576.90 239.50h5.2" stroke="#5252cc" stroke-width="1.45" fill="none"/></g></g>
<path d="M44.45 123.30v-1.3M44.45 13.20v1.3M49.93 123.30v-1.3M49.93 13.20v1.3M54.77 123.30v-1.3M54.77 13.20v1.3M59.10 123.30v-2.4M59.10 13.20v2.4M87.58 123.30v-1.3M87.58 13.20v1.3M104.24 123.30v-1.3M104.24 13.20v1.3M116.05 123.30v-1.3M116.05 13.20v1.3M125.22 123.30v-2.4M125.22 13.20v2.4M132.71 123.30v-1.3M132.71 13.20v1.3M139.05 123.30v-1.3M139.05 13.20v1.3M144.53 123.30v-1.3M144.53 13.20v1.3M38.70 116.49h1.3M147.40 116.49h-1.3M38.70 111.16h1.3M147.40 111.16h-1.3M38.70 106.80h1.3M147.40 106.80h-1.3M38.70 103.12h1.3M147.40 103.12h-1.3M38.70 99.93h1.3M147.40 99.93h-1.3M38.70 97.12h1.3M147.40 97.12h-1.3M38.70 94.60h2.4M147.40 94.60h-2.4M38.70 78.04h1.3M147.40 78.04h-1.3M38.70 68.36h1.3M147.40 68.36h-1.3M38.70 61.49h1.3M147.40 61.49h-1.3M38.70 56.16h1.3M147.40 56.16h-1.3M38.70 51.80h1.3M147.40 51.80h-1.3M38.70 48.12h1.3M147.40 48.12h-1.3M38.70 44.93h1.3M147.40 44.93h-1.3M38.70 42.12h1.3M147.40 42.12h-1.3M38.70 39.60h2.4M147.40 39.60h-2.4M38.70 23.04h1.3M147.40 23.04h-1.3" stroke="#333" stroke-width="1.0" fill="none"/>
<rect x="38.70" y="13.20" width="108.70" height="110.10" fill="none" stroke="#3a3a3a" stroke-width="1.2"/>
<path d="M153.15 123.30v-1.3M153.15 13.20v1.3M158.63 123.30v-1.3M158.63 13.20v1.3M163.47 123.30v-1.3M163.47 13.20v1.3M167.80 123.30v-2.4M167.80 13.20v2.4M196.28 123.30v-1.3M196.28 13.20v1.3M212.94 123.30v-1.3M212.94 13.20v1.3M224.75 123.30v-1.3M224.75 13.20v1.3M233.92 123.30v-2.4M233.92 13.20v2.4M241.41 123.30v-1.3M241.41 13.20v1.3M247.75 123.30v-1.3M247.75 13.20v1.3M253.23 123.30v-1.3M253.23 13.20v1.3M147.40 121.74h1.3M256.10 121.74h-1.3M147.40 112.06h1.3M256.10 112.06h-1.3M147.40 105.19h1.3M256.10 105.19h-1.3M147.40 99.86h1.3M256.10 99.86h-1.3M147.40 95.50h1.3M256.10 95.50h-1.3M147.40 91.82h1.3M256.10 91.82h-1.3M147.40 88.63h1.3M256.10 88.63h-1.3M147.40 85.82h1.3M256.10 85.82h-1.3M147.40 83.30h2.4M256.10 83.30h-2.4M147.40 66.74h1.3M256.10 66.74h-1.3M147.40 57.06h1.3M256.10 57.06h-1.3M147.40 50.19h1.3M256.10 50.19h-1.3M147.40 44.86h1.3M256.10 44.86h-1.3M147.40 40.50h1.3M256.10 40.50h-1.3M147.40 36.82h1.3M256.10 36.82h-1.3M147.40 33.63h1.3M256.10 33.63h-1.3M147.40 30.82h1.3M256.10 30.82h-1.3M147.40 28.30h2.4M256.10 28.30h-2.4" stroke="#333" stroke-width="1.0" fill="none"/>
<rect x="147.40" y="13.20" width="108.70" height="110.10" fill="none" stroke="#3a3a3a" stroke-width="1.2"/>
<path d="M261.85 123.30v-1.3M261.85 13.20v1.3M267.33 123.30v-1.3M267.33 13.20v1.3M272.17 123.30v-1.3M272.17 13.20v1.3M276.50 123.30v-2.4M276.50 13.20v2.4M304.98 123.30v-1.3M304.98 13.20v1.3M321.64 123.30v-1.3M321.64 13.20v1.3M333.45 123.30v-1.3M333.45 13.20v1.3M342.62 123.30v-2.4M342.62 13.20v2.4M350.11 123.30v-1.3M350.11 13.20v1.3M356.45 123.30v-1.3M356.45 13.20v1.3M361.93 123.30v-1.3M361.93 13.20v1.3M256.10 121.72h1.3M364.80 121.72h-1.3M256.10 119.20h2.4M364.80 119.20h-2.4M256.10 102.64h1.3M364.80 102.64h-1.3M256.10 92.96h1.3M364.80 92.96h-1.3M256.10 86.09h1.3M364.80 86.09h-1.3M256.10 80.76h1.3M364.80 80.76h-1.3M256.10 76.40h1.3M364.80 76.40h-1.3M256.10 72.72h1.3M364.80 72.72h-1.3M256.10 69.53h1.3M364.80 69.53h-1.3M256.10 66.72h1.3M364.80 66.72h-1.3M256.10 64.20h2.4M364.80 64.20h-2.4M256.10 47.64h1.3M364.80 47.64h-1.3M256.10 37.96h1.3M364.80 37.96h-1.3M256.10 31.09h1.3M364.80 31.09h-1.3M256.10 25.76h1.3M364.80 25.76h-1.3M256.10 21.40h1.3M364.80 21.40h-1.3M256.10 17.72h1.3M364.80 17.72h-1.3M256.10 14.53h1.3M364.80 14.53h-1.3" stroke="#333" stroke-width="1.0" fill="none"/>
<rect x="256.10" y="13.20" width="108.70" height="110.10" fill="none" stroke="#3a3a3a" stroke-width="1.2"/>
<path d="M370.55 123.30v-1.3M370.55 13.20v1.3M376.03 123.30v-1.3M376.03 13.20v1.3M380.87 123.30v-1.3M380.87 13.20v1.3M385.20 123.30v-2.4M385.20 13.20v2.4M413.68 123.30v-1.3M413.68 13.20v1.3M430.34 123.30v-1.3M430.34 13.20v1.3M442.15 123.30v-1.3M442.15 13.20v1.3M451.32 123.30v-2.4M451.32 13.20v2.4M458.81 123.30v-1.3M458.81 13.20v1.3M465.15 123.30v-1.3M465.15 13.20v1.3M470.63 123.30v-1.3M470.63 13.20v1.3M364.80 118.16h1.3M473.50 118.16h-1.3M364.80 113.80h1.3M473.50 113.80h-1.3M364.80 110.12h1.3M473.50 110.12h-1.3M364.80 106.93h1.3M473.50 106.93h-1.3M364.80 104.12h1.3M473.50 104.12h-1.3M364.80 101.60h2.4M473.50 101.60h-2.4M364.80 85.04h1.3M473.50 85.04h-1.3M364.80 75.36h1.3M473.50 75.36h-1.3M364.80 68.49h1.3M473.50 68.49h-1.3M364.80 63.16h1.3M473.50 63.16h-1.3M364.80 58.80h1.3M473.50 58.80h-1.3M364.80 55.12h1.3M473.50 55.12h-1.3M364.80 51.93h1.3M473.50 51.93h-1.3M364.80 49.12h1.3M473.50 49.12h-1.3M364.80 46.60h2.4M473.50 46.60h-2.4M364.80 30.04h1.3M473.50 30.04h-1.3M364.80 20.36h1.3M473.50 20.36h-1.3" stroke="#333" stroke-width="1.0" fill="none"/>
<rect x="364.80" y="13.20" width="108.70" height="110.10" fill="none" stroke="#3a3a3a" stroke-width="1.2"/>
<path d="M479.25 123.30v-1.3M479.25 13.20v1.3M484.73 123.30v-1.3M484.73 13.20v1.3M489.57 123.30v-1.3M489.57 13.20v1.3M493.90 123.30v-2.4M493.90 13.20v2.4M522.38 123.30v-1.3M522.38 13.20v1.3M539.04 123.30v-1.3M539.04 13.20v1.3M550.85 123.30v-1.3M550.85 13.20v1.3M560.02 123.30v-2.4M560.02 13.20v2.4M567.51 123.30v-1.3M567.51 13.20v1.3M573.85 123.30v-1.3M573.85 13.20v1.3M579.33 123.30v-1.3M579.33 13.20v1.3M473.50 116.84h1.3M582.20 116.84h-1.3M473.50 107.16h1.3M582.20 107.16h-1.3M473.50 100.29h1.3M582.20 100.29h-1.3M473.50 94.96h1.3M582.20 94.96h-1.3M473.50 90.60h1.3M582.20 90.60h-1.3M473.50 86.92h1.3M582.20 86.92h-1.3M473.50 83.73h1.3M582.20 83.73h-1.3M473.50 80.92h1.3M582.20 80.92h-1.3M473.50 78.40h2.4M582.20 78.40h-2.4M473.50 61.84h1.3M582.20 61.84h-1.3M473.50 52.16h1.3M582.20 52.16h-1.3M473.50 45.29h1.3M582.20 45.29h-1.3M473.50 39.96h1.3M582.20 39.96h-1.3M473.50 35.60h1.3M582.20 35.60h-1.3M473.50 31.92h1.3M582.20 31.92h-1.3M473.50 28.73h1.3M582.20 28.73h-1.3M473.50 25.92h1.3M582.20 25.92h-1.3M473.50 23.40h2.4M582.20 23.40h-2.4" stroke="#333" stroke-width="1.0" fill="none"/>
<rect x="473.50" y="13.20" width="108.70" height="110.10" fill="none" stroke="#3a3a3a" stroke-width="1.2"/>
<path d="M153.15 233.40v-1.3M153.15 123.30v1.3M158.63 233.40v-1.3M158.63 123.30v1.3M163.47 233.40v-1.3M163.47 123.30v1.3M167.80 233.40v-2.4M167.80 123.30v2.4M196.28 233.40v-1.3M196.28 123.30v1.3M212.94 233.40v-1.3M212.94 123.30v1.3M224.75 233.40v-1.3M224.75 123.30v1.3M233.92 233.40v-2.4M233.92 123.30v2.4M241.41 233.40v-1.3M241.41 123.30v1.3M247.75 233.40v-1.3M247.75 123.30v1.3M253.23 233.40v-1.3M253.23 123.30v1.3M147.40 232.84h1.3M256.10 232.84h-1.3M147.40 223.16h1.3M256.10 223.16h-1.3M147.40 216.29h1.3M256.10 216.29h-1.3M147.40 210.96h1.3M256.10 210.96h-1.3M147.40 206.60h1.3M256.10 206.60h-1.3M147.40 202.92h1.3M256.10 202.92h-1.3M147.40 199.73h1.3M256.10 199.73h-1.3M147.40 196.92h1.3M256.10 196.92h-1.3M147.40 194.40h2.4M256.10 194.40h-2.4M147.40 177.84h1.3M256.10 177.84h-1.3M147.40 168.16h1.3M256.10 168.16h-1.3M147.40 161.29h1.3M256.10 161.29h-1.3M147.40 155.96h1.3M256.10 155.96h-1.3M147.40 151.60h1.3M256.10 151.60h-1.3M147.40 147.92h1.3M256.10 147.92h-1.3M147.40 144.73h1.3M256.10 144.73h-1.3M147.40 141.92h1.3M256.10 141.92h-1.3M147.40 139.40h2.4M256.10 139.40h-2.4" stroke="#333" stroke-width="1.0" fill="none"/>
<rect x="147.40" y="123.30" width="108.70" height="110.10" fill="none" stroke="#3a3a3a" stroke-width="1.2"/>
<path d="M261.85 233.40v-1.3M261.85 123.30v1.3M267.33 233.40v-1.3M267.33 123.30v1.3M272.17 233.40v-1.3M272.17 123.30v1.3M276.50 233.40v-2.4M276.50 123.30v2.4M304.98 233.40v-1.3M304.98 123.30v1.3M321.64 233.40v-1.3M321.64 123.30v1.3M333.45 233.40v-1.3M333.45 123.30v1.3M342.62 233.40v-2.4M342.62 123.30v2.4M350.11 233.40v-1.3M350.11 123.30v1.3M356.45 233.40v-1.3M356.45 123.30v1.3M361.93 233.40v-1.3M361.93 123.30v1.3M256.10 233.02h1.3M364.80 233.02h-1.3M256.10 229.83h1.3M364.80 229.83h-1.3M256.10 227.02h1.3M364.80 227.02h-1.3M256.10 224.50h2.4M364.80 224.50h-2.4M256.10 207.94h1.3M364.80 207.94h-1.3M256.10 198.26h1.3M364.80 198.26h-1.3M256.10 191.39h1.3M364.80 191.39h-1.3M256.10 186.06h1.3M364.80 186.06h-1.3M256.10 181.70h1.3M364.80 181.70h-1.3M256.10 178.02h1.3M364.80 178.02h-1.3M256.10 174.83h1.3M364.80 174.83h-1.3M256.10 172.02h1.3M364.80 172.02h-1.3M256.10 169.50h2.4M364.80 169.50h-2.4M256.10 152.94h1.3M364.80 152.94h-1.3M256.10 143.26h1.3M364.80 143.26h-1.3M256.10 136.39h1.3M364.80 136.39h-1.3M256.10 131.06h1.3M364.80 131.06h-1.3M256.10 126.70h1.3M364.80 126.70h-1.3" stroke="#333" stroke-width="1.0" fill="none"/>
<rect x="256.10" y="123.30" width="108.70" height="110.10" fill="none" stroke="#3a3a3a" stroke-width="1.2"/>
<path d="M370.55 233.40v-1.3M370.55 123.30v1.3M376.03 233.40v-1.3M376.03 123.30v1.3M380.87 233.40v-1.3M380.87 123.30v1.3M385.20 233.40v-2.4M385.20 123.30v2.4M413.68 233.40v-1.3M413.68 123.30v1.3M430.34 233.40v-1.3M430.34 123.30v1.3M442.15 233.40v-1.3M442.15 123.30v1.3M451.32 233.40v-2.4M451.32 123.30v2.4M458.81 233.40v-1.3M458.81 123.30v1.3M465.15 233.40v-1.3M465.15 123.30v1.3M470.63 233.40v-1.3M470.63 123.30v1.3M364.80 228.66h1.3M473.50 228.66h-1.3M364.80 224.30h1.3M473.50 224.30h-1.3M364.80 220.62h1.3M473.50 220.62h-1.3M364.80 217.43h1.3M473.50 217.43h-1.3M364.80 214.62h1.3M473.50 214.62h-1.3M364.80 212.10h2.4M473.50 212.10h-2.4M364.80 195.54h1.3M473.50 195.54h-1.3M364.80 185.86h1.3M473.50 185.86h-1.3M364.80 178.99h1.3M473.50 178.99h-1.3M364.80 173.66h1.3M473.50 173.66h-1.3M364.80 169.30h1.3M473.50 169.30h-1.3M364.80 165.62h1.3M473.50 165.62h-1.3M364.80 162.43h1.3M473.50 162.43h-1.3M364.80 159.62h1.3M473.50 159.62h-1.3M364.80 157.10h2.4M473.50 157.10h-2.4M364.80 140.54h1.3M473.50 140.54h-1.3M364.80 130.86h1.3M473.50 130.86h-1.3M364.80 123.99h1.3M473.50 123.99h-1.3" stroke="#333" stroke-width="1.0" fill="none"/>
<rect x="364.80" y="123.30" width="108.70" height="110.10" fill="none" stroke="#3a3a3a" stroke-width="1.2"/>
<path d="M479.25 233.40v-1.3M479.25 123.30v1.3M484.73 233.40v-1.3M484.73 123.30v1.3M489.57 233.40v-1.3M489.57 123.30v1.3M493.90 233.40v-2.4M493.90 123.30v2.4M522.38 233.40v-1.3M522.38 123.30v1.3M539.04 233.40v-1.3M539.04 123.30v1.3M550.85 233.40v-1.3M550.85 123.30v1.3M560.02 233.40v-2.4M560.02 123.30v2.4M567.51 233.40v-1.3M567.51 123.30v1.3M573.85 233.40v-1.3M573.85 123.30v1.3M579.33 233.40v-1.3M579.33 123.30v1.3M473.50 232.44h1.3M582.20 232.44h-1.3M473.50 222.76h1.3M582.20 222.76h-1.3M473.50 215.89h1.3M582.20 215.89h-1.3M473.50 210.56h1.3M582.20 210.56h-1.3M473.50 206.20h1.3M582.20 206.20h-1.3M473.50 202.52h1.3M582.20 202.52h-1.3M473.50 199.33h1.3M582.20 199.33h-1.3M473.50 196.52h1.3M582.20 196.52h-1.3M473.50 194.00h2.4M582.20 194.00h-2.4M473.50 177.44h1.3M582.20 177.44h-1.3M473.50 167.76h1.3M582.20 167.76h-1.3M473.50 160.89h1.3M582.20 160.89h-1.3M473.50 155.56h1.3M582.20 155.56h-1.3M473.50 151.20h1.3M582.20 151.20h-1.3M473.50 147.52h1.3M582.20 147.52h-1.3M473.50 144.33h1.3M582.20 144.33h-1.3M473.50 141.52h1.3M582.20 141.52h-1.3M473.50 139.00h2.4M582.20 139.00h-2.4" stroke="#333" stroke-width="1.0" fill="none"/>
<rect x="473.50" y="123.30" width="108.70" height="110.10" fill="none" stroke="#3a3a3a" stroke-width="1.2"/>
<path d="M261.85 343.50v-1.3M261.85 233.40v1.3M267.33 343.50v-1.3M267.33 233.40v1.3M272.17 343.50v-1.3M272.17 233.40v1.3M276.50 343.50v-2.4M276.50 233.40v2.4M304.98 343.50v-1.3M304.98 233.40v1.3M321.64 343.50v-1.3M321.64 233.40v1.3M333.45 343.50v-1.3M333.45 233.40v1.3M342.62 343.50v-2.4M342.62 233.40v2.4M350.11 343.50v-1.3M350.11 233.40v1.3M356.45 343.50v-1.3M356.45 233.40v1.3M361.93 343.50v-1.3M361.93 233.40v1.3M256.10 342.79h1.3M364.80 342.79h-1.3M256.10 337.46h1.3M364.80 337.46h-1.3M256.10 333.10h1.3M364.80 333.10h-1.3M256.10 329.42h1.3M364.80 329.42h-1.3M256.10 326.23h1.3M364.80 326.23h-1.3M256.10 323.42h1.3M364.80 323.42h-1.3M256.10 320.90h2.4M364.80 320.90h-2.4M256.10 304.34h1.3M364.80 304.34h-1.3M256.10 294.66h1.3M364.80 294.66h-1.3M256.10 287.79h1.3M364.80 287.79h-1.3M256.10 282.46h1.3M364.80 282.46h-1.3M256.10 278.10h1.3M364.80 278.10h-1.3M256.10 274.42h1.3M364.80 274.42h-1.3M256.10 271.23h1.3M364.80 271.23h-1.3M256.10 268.42h1.3M364.80 268.42h-1.3M256.10 265.90h2.4M364.80 265.90h-2.4M256.10 249.34h1.3M364.80 249.34h-1.3M256.10 239.66h1.3M364.80 239.66h-1.3" stroke="#333" stroke-width="1.0" fill="none"/>
<rect x="256.10" y="233.40" width="108.70" height="110.10" fill="none" stroke="#3a3a3a" stroke-width="1.2"/>
<path d="M370.55 343.50v-1.3M370.55 233.40v1.3M376.03 343.50v-1.3M376.03 233.40v1.3M380.87 343.50v-1.3M380.87 233.40v1.3M385.20 343.50v-2.4M385.20 233.40v2.4M413.68 343.50v-1.3M413.68 233.40v1.3M430.34 343.50v-1.3M430.34 233.40v1.3M442.15 343.50v-1.3M442.15 233.40v1.3M451.32 343.50v-2.4M451.32 233.40v2.4M458.81 343.50v-1.3M458.81 233.40v1.3M465.15 343.50v-1.3M465.15 233.40v1.3M470.63 343.50v-1.3M470.63 233.40v1.3M364.80 340.64h1.3M473.50 340.64h-1.3M364.80 330.96h1.3M473.50 330.96h-1.3M364.80 324.09h1.3M473.50 324.09h-1.3M364.80 318.76h1.3M473.50 318.76h-1.3M364.80 314.40h1.3M473.50 314.40h-1.3M364.80 310.72h1.3M473.50 310.72h-1.3M364.80 307.53h1.3M473.50 307.53h-1.3M364.80 304.72h1.3M473.50 304.72h-1.3M364.80 302.20h2.4M473.50 302.20h-2.4M364.80 285.64h1.3M473.50 285.64h-1.3M364.80 275.96h1.3M473.50 275.96h-1.3M364.80 269.09h1.3M473.50 269.09h-1.3M364.80 263.76h1.3M473.50 263.76h-1.3M364.80 259.40h1.3M473.50 259.40h-1.3M364.80 255.72h1.3M473.50 255.72h-1.3M364.80 252.53h1.3M473.50 252.53h-1.3M364.80 249.72h1.3M473.50 249.72h-1.3M364.80 247.20h2.4M473.50 247.20h-2.4" stroke="#333" stroke-width="1.0" fill="none"/>
<rect x="364.80" y="233.40" width="108.70" height="110.10" fill="none" stroke="#3a3a3a" stroke-width="1.2"/>
<path d="M479.25 343.50v-1.3M479.25 233.40v1.3M484.73 343.50v-1.3M484.73 233.40v1.3M489.57 343.50v-1.3M489.57 233.40v1.3M493.90 343.50v-2.4M493.90 233.40v2.4M522.38 343.50v-1.3M522.38 233.40v1.3M539.04 343.50v-1.3M539.04 233.40v1.3M550.85 343.50v-1.3M550.85 233.40v1.3M560.02 343.50v-2.4M560.02 233.40v2.4M567.51 343.50v-1.3M567.51 233.40v1.3M573.85 343.50v-1.3M573.85 233.40v1.3M579.33 343.50v-1.3M579.33 233.40v1.3M473.50 342.32h1.3M582.20 342.32h-1.3M473.50 339.80h2.4M582.20 339.80h-2.4M473.50 323.24h1.3M582.20 323.24h-1.3M473.50 313.56h1.3M582.20 313.56h-1.3M473.50 306.69h1.3M582.20 306.69h-1.3M473.50 301.36h1.3M582.20 301.36h-1.3M473.50 297.00h1.3M582.20 297.00h-1.3M473.50 293.32h1.3M582.20 293.32h-1.3M473.50 290.13h1.3M582.20 290.13h-1.3M473.50 287.32h1.3M582.20 287.32h-1.3M473.50 284.80h2.4M582.20 284.80h-2.4M473.50 268.24h1.3M582.20 268.24h-1.3M473.50 258.56h1.3M582.20 258.56h-1.3M473.50 251.69h1.3M582.20 251.69h-1.3M473.50 246.36h1.3M582.20 246.36h-1.3M473.50 242.00h1.3M582.20 242.00h-1.3M473.50 238.32h1.3M582.20 238.32h-1.3M473.50 235.13h1.3M582.20 235.13h-1.3" stroke="#333" stroke-width="1.0" fill="none"/>
<rect x="473.50" y="233.40" width="108.70" height="110.10" fill="none" stroke="#3a3a3a" stroke-width="1.2"/>
<text transform="translate(35.90,43.90) scale(0.9,1)" x="0" y="0" text-anchor="end" font-size="10.2" class="t"><tspan letter-spacing="0.75">10</tspan><tspan font-size="6.6" dx="0.2" dy="-4.9">14</tspan></text>
<text transform="translate(35.90,98.90) scale(0.9,1)" x="0" y="0" text-anchor="end" font-size="10.2" class="t"><tspan letter-spacing="0.75">10</tspan><tspan font-size="6.6" dx="0.2" dy="-4.9">13</tspan></text>
<text transform="translate(144.60,32.60) scale(0.9,1)" x="0" y="0" text-anchor="end" font-size="10.2" class="t"><tspan letter-spacing="0.75">10</tspan><tspan font-size="6.6" dx="0.2" dy="-4.9">12</tspan></text>
<text transform="translate(144.60,87.60) scale(0.9,1)" x="0" y="0" text-anchor="end" font-size="10.2" class="t"><tspan letter-spacing="0.75">10</tspan><tspan font-size="6.6" dx="0.2" dy="-4.9">11</tspan></text>
<text transform="translate(253.30,68.50) scale(0.9,1)" x="0" y="0" text-anchor="end" font-size="10.2" class="t"><tspan letter-spacing="0.75">10</tspan><tspan font-size="6.6" dx="0.2" dy="-4.9">10</tspan></text>
<text transform="translate(253.30,123.50) scale(0.9,1)" x="0" y="0" text-anchor="end" font-size="10.2" class="t"><tspan letter-spacing="0.75">10</tspan><tspan font-size="6.6" dx="0.2" dy="-4.9">9</tspan></text>
<text transform="translate(362.00,50.90) scale(0.9,1)" x="0" y="0" text-anchor="end" font-size="10.2" class="t"><tspan letter-spacing="0.75">10</tspan><tspan font-size="6.6" dx="0.2" dy="-4.9">8</tspan></text>
<text transform="translate(362.00,105.90) scale(0.9,1)" x="0" y="0" text-anchor="end" font-size="10.2" class="t"><tspan letter-spacing="0.75">10</tspan><tspan font-size="6.6" dx="0.2" dy="-4.9">7</tspan></text>
<text transform="translate(470.70,27.70) scale(0.9,1)" x="0" y="0" text-anchor="end" font-size="10.2" class="t"><tspan letter-spacing="0.75">10</tspan><tspan font-size="6.6" dx="0.2" dy="-4.9">8</tspan></text>
<text transform="translate(470.70,82.70) scale(0.9,1)" x="0" y="0" text-anchor="end" font-size="10.2" class="t"><tspan letter-spacing="0.75">10</tspan><tspan font-size="6.6" dx="0.2" dy="-4.9">7</tspan></text>
<text transform="translate(144.60,143.70) scale(0.9,1)" x="0" y="0" text-anchor="end" font-size="10.2" class="t"><tspan letter-spacing="0.75">10</tspan><tspan font-size="6.6" dx="0.2" dy="-4.9">10</tspan></text>
<text transform="translate(144.60,198.70) scale(0.9,1)" x="0" y="0" text-anchor="end" font-size="10.2" class="t"><tspan letter-spacing="0.75">10</tspan><tspan font-size="6.6" dx="0.2" dy="-4.9">9</tspan></text>
<text transform="translate(253.30,173.80) scale(0.9,1)" x="0" y="0" text-anchor="end" font-size="10.2" class="t"><tspan letter-spacing="0.75">10</tspan><tspan font-size="6.6" dx="0.2" dy="-4.9">8</tspan></text>
<text transform="translate(253.30,228.80) scale(0.9,1)" x="0" y="0" text-anchor="end" font-size="10.2" class="t"><tspan letter-spacing="0.75">10</tspan><tspan font-size="6.6" dx="0.2" dy="-4.9">7</tspan></text>
<text transform="translate(362.00,161.40) scale(0.9,1)" x="0" y="0" text-anchor="end" font-size="10.2" class="t"><tspan letter-spacing="0.75">10</tspan><tspan font-size="6.6" dx="0.2" dy="-4.9">6</tspan></text>
<text transform="translate(362.00,216.40) scale(0.9,1)" x="0" y="0" text-anchor="end" font-size="10.2" class="t"><tspan letter-spacing="0.75">10</tspan><tspan font-size="6.6" dx="0.2" dy="-4.9">5</tspan></text>
<text transform="translate(470.70,143.30) scale(0.9,1)" x="0" y="0" text-anchor="end" font-size="10.2" class="t"><tspan letter-spacing="0.75">10</tspan><tspan font-size="6.6" dx="0.2" dy="-4.9">6</tspan></text>
<text transform="translate(470.70,198.30) scale(0.9,1)" x="0" y="0" text-anchor="end" font-size="10.2" class="t"><tspan letter-spacing="0.75">10</tspan><tspan font-size="6.6" dx="0.2" dy="-4.9">5</tspan></text>
<text transform="translate(253.30,270.20) scale(0.9,1)" x="0" y="0" text-anchor="end" font-size="10.2" class="t"><tspan letter-spacing="0.75">10</tspan><tspan font-size="6.6" dx="0.2" dy="-4.9">7</tspan></text>
<text transform="translate(253.30,325.20) scale(0.9,1)" x="0" y="0" text-anchor="end" font-size="10.2" class="t"><tspan letter-spacing="0.75">10</tspan><tspan font-size="6.6" dx="0.2" dy="-4.9">6</tspan></text>
<text transform="translate(362.00,251.50) scale(0.9,1)" x="0" y="0" text-anchor="end" font-size="10.2" class="t"><tspan letter-spacing="0.75">10</tspan><tspan font-size="6.6" dx="0.2" dy="-4.9">5</tspan></text>
<text transform="translate(362.00,306.50) scale(0.9,1)" x="0" y="0" text-anchor="end" font-size="10.2" class="t"><tspan letter-spacing="0.75">10</tspan><tspan font-size="6.6" dx="0.2" dy="-4.9">4</tspan></text>
<text transform="translate(470.70,289.10) scale(0.9,1)" x="0" y="0" text-anchor="end" font-size="10.2" class="t"><tspan letter-spacing="0.75">10</tspan><tspan font-size="6.6" dx="0.2" dy="-4.9">4</tspan></text>
<text transform="translate(470.70,344.10) scale(0.9,1)" x="0" y="0" text-anchor="end" font-size="10.2" class="t"><tspan letter-spacing="0.75">10</tspan><tspan font-size="6.6" dx="0.2" dy="-4.9">3</tspan></text>
<text transform="translate(59.70,138.80) scale(0.9,1)" x="0" y="0" text-anchor="middle" font-size="10.2" letter-spacing="0.75" class="t">1000</text>
<text transform="translate(125.82,138.80) scale(0.9,1)" x="0" y="0" text-anchor="middle" font-size="10.2" letter-spacing="0.75" class="t">5000</text>
<text transform="translate(277.10,359.00) scale(0.9,1)" x="0" y="0" text-anchor="middle" font-size="10.2" letter-spacing="0.75" class="t">1000</text>
<text transform="translate(343.22,359.00) scale(0.9,1)" x="0" y="0" text-anchor="middle" font-size="10.2" letter-spacing="0.75" class="t">5000</text>
<text transform="translate(385.80,359.00) scale(0.9,1)" x="0" y="0" text-anchor="middle" font-size="10.2" letter-spacing="0.75" class="t">1000</text>
<text transform="translate(451.92,359.00) scale(0.9,1)" x="0" y="0" text-anchor="middle" font-size="10.2" letter-spacing="0.75" class="t">5000</text>
<text transform="translate(494.50,359.00) scale(0.9,1)" x="0" y="0" text-anchor="middle" font-size="10.2" letter-spacing="0.75" class="t">1000</text>
<text transform="translate(560.62,359.00) scale(0.9,1)" x="0" y="0" text-anchor="middle" font-size="10.2" letter-spacing="0.75" class="t">5000</text>
<text x="92.35" y="8.6" text-anchor="middle" font-size="11" class="t">250<tspan dx="5.2" font-style="italic">&#956;</tspan>m</text>
<text x="201.05" y="8.6" text-anchor="middle" font-size="11" class="t">350<tspan dx="5.2" font-style="italic">&#956;</tspan>m</text>
<text x="309.75" y="8.6" text-anchor="middle" font-size="11" class="t">500<tspan dx="5.2" font-style="italic">&#956;</tspan>m</text>
<text x="418.45" y="8.6" text-anchor="middle" font-size="11" class="t">1380<tspan dx="5.2" font-style="italic">&#956;</tspan>m</text>
<text x="527.15" y="8.6" text-anchor="middle" font-size="11" class="t">2030<tspan dx="5.2" font-style="italic">&#956;</tspan>m</text>
<text transform="translate(597.6,68.85) rotate(-90)" text-anchor="middle" font-size="10.5" class="t">250<tspan dx="4.6" font-style="italic">&#956;</tspan>m</text>
<text transform="translate(597.6,178.95) rotate(-90)" text-anchor="middle" font-size="10.5" class="t">350<tspan dx="4.6" font-style="italic">&#956;</tspan>m</text>
<text transform="translate(597.6,289.05) rotate(-90)" text-anchor="middle" font-size="10.5" class="t">500<tspan dx="4.6" font-style="italic">&#956;</tspan>m</text>
<text transform="translate(10.8,179) rotate(-90)" text-anchor="middle" font-size="11.5" class="t" textLength="84.5" lengthAdjust="spacing"><tspan font-family="Liberation Serif" font-style="italic">l</tspan><tspan font-size="7" dy="-4.5">2</tspan><tspan dy="4.5"> C</tspan><tspan font-size="7.5" dy="2.5" font-family="Liberation Serif" font-style="italic">l</tspan><tspan dy="-2.5">/2&#960; (</tspan><tspan font-style="italic">&#956;</tspan>K<tspan font-size="7" dy="-4.5">2</tspan><tspan dy="4.5">)</tspan></text>
<path d="M312.5 355.7L309.3 366.6Q308.8 368.7 310.4 367.7L312.4 366" stroke="#222" stroke-width="1.75" fill="none" stroke-linecap="round" stroke-linejoin="round"/>
<line x1="53" y1="266.30" x2="86" y2="266.30" stroke="#6a6ad0" stroke-width="1" stroke-dasharray="1 2"/>
<text x="93.3" y="269.40" font-size="8.3" class="b" textLength="125.8" lengthAdjust="spacing">Best&#8211;fit Poisson and Clustered</text>
<line x1="53" y1="276.30" x2="86" y2="276.30" stroke="#4a4ab4" stroke-width="1"/>
<text x="93.3" y="279.40" font-size="8.3" class="b" textLength="54.9" lengthAdjust="spacing">Best&#8211;fit Total</text>
<line x1="53" y1="286.30" x2="86" y2="286.30" stroke="#b09870" stroke-width="1"/>
<text x="93.3" y="289.40" font-size="8.3" class="b" textLength="123.7" lengthAdjust="spacing">M10 Model: Poisson+Clustered</text>
<line x1="53" y1="296.30" x2="86" y2="296.30" stroke="#6cc064" stroke-width="1"/>
<text x="93.3" y="299.40" font-size="8.3" class="b" textLength="122.7" lengthAdjust="spacing">B10 Model: Poisson+Clustered</text>
<path d="M67.5 306.30h5.5M70.25 303.55v5.5" stroke="#3232a0" stroke-width="1"/>
<text x="93.3" y="309.40" font-size="8.3" class="b" textLength="115.9" lengthAdjust="spacing">This Paper: Cirrus Corrected</text>
<rect x="67.8" y="314.10" width="5.2" height="5.2" fill="#fde6eb" stroke="#dc5078" stroke-width="1.3"/>
<text x="93.3" y="319.40" font-size="8.3" class="b" textLength="118.5" lengthAdjust="spacing">This Paper: Clustering Signal</text>
<path d="M68 324.00l4.6 4.6M72.6 324.00l-4.6 4.6" stroke="#dc50dc" stroke-width="0.9"/>
<text x="93.3" y="329.40" font-size="8.3" class="b" textLength="77.1" lengthAdjust="spacing">Viero et al. (2009)</text>
</svg></body></html>
